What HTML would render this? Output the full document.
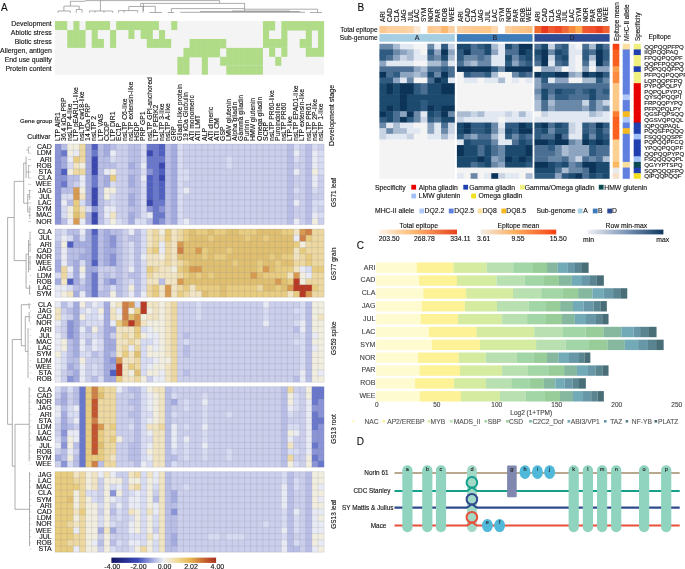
<!DOCTYPE html>
<html><head><meta charset="utf-8"><style>
html,body{margin:0;padding:0;background:#fff;}
body{width:685px;height:569px;overflow:hidden;}
svg{display:block;font-family:"Liberation Sans", sans-serif;will-change:transform;}

</style></head><body>
<svg width="685" height="569" viewBox="0 0 685 569" font-family='"Liberation Sans", sans-serif'>
<rect width="685" height="569" fill="#fff"/>
<text x="0.9" y="10.9" font-size="10" text-anchor="start" fill="#111" stroke="#111" stroke-width="0.12">A</text>
<line x1="70.4" y1="1.3" x2="85" y2="1.3" stroke="#8a8a8a" stroke-width="0.7"/>
<line x1="85" y1="0.6" x2="219.6" y2="0.6" stroke="#8a8a8a" stroke-width="0.7"/>
<line x1="219.6" y1="0.6" x2="219.6" y2="3.2" stroke="#8a8a8a" stroke-width="0.7"/>
<line x1="140.7" y1="3.4" x2="244.6" y2="3.4" stroke="#8a8a8a" stroke-width="0.7"/>
<line x1="70.4" y1="1.3" x2="70.4" y2="6.1" stroke="#8a8a8a" stroke-width="0.7"/>
<line x1="63.9" y1="6.1" x2="79.2" y2="6.1" stroke="#8a8a8a" stroke-width="0.7"/>
<line x1="63.9" y1="6.1" x2="63.9" y2="11" stroke="#8a8a8a" stroke-width="0.7"/>
<line x1="79.2" y1="6.1" x2="79.2" y2="9.5" stroke="#8a8a8a" stroke-width="0.7"/>
<line x1="76.3" y1="9.5" x2="82.1" y2="9.5" stroke="#8a8a8a" stroke-width="0.7"/>
<line x1="76.3" y1="9.5" x2="76.3" y2="12.7" stroke="#8a8a8a" stroke-width="0.7"/>
<line x1="82.1" y1="9.5" x2="82.1" y2="12.7" stroke="#8a8a8a" stroke-width="0.7"/>
<line x1="58" y1="11" x2="70.4" y2="11" stroke="#8a8a8a" stroke-width="0.7"/>
<line x1="58" y1="11" x2="58" y2="12.7" stroke="#8a8a8a" stroke-width="0.7"/>
<line x1="70.4" y1="11" x2="70.4" y2="12.7" stroke="#8a8a8a" stroke-width="0.7"/>
<line x1="100.4" y1="0.6" x2="100.4" y2="11" stroke="#8a8a8a" stroke-width="0.7"/>
<line x1="89.4" y1="11" x2="112.8" y2="11" stroke="#8a8a8a" stroke-width="0.7"/>
<line x1="89.4" y1="11" x2="89.4" y2="12.7" stroke="#8a8a8a" stroke-width="0.7"/>
<line x1="112.8" y1="11" x2="112.8" y2="12.7" stroke="#8a8a8a" stroke-width="0.7"/>
<line x1="95" y1="11" x2="95" y2="12.7" stroke="#8a8a8a" stroke-width="0.7"/>
<line x1="104" y1="11" x2="104" y2="12.7" stroke="#8a8a8a" stroke-width="0.7"/>
<line x1="143.4" y1="3.4" x2="143.4" y2="11" stroke="#8a8a8a" stroke-width="0.7"/>
<line x1="128.8" y1="6.5" x2="143.4" y2="6.5" stroke="#8a8a8a" stroke-width="0.7"/>
<line x1="128.8" y1="6.5" x2="128.8" y2="10.6" stroke="#8a8a8a" stroke-width="0.7"/>
<line x1="118.6" y1="10.6" x2="137.6" y2="10.6" stroke="#8a8a8a" stroke-width="0.7"/>
<line x1="118.6" y1="10.6" x2="118.6" y2="12.7" stroke="#8a8a8a" stroke-width="0.7"/>
<line x1="137.6" y1="10.6" x2="137.6" y2="12.7" stroke="#8a8a8a" stroke-width="0.7"/>
<line x1="124" y1="10.6" x2="124" y2="12.7" stroke="#8a8a8a" stroke-width="0.7"/>
<line x1="140.7" y1="3.4" x2="140.7" y2="6.3" stroke="#8a8a8a" stroke-width="0.7"/>
<line x1="143" y1="6.3" x2="155.3" y2="6.3" stroke="#8a8a8a" stroke-width="0.7"/>
<line x1="143" y1="6.3" x2="143" y2="12.5" stroke="#8a8a8a" stroke-width="0.7"/>
<line x1="155.3" y1="6.3" x2="155.3" y2="12.5" stroke="#8a8a8a" stroke-width="0.7"/>
<line x1="149.5" y1="12.5" x2="161.9" y2="12.5" stroke="#8a8a8a" stroke-width="0.7"/>
<line x1="171.4" y1="8.6" x2="244.6" y2="8.6" stroke="#8a8a8a" stroke-width="0.7"/>
<line x1="171.4" y1="8.6" x2="171.4" y2="12.5" stroke="#8a8a8a" stroke-width="0.7"/>
<line x1="167.7" y1="12.5" x2="174.3" y2="12.5" stroke="#8a8a8a" stroke-width="0.7"/>
<line x1="244.6" y1="3.4" x2="244.6" y2="11" stroke="#8a8a8a" stroke-width="0.7"/>
<line x1="244.6" y1="9.2" x2="317.6" y2="9.2" stroke="#8a8a8a" stroke-width="0.7"/>
<line x1="317.6" y1="9.2" x2="317.6" y2="12.5" stroke="#8a8a8a" stroke-width="0.7"/>
<line x1="310" y1="12.5" x2="322" y2="12.5" stroke="#8a8a8a" stroke-width="0.7"/>
<line x1="180.1" y1="12.3" x2="305" y2="12.3" stroke="#8a8a8a" stroke-width="0.7"/>
<line x1="200" y1="11.5" x2="300" y2="11.5" stroke="#8a8a8a" stroke-width="0.7"/>
<line x1="232" y1="11" x2="290" y2="11" stroke="#8a8a8a" stroke-width="0.7"/>
<rect x="55" y="21.1" width="269.1" height="53.58" fill="#f4f4f4"/>
<rect x="55" y="21.1" width="12.23" height="8.93" fill="#b0dc88"/>
<rect x="73.35" y="21.1" width="6.12" height="9.43" fill="#b0dc88"/>
<rect x="85.58" y="21.1" width="24.46" height="8.93" fill="#b0dc88"/>
<rect x="116.16" y="21.1" width="42.81" height="8.93" fill="#b0dc88"/>
<rect x="171.2" y="21.1" width="6.12" height="8.93" fill="#b0dc88"/>
<rect x="262.94" y="21.1" width="12.23" height="9.43" fill="#b0dc88"/>
<rect x="281.29" y="21.1" width="42.81" height="9.43" fill="#b0dc88"/>
<text x="51.8" y="26.07" font-size="6.9" text-anchor="end" fill="#111" stroke="#111" stroke-width="0.12">Development</text>
<rect x="67.23" y="30.03" width="18.35" height="9.43" fill="#b0dc88"/>
<rect x="91.7" y="30.03" width="6.12" height="9.43" fill="#b0dc88"/>
<rect x="110.04" y="30.03" width="6.12" height="9.43" fill="#b0dc88"/>
<rect x="128.39" y="30.03" width="6.12" height="8.93" fill="#b0dc88"/>
<rect x="140.62" y="30.03" width="12.23" height="8.93" fill="#b0dc88"/>
<rect x="158.97" y="30.03" width="6.12" height="9.43" fill="#b0dc88"/>
<rect x="262.94" y="30.03" width="6.12" height="9.43" fill="#b0dc88"/>
<rect x="281.29" y="30.03" width="6.12" height="9.43" fill="#b0dc88"/>
<rect x="305.76" y="30.03" width="6.12" height="9.43" fill="#b0dc88"/>
<rect x="317.99" y="30.03" width="6.12" height="9.43" fill="#b0dc88"/>
<text x="51.8" y="35" font-size="6.9" text-anchor="end" fill="#111" stroke="#111" stroke-width="0.12">Abiotic stress</text>
<rect x="67.23" y="38.96" width="18.35" height="8.93" fill="#b0dc88"/>
<rect x="91.7" y="38.96" width="12.23" height="8.93" fill="#b0dc88"/>
<rect x="110.04" y="38.96" width="6.12" height="8.93" fill="#b0dc88"/>
<rect x="146.74" y="38.96" width="24.46" height="8.93" fill="#b0dc88"/>
<rect x="189.55" y="38.96" width="36.7" height="9.43" fill="#b0dc88"/>
<rect x="262.94" y="38.96" width="24.46" height="8.93" fill="#b0dc88"/>
<rect x="299.64" y="38.96" width="12.23" height="8.93" fill="#b0dc88"/>
<rect x="317.99" y="38.96" width="6.12" height="9.43" fill="#b0dc88"/>
<text x="51.8" y="43.92" font-size="6.9" text-anchor="end" fill="#111" stroke="#111" stroke-width="0.12">Biotic stress</text>
<rect x="183.44" y="47.89" width="36.7" height="9.43" fill="#b0dc88"/>
<rect x="226.25" y="47.89" width="36.7" height="9.43" fill="#b0dc88"/>
<rect x="269.06" y="47.89" width="6.12" height="8.93" fill="#b0dc88"/>
<rect x="281.29" y="47.89" width="6.12" height="8.93" fill="#b0dc88"/>
<rect x="305.76" y="47.89" width="18.35" height="8.93" fill="#b0dc88"/>
<text x="51.8" y="52.86" font-size="6.9" text-anchor="end" fill="#111" stroke="#111" stroke-width="0.12">Allergen, antigen</text>
<rect x="177.32" y="56.82" width="12.23" height="9.43" fill="#b0dc88"/>
<rect x="201.78" y="56.82" width="6.12" height="9.43" fill="#b0dc88"/>
<rect x="220.13" y="56.82" width="42.81" height="8.93" fill="#b0dc88"/>
<rect x="275.18" y="56.82" width="6.12" height="8.93" fill="#b0dc88"/>
<text x="51.8" y="61.78" font-size="6.9" text-anchor="end" fill="#111" stroke="#111" stroke-width="0.12">End use quality</text>
<rect x="177.32" y="65.75" width="12.23" height="8.93" fill="#b0dc88"/>
<rect x="201.78" y="65.75" width="6.12" height="8.93" fill="#b0dc88"/>
<rect x="226.25" y="65.75" width="36.7" height="8.93" fill="#b0dc88"/>
<text x="51.8" y="70.72" font-size="6.9" text-anchor="end" fill="#111" stroke="#111" stroke-width="0.12">Protein content</text>
<line x1="61.12" y1="21.1" x2="61.12" y2="74.68" stroke="#ffffff" stroke-width="0.4" stroke-opacity="0.12"/>
<line x1="67.23" y1="21.1" x2="67.23" y2="74.68" stroke="#ffffff" stroke-width="0.4" stroke-opacity="0.12"/>
<line x1="73.35" y1="21.1" x2="73.35" y2="74.68" stroke="#ffffff" stroke-width="0.4" stroke-opacity="0.12"/>
<line x1="79.46" y1="21.1" x2="79.46" y2="74.68" stroke="#ffffff" stroke-width="0.4" stroke-opacity="0.12"/>
<line x1="85.58" y1="21.1" x2="85.58" y2="74.68" stroke="#ffffff" stroke-width="0.4" stroke-opacity="0.12"/>
<line x1="91.7" y1="21.1" x2="91.7" y2="74.68" stroke="#ffffff" stroke-width="0.4" stroke-opacity="0.12"/>
<line x1="97.81" y1="21.1" x2="97.81" y2="74.68" stroke="#ffffff" stroke-width="0.4" stroke-opacity="0.12"/>
<line x1="103.93" y1="21.1" x2="103.93" y2="74.68" stroke="#ffffff" stroke-width="0.4" stroke-opacity="0.12"/>
<line x1="110.04" y1="21.1" x2="110.04" y2="74.68" stroke="#ffffff" stroke-width="0.4" stroke-opacity="0.12"/>
<line x1="116.16" y1="21.1" x2="116.16" y2="74.68" stroke="#ffffff" stroke-width="0.4" stroke-opacity="0.12"/>
<line x1="122.28" y1="21.1" x2="122.28" y2="74.68" stroke="#ffffff" stroke-width="0.4" stroke-opacity="0.12"/>
<line x1="128.39" y1="21.1" x2="128.39" y2="74.68" stroke="#ffffff" stroke-width="0.4" stroke-opacity="0.12"/>
<line x1="134.51" y1="21.1" x2="134.51" y2="74.68" stroke="#ffffff" stroke-width="0.4" stroke-opacity="0.12"/>
<line x1="140.62" y1="21.1" x2="140.62" y2="74.68" stroke="#ffffff" stroke-width="0.4" stroke-opacity="0.12"/>
<line x1="146.74" y1="21.1" x2="146.74" y2="74.68" stroke="#ffffff" stroke-width="0.4" stroke-opacity="0.12"/>
<line x1="152.86" y1="21.1" x2="152.86" y2="74.68" stroke="#ffffff" stroke-width="0.4" stroke-opacity="0.12"/>
<line x1="158.97" y1="21.1" x2="158.97" y2="74.68" stroke="#ffffff" stroke-width="0.4" stroke-opacity="0.12"/>
<line x1="165.09" y1="21.1" x2="165.09" y2="74.68" stroke="#ffffff" stroke-width="0.4" stroke-opacity="0.12"/>
<line x1="171.2" y1="21.1" x2="171.2" y2="74.68" stroke="#ffffff" stroke-width="0.4" stroke-opacity="0.12"/>
<line x1="177.32" y1="21.1" x2="177.32" y2="74.68" stroke="#ffffff" stroke-width="0.4" stroke-opacity="0.12"/>
<line x1="183.44" y1="21.1" x2="183.44" y2="74.68" stroke="#ffffff" stroke-width="0.4" stroke-opacity="0.12"/>
<line x1="189.55" y1="21.1" x2="189.55" y2="74.68" stroke="#ffffff" stroke-width="0.4" stroke-opacity="0.12"/>
<line x1="195.67" y1="21.1" x2="195.67" y2="74.68" stroke="#ffffff" stroke-width="0.4" stroke-opacity="0.12"/>
<line x1="201.78" y1="21.1" x2="201.78" y2="74.68" stroke="#ffffff" stroke-width="0.4" stroke-opacity="0.12"/>
<line x1="207.9" y1="21.1" x2="207.9" y2="74.68" stroke="#ffffff" stroke-width="0.4" stroke-opacity="0.12"/>
<line x1="214.02" y1="21.1" x2="214.02" y2="74.68" stroke="#ffffff" stroke-width="0.4" stroke-opacity="0.12"/>
<line x1="220.13" y1="21.1" x2="220.13" y2="74.68" stroke="#ffffff" stroke-width="0.4" stroke-opacity="0.12"/>
<line x1="226.25" y1="21.1" x2="226.25" y2="74.68" stroke="#ffffff" stroke-width="0.4" stroke-opacity="0.12"/>
<line x1="232.36" y1="21.1" x2="232.36" y2="74.68" stroke="#ffffff" stroke-width="0.4" stroke-opacity="0.12"/>
<line x1="238.48" y1="21.1" x2="238.48" y2="74.68" stroke="#ffffff" stroke-width="0.4" stroke-opacity="0.12"/>
<line x1="244.6" y1="21.1" x2="244.6" y2="74.68" stroke="#ffffff" stroke-width="0.4" stroke-opacity="0.12"/>
<line x1="250.71" y1="21.1" x2="250.71" y2="74.68" stroke="#ffffff" stroke-width="0.4" stroke-opacity="0.12"/>
<line x1="256.83" y1="21.1" x2="256.83" y2="74.68" stroke="#ffffff" stroke-width="0.4" stroke-opacity="0.12"/>
<line x1="262.94" y1="21.1" x2="262.94" y2="74.68" stroke="#ffffff" stroke-width="0.4" stroke-opacity="0.12"/>
<line x1="269.06" y1="21.1" x2="269.06" y2="74.68" stroke="#ffffff" stroke-width="0.4" stroke-opacity="0.12"/>
<line x1="275.18" y1="21.1" x2="275.18" y2="74.68" stroke="#ffffff" stroke-width="0.4" stroke-opacity="0.12"/>
<line x1="281.29" y1="21.1" x2="281.29" y2="74.68" stroke="#ffffff" stroke-width="0.4" stroke-opacity="0.12"/>
<line x1="287.41" y1="21.1" x2="287.41" y2="74.68" stroke="#ffffff" stroke-width="0.4" stroke-opacity="0.12"/>
<line x1="293.52" y1="21.1" x2="293.52" y2="74.68" stroke="#ffffff" stroke-width="0.4" stroke-opacity="0.12"/>
<line x1="299.64" y1="21.1" x2="299.64" y2="74.68" stroke="#ffffff" stroke-width="0.4" stroke-opacity="0.12"/>
<line x1="305.76" y1="21.1" x2="305.76" y2="74.68" stroke="#ffffff" stroke-width="0.4" stroke-opacity="0.12"/>
<line x1="311.87" y1="21.1" x2="311.87" y2="74.68" stroke="#ffffff" stroke-width="0.4" stroke-opacity="0.12"/>
<line x1="317.99" y1="21.1" x2="317.99" y2="74.68" stroke="#ffffff" stroke-width="0.4" stroke-opacity="0.12"/>
<text transform="translate(59.76,140.9) rotate(-90)" font-size="6.85" text-anchor="start" fill="#111" stroke="#111" stroke-width="0.12">LTP AIR1</text>
<text transform="translate(65.87,140.9) rotate(-90)" font-size="6.85" text-anchor="start" fill="#111" stroke="#111" stroke-width="0.12">36.4 kDa PRP</text>
<text transform="translate(71.99,140.9) rotate(-90)" font-size="6.85" text-anchor="start" fill="#111" stroke="#111" stroke-width="0.12">nsLTP 4-like</text>
<text transform="translate(78.11,140.9) rotate(-90)" font-size="6.85" text-anchor="start" fill="#111" stroke="#111" stroke-width="0.12">LTP pEARLI1-like</text>
<text transform="translate(84.22,140.9) rotate(-90)" font-size="6.85" text-anchor="start" fill="#111" stroke="#111" stroke-width="0.12">nsLTP cw18-like</text>
<text transform="translate(90.34,140.9) rotate(-90)" font-size="6.85" text-anchor="start" fill="#111" stroke="#111" stroke-width="0.12">14 kDa PRP</text>
<text transform="translate(96.45,140.9) rotate(-90)" font-size="6.85" text-anchor="start" fill="#111" stroke="#111" stroke-width="0.12">nsLTP 2</text>
<text transform="translate(102.57,140.9) rotate(-90)" font-size="6.85" text-anchor="start" fill="#111" stroke="#111" stroke-width="0.12">LTP VAS</text>
<text transform="translate(108.69,140.9) rotate(-90)" font-size="6.85" text-anchor="start" fill="#111" stroke="#111" stroke-width="0.12">CCDP</text>
<text transform="translate(114.8,140.9) rotate(-90)" font-size="6.85" text-anchor="start" fill="#111" stroke="#111" stroke-width="0.12">LTP DIR1</text>
<text transform="translate(120.92,140.9) rotate(-90)" font-size="6.85" text-anchor="start" fill="#111" stroke="#111" stroke-width="0.12">EC1P</text>
<text transform="translate(127.03,140.9) rotate(-90)" font-size="6.85" text-anchor="start" fill="#111" stroke="#111" stroke-width="0.12">nsLTP C6-like</text>
<text transform="translate(133.15,140.9) rotate(-90)" font-size="6.85" text-anchor="start" fill="#111" stroke="#111" stroke-width="0.12">nsLTP extensin-like</text>
<text transform="translate(139.27,140.9) rotate(-90)" font-size="6.85" text-anchor="start" fill="#111" stroke="#111" stroke-width="0.12">HSDP</text>
<text transform="translate(145.38,140.9) rotate(-90)" font-size="6.85" text-anchor="start" fill="#111" stroke="#111" stroke-width="0.12">PRP GP1</text>
<text transform="translate(151.5,140.9) rotate(-90)" font-size="6.85" text-anchor="start" fill="#111" stroke="#111" stroke-width="0.12">nsLTP GPI-anchored</text>
<text transform="translate(157.61,140.9) rotate(-90)" font-size="6.85" text-anchor="start" fill="#111" stroke="#111" stroke-width="0.12">LTP PERK2</text>
<text transform="translate(163.73,140.9) rotate(-90)" font-size="6.85" text-anchor="start" fill="#111" stroke="#111" stroke-width="0.12">nsLTP 3-like</text>
<text transform="translate(169.85,140.9) rotate(-90)" font-size="6.85" text-anchor="start" fill="#111" stroke="#111" stroke-width="0.12">nsLTP A-like</text>
<text transform="translate(175.96,140.9) rotate(-90)" font-size="6.85" text-anchor="start" fill="#111" stroke="#111" stroke-width="0.12">GRP</text>
<text transform="translate(182.08,140.9) rotate(-90)" font-size="6.85" text-anchor="start" fill="#111" stroke="#111" stroke-width="0.12">Gliadin-like protein</text>
<text transform="translate(188.19,140.9) rotate(-90)" font-size="6.85" text-anchor="start" fill="#111" stroke="#111" stroke-width="0.12">19 kDa Globulin</text>
<text transform="translate(194.31,140.9) rotate(-90)" font-size="6.85" text-anchor="start" fill="#111" stroke="#111" stroke-width="0.12">ATI monomeric</text>
<text transform="translate(200.43,140.9) rotate(-90)" font-size="6.85" text-anchor="start" fill="#111" stroke="#111" stroke-width="0.12">ATI LMT</text>
<text transform="translate(206.54,140.9) rotate(-90)" font-size="6.85" text-anchor="start" fill="#111" stroke="#111" stroke-width="0.12">ALP</text>
<text transform="translate(212.66,140.9) rotate(-90)" font-size="6.85" text-anchor="start" fill="#111" stroke="#111" stroke-width="0.12">ATI dimeric</text>
<text transform="translate(218.77,140.9) rotate(-90)" font-size="6.85" text-anchor="start" fill="#111" stroke="#111" stroke-width="0.12">ATI CM</text>
<text transform="translate(224.89,140.9) rotate(-90)" font-size="6.85" text-anchor="start" fill="#111" stroke="#111" stroke-width="0.12">GSP</text>
<text transform="translate(231.01,140.9) rotate(-90)" font-size="6.85" text-anchor="start" fill="#111" stroke="#111" stroke-width="0.12">LMW glutenin</text>
<text transform="translate(237.12,140.9) rotate(-90)" font-size="6.85" text-anchor="start" fill="#111" stroke="#111" stroke-width="0.12">Alpha gliadin</text>
<text transform="translate(243.24,140.9) rotate(-90)" font-size="6.85" text-anchor="start" fill="#111" stroke="#111" stroke-width="0.12">Gamma gliadin</text>
<text transform="translate(249.35,140.9) rotate(-90)" font-size="6.85" text-anchor="start" fill="#111" stroke="#111" stroke-width="0.12">Purinin</text>
<text transform="translate(255.47,140.9) rotate(-90)" font-size="6.85" text-anchor="start" fill="#111" stroke="#111" stroke-width="0.12">HMW glutenin</text>
<text transform="translate(261.59,140.9) rotate(-90)" font-size="6.85" text-anchor="start" fill="#111" stroke="#111" stroke-width="0.12">Omega gliadin</text>
<text transform="translate(267.7,140.9) rotate(-90)" font-size="6.85" text-anchor="start" fill="#111" stroke="#111" stroke-width="0.12">SCRP</text>
<text transform="translate(273.82,140.9) rotate(-90)" font-size="6.85" text-anchor="start" fill="#111" stroke="#111" stroke-width="0.12">nsLTP PR60-like</text>
<text transform="translate(279.93,140.9) rotate(-90)" font-size="6.85" text-anchor="start" fill="#111" stroke="#111" stroke-width="0.12">Puroindoline</text>
<text transform="translate(286.05,140.9) rotate(-90)" font-size="6.85" text-anchor="start" fill="#111" stroke="#111" stroke-width="0.12">nsLTP PR60</text>
<text transform="translate(292.17,140.9) rotate(-90)" font-size="6.85" text-anchor="start" fill="#111" stroke="#111" stroke-width="0.12">LTP-like</text>
<text transform="translate(298.28,140.9) rotate(-90)" font-size="6.85" text-anchor="start" fill="#111" stroke="#111" stroke-width="0.12">nsLTP EPAD1-like</text>
<text transform="translate(304.4,140.9) rotate(-90)" font-size="6.85" text-anchor="start" fill="#111" stroke="#111" stroke-width="0.12">LTP extensin-like</text>
<text transform="translate(310.51,140.9) rotate(-90)" font-size="6.85" text-anchor="start" fill="#111" stroke="#111" stroke-width="0.12">nsLTP PR61</text>
<text transform="translate(316.63,140.9) rotate(-90)" font-size="6.85" text-anchor="start" fill="#111" stroke="#111" stroke-width="0.12">nsLTP 2P-like</text>
<text transform="translate(322.75,140.9) rotate(-90)" font-size="6.85" text-anchor="start" fill="#111" stroke="#111" stroke-width="0.12">nsLTP 1-like</text>
<text x="52.1" y="122.6" font-size="6.1" text-anchor="end" fill="#111" stroke="#111" stroke-width="0.12">Gene group</text>
<text x="50.6" y="139.1" font-size="6.9" text-anchor="end" fill="#111" stroke="#111" stroke-width="0.12">Cultivar</text>
<text transform="translate(334.3,115.4) rotate(-90)" font-size="7.1" text-anchor="middle" fill="#111" stroke="#111" stroke-width="0.12">Development stage</text>
<rect x="55" y="144" width="6.62" height="6.7" fill="#8a94d6"/>
<rect x="61.12" y="144" width="6.62" height="6.7" fill="#b8bee6"/>
<rect x="67.23" y="144" width="12.73" height="6.7" fill="#f1eee0"/>
<rect x="79.46" y="144" width="6.62" height="6.7" fill="#ecd8a0"/>
<rect x="85.58" y="144" width="6.62" height="6.7" fill="#a4acdf"/>
<rect x="91.7" y="144" width="6.62" height="6.7" fill="#5060c0"/>
<rect x="97.81" y="144" width="6.62" height="6.7" fill="#b8bee6"/>
<rect x="103.93" y="144" width="6.62" height="6.7" fill="#a4acdf"/>
<rect x="110.04" y="144" width="6.62" height="6.7" fill="#b8bee6"/>
<rect x="116.16" y="144" width="12.73" height="6.7" fill="#cbcfeb"/>
<rect x="128.39" y="144" width="12.73" height="6.7" fill="#b8bee6"/>
<rect x="140.62" y="144" width="6.62" height="6.7" fill="#d8dcf2"/>
<rect x="146.74" y="144" width="12.73" height="6.7" fill="#6a78cc"/>
<rect x="158.97" y="144" width="6.62" height="6.7" fill="#5060c0"/>
<rect x="165.09" y="144" width="6.62" height="6.7" fill="#b8bee6"/>
<rect x="171.2" y="144" width="6.62" height="6.7" fill="#a4acdf"/>
<rect x="177.32" y="144" width="6.62" height="6.7" fill="#d8dcf2"/>
<rect x="183.44" y="144" width="104.47" height="6.7" fill="#cbcfeb"/>
<rect x="287.41" y="144" width="6.62" height="6.7" fill="#b8bee6"/>
<rect x="293.52" y="144" width="6.62" height="6.7" fill="#d8dcf2"/>
<rect x="299.64" y="144" width="6.62" height="6.7" fill="#cbcfeb"/>
<rect x="305.76" y="144" width="6.62" height="6.7" fill="#b8bee6"/>
<rect x="311.87" y="144" width="6.62" height="6.7" fill="#d8dcf2"/>
<rect x="317.99" y="144" width="6.12" height="6.7" fill="#cbcfeb"/>
<text x="51.7" y="149.2" font-size="7" text-anchor="end" fill="#111" stroke="#111" stroke-width="0.12">CAD</text>
<rect x="55" y="150.2" width="6.62" height="6.7" fill="#8a94d6"/>
<rect x="61.12" y="150.2" width="6.62" height="6.7" fill="#6a78cc"/>
<rect x="67.23" y="150.2" width="6.62" height="6.7" fill="#f1eee0"/>
<rect x="73.35" y="150.2" width="6.62" height="6.7" fill="#e8eaf4"/>
<rect x="79.46" y="150.2" width="6.62" height="6.7" fill="#ecd8a0"/>
<rect x="85.58" y="150.2" width="6.62" height="6.7" fill="#a4acdf"/>
<rect x="91.7" y="150.2" width="6.62" height="6.7" fill="#6a78cc"/>
<rect x="97.81" y="150.2" width="6.62" height="6.7" fill="#b8bee6"/>
<rect x="103.93" y="150.2" width="6.62" height="6.7" fill="#a4acdf"/>
<rect x="110.04" y="150.2" width="6.62" height="6.7" fill="#e8eaf4"/>
<rect x="116.16" y="150.2" width="12.73" height="6.7" fill="#cbcfeb"/>
<rect x="128.39" y="150.2" width="12.73" height="6.7" fill="#b8bee6"/>
<rect x="140.62" y="150.2" width="6.62" height="6.7" fill="#d8dcf2"/>
<rect x="146.74" y="150.2" width="6.62" height="6.7" fill="#3a48b0"/>
<rect x="152.86" y="150.2" width="6.62" height="6.7" fill="#6a78cc"/>
<rect x="158.97" y="150.2" width="6.62" height="6.7" fill="#5060c0"/>
<rect x="165.09" y="150.2" width="6.62" height="6.7" fill="#b8bee6"/>
<rect x="171.2" y="150.2" width="6.62" height="6.7" fill="#a4acdf"/>
<rect x="177.32" y="150.2" width="6.62" height="6.7" fill="#d8dcf2"/>
<rect x="183.44" y="150.2" width="104.47" height="6.7" fill="#cbcfeb"/>
<rect x="287.41" y="150.2" width="6.62" height="6.7" fill="#b8bee6"/>
<rect x="293.52" y="150.2" width="6.62" height="6.7" fill="#e8eaf4"/>
<rect x="299.64" y="150.2" width="6.62" height="6.7" fill="#cbcfeb"/>
<rect x="305.76" y="150.2" width="6.62" height="6.7" fill="#b8bee6"/>
<rect x="311.87" y="150.2" width="6.62" height="6.7" fill="#e8eaf4"/>
<rect x="317.99" y="150.2" width="6.12" height="6.7" fill="#d8dcf2"/>
<text x="51.7" y="155.4" font-size="7" text-anchor="end" fill="#111" stroke="#111" stroke-width="0.12">LDM</text>
<rect x="55" y="156.4" width="6.62" height="6.7" fill="#8a94d6"/>
<rect x="61.12" y="156.4" width="6.62" height="6.7" fill="#a4acdf"/>
<rect x="67.23" y="156.4" width="6.62" height="6.7" fill="#e8eaf4"/>
<rect x="73.35" y="156.4" width="6.62" height="6.7" fill="#e8cc80"/>
<rect x="79.46" y="156.4" width="6.62" height="6.7" fill="#ecd8a0"/>
<rect x="85.58" y="156.4" width="6.62" height="6.7" fill="#a4acdf"/>
<rect x="91.7" y="156.4" width="6.62" height="6.7" fill="#3a48b0"/>
<rect x="97.81" y="156.4" width="12.73" height="6.7" fill="#b8bee6"/>
<rect x="110.04" y="156.4" width="6.62" height="6.7" fill="#d8dcf2"/>
<rect x="116.16" y="156.4" width="12.73" height="6.7" fill="#cbcfeb"/>
<rect x="128.39" y="156.4" width="12.73" height="6.7" fill="#b8bee6"/>
<rect x="140.62" y="156.4" width="6.62" height="6.7" fill="#d8dcf2"/>
<rect x="146.74" y="156.4" width="18.85" height="6.7" fill="#6a78cc"/>
<rect x="165.09" y="156.4" width="6.62" height="6.7" fill="#b8bee6"/>
<rect x="171.2" y="156.4" width="6.62" height="6.7" fill="#a4acdf"/>
<rect x="177.32" y="156.4" width="6.62" height="6.7" fill="#d8dcf2"/>
<rect x="183.44" y="156.4" width="43.31" height="6.7" fill="#cbcfeb"/>
<rect x="226.25" y="156.4" width="6.62" height="6.7" fill="#d8dcf2"/>
<rect x="232.36" y="156.4" width="55.54" height="6.7" fill="#cbcfeb"/>
<rect x="287.41" y="156.4" width="6.62" height="6.7" fill="#b8bee6"/>
<rect x="293.52" y="156.4" width="6.62" height="6.7" fill="#d8dcf2"/>
<rect x="299.64" y="156.4" width="6.62" height="6.7" fill="#cbcfeb"/>
<rect x="305.76" y="156.4" width="6.62" height="6.7" fill="#b8bee6"/>
<rect x="311.87" y="156.4" width="6.62" height="6.7" fill="#e8eaf4"/>
<rect x="317.99" y="156.4" width="6.12" height="6.7" fill="#d8dcf2"/>
<text x="51.7" y="161.6" font-size="7" text-anchor="end" fill="#111" stroke="#111" stroke-width="0.12">ARI</text>
<rect x="55" y="162.6" width="6.62" height="6.7" fill="#8a94d6"/>
<rect x="61.12" y="162.6" width="6.62" height="6.7" fill="#a4acdf"/>
<rect x="67.23" y="162.6" width="6.62" height="6.7" fill="#d8dcf2"/>
<rect x="73.35" y="162.6" width="6.62" height="6.7" fill="#f0e4c2"/>
<rect x="79.46" y="162.6" width="6.62" height="6.7" fill="#f1eee0"/>
<rect x="85.58" y="162.6" width="6.62" height="6.7" fill="#a4acdf"/>
<rect x="91.7" y="162.6" width="6.62" height="6.7" fill="#3a48b0"/>
<rect x="97.81" y="162.6" width="18.85" height="6.7" fill="#b8bee6"/>
<rect x="116.16" y="162.6" width="12.73" height="6.7" fill="#cbcfeb"/>
<rect x="128.39" y="162.6" width="6.62" height="6.7" fill="#a4acdf"/>
<rect x="134.51" y="162.6" width="6.62" height="6.7" fill="#b8bee6"/>
<rect x="140.62" y="162.6" width="6.62" height="6.7" fill="#e8eaf4"/>
<rect x="146.74" y="162.6" width="12.73" height="6.7" fill="#6a78cc"/>
<rect x="158.97" y="162.6" width="6.62" height="6.7" fill="#3a48b0"/>
<rect x="165.09" y="162.6" width="6.62" height="6.7" fill="#b8bee6"/>
<rect x="171.2" y="162.6" width="6.62" height="6.7" fill="#a4acdf"/>
<rect x="177.32" y="162.6" width="6.62" height="6.7" fill="#d8dcf2"/>
<rect x="183.44" y="162.6" width="43.31" height="6.7" fill="#cbcfeb"/>
<rect x="226.25" y="162.6" width="6.62" height="6.7" fill="#d8dcf2"/>
<rect x="232.36" y="162.6" width="55.54" height="6.7" fill="#cbcfeb"/>
<rect x="287.41" y="162.6" width="6.62" height="6.7" fill="#b8bee6"/>
<rect x="293.52" y="162.6" width="12.73" height="6.7" fill="#cbcfeb"/>
<rect x="305.76" y="162.6" width="6.62" height="6.7" fill="#b8bee6"/>
<rect x="311.87" y="162.6" width="6.62" height="6.7" fill="#e8eaf4"/>
<rect x="317.99" y="162.6" width="6.12" height="6.7" fill="#d8dcf2"/>
<text x="51.7" y="167.8" font-size="7" text-anchor="end" fill="#111" stroke="#111" stroke-width="0.12">ROB</text>
<rect x="55" y="168.8" width="6.62" height="6.7" fill="#8a94d6"/>
<rect x="61.12" y="168.8" width="6.62" height="6.7" fill="#5060c0"/>
<rect x="67.23" y="168.8" width="6.62" height="6.7" fill="#f1eee0"/>
<rect x="73.35" y="168.8" width="12.73" height="6.7" fill="#ecd8a0"/>
<rect x="85.58" y="168.8" width="6.62" height="6.7" fill="#a4acdf"/>
<rect x="91.7" y="168.8" width="6.62" height="6.7" fill="#3a48b0"/>
<rect x="97.81" y="168.8" width="6.62" height="6.7" fill="#b8bee6"/>
<rect x="103.93" y="168.8" width="6.62" height="6.7" fill="#e8eaf4"/>
<rect x="110.04" y="168.8" width="6.62" height="6.7" fill="#f1eee0"/>
<rect x="116.16" y="168.8" width="12.73" height="6.7" fill="#cbcfeb"/>
<rect x="128.39" y="168.8" width="12.73" height="6.7" fill="#b8bee6"/>
<rect x="140.62" y="168.8" width="6.62" height="6.7" fill="#d8dcf2"/>
<rect x="146.74" y="168.8" width="6.62" height="6.7" fill="#8a94d6"/>
<rect x="152.86" y="168.8" width="6.62" height="6.7" fill="#6a78cc"/>
<rect x="158.97" y="168.8" width="6.62" height="6.7" fill="#5060c0"/>
<rect x="165.09" y="168.8" width="6.62" height="6.7" fill="#b8bee6"/>
<rect x="171.2" y="168.8" width="6.62" height="6.7" fill="#a4acdf"/>
<rect x="177.32" y="168.8" width="12.73" height="6.7" fill="#d8dcf2"/>
<rect x="189.55" y="168.8" width="98.36" height="6.7" fill="#cbcfeb"/>
<rect x="287.41" y="168.8" width="6.62" height="6.7" fill="#b8bee6"/>
<rect x="293.52" y="168.8" width="6.62" height="6.7" fill="#e8eaf4"/>
<rect x="299.64" y="168.8" width="6.62" height="6.7" fill="#cbcfeb"/>
<rect x="305.76" y="168.8" width="6.62" height="6.7" fill="#b8bee6"/>
<rect x="311.87" y="168.8" width="6.62" height="6.7" fill="#f1eee0"/>
<rect x="317.99" y="168.8" width="6.12" height="6.7" fill="#d8dcf2"/>
<text x="51.7" y="174" font-size="7" text-anchor="end" fill="#111" stroke="#111" stroke-width="0.12">STA</text>
<rect x="55" y="175" width="12.73" height="6.7" fill="#8a94d6"/>
<rect x="67.23" y="175" width="12.73" height="6.7" fill="#b8bee6"/>
<rect x="79.46" y="175" width="6.62" height="6.7" fill="#e8eaf4"/>
<rect x="85.58" y="175" width="6.62" height="6.7" fill="#a4acdf"/>
<rect x="91.7" y="175" width="6.62" height="6.7" fill="#6a78cc"/>
<rect x="97.81" y="175" width="6.62" height="6.7" fill="#b8bee6"/>
<rect x="103.93" y="175" width="6.62" height="6.7" fill="#a4acdf"/>
<rect x="110.04" y="175" width="6.62" height="6.7" fill="#e8cc80"/>
<rect x="116.16" y="175" width="12.73" height="6.7" fill="#cbcfeb"/>
<rect x="128.39" y="175" width="6.62" height="6.7" fill="#a4acdf"/>
<rect x="134.51" y="175" width="6.62" height="6.7" fill="#b8bee6"/>
<rect x="140.62" y="175" width="6.62" height="6.7" fill="#e8eaf4"/>
<rect x="146.74" y="175" width="6.62" height="6.7" fill="#5060c0"/>
<rect x="152.86" y="175" width="6.62" height="6.7" fill="#6a78cc"/>
<rect x="158.97" y="175" width="6.62" height="6.7" fill="#3a48b0"/>
<rect x="165.09" y="175" width="6.62" height="6.7" fill="#b8bee6"/>
<rect x="171.2" y="175" width="6.62" height="6.7" fill="#a4acdf"/>
<rect x="177.32" y="175" width="12.73" height="6.7" fill="#d8dcf2"/>
<rect x="189.55" y="175" width="98.36" height="6.7" fill="#cbcfeb"/>
<rect x="287.41" y="175" width="6.62" height="6.7" fill="#b8bee6"/>
<rect x="293.52" y="175" width="12.73" height="6.7" fill="#cbcfeb"/>
<rect x="305.76" y="175" width="6.62" height="6.7" fill="#b8bee6"/>
<rect x="311.87" y="175" width="6.62" height="6.7" fill="#e8eaf4"/>
<rect x="317.99" y="175" width="6.12" height="6.7" fill="#cbcfeb"/>
<text x="51.7" y="180.2" font-size="7" text-anchor="end" fill="#111" stroke="#111" stroke-width="0.12">CLA</text>
<rect x="55" y="181.2" width="6.62" height="6.7" fill="#8a94d6"/>
<rect x="61.12" y="181.2" width="6.62" height="6.7" fill="#6a78cc"/>
<rect x="67.23" y="181.2" width="6.62" height="6.7" fill="#b8bee6"/>
<rect x="73.35" y="181.2" width="6.62" height="6.7" fill="#cbcfeb"/>
<rect x="79.46" y="181.2" width="6.62" height="6.7" fill="#e8eaf4"/>
<rect x="85.58" y="181.2" width="6.62" height="6.7" fill="#a4acdf"/>
<rect x="91.7" y="181.2" width="6.62" height="6.7" fill="#6a78cc"/>
<rect x="97.81" y="181.2" width="6.62" height="6.7" fill="#b8bee6"/>
<rect x="103.93" y="181.2" width="6.62" height="6.7" fill="#a4acdf"/>
<rect x="110.04" y="181.2" width="6.62" height="6.7" fill="#d8dcf2"/>
<rect x="116.16" y="181.2" width="12.73" height="6.7" fill="#cbcfeb"/>
<rect x="128.39" y="181.2" width="6.62" height="6.7" fill="#a4acdf"/>
<rect x="134.51" y="181.2" width="6.62" height="6.7" fill="#b8bee6"/>
<rect x="140.62" y="181.2" width="6.62" height="6.7" fill="#d8dcf2"/>
<rect x="146.74" y="181.2" width="6.62" height="6.7" fill="#5060c0"/>
<rect x="152.86" y="181.2" width="6.62" height="6.7" fill="#6a78cc"/>
<rect x="158.97" y="181.2" width="6.62" height="6.7" fill="#5060c0"/>
<rect x="165.09" y="181.2" width="6.62" height="6.7" fill="#b8bee6"/>
<rect x="171.2" y="181.2" width="6.62" height="6.7" fill="#a4acdf"/>
<rect x="177.32" y="181.2" width="6.62" height="6.7" fill="#d8dcf2"/>
<rect x="183.44" y="181.2" width="104.47" height="6.7" fill="#cbcfeb"/>
<rect x="287.41" y="181.2" width="6.62" height="6.7" fill="#b8bee6"/>
<rect x="293.52" y="181.2" width="12.73" height="6.7" fill="#cbcfeb"/>
<rect x="305.76" y="181.2" width="6.62" height="6.7" fill="#b8bee6"/>
<rect x="311.87" y="181.2" width="6.62" height="6.7" fill="#e8eaf4"/>
<rect x="317.99" y="181.2" width="6.12" height="6.7" fill="#cbcfeb"/>
<text x="51.7" y="186.4" font-size="7" text-anchor="end" fill="#111" stroke="#111" stroke-width="0.12">WEE</text>
<rect x="55" y="187.4" width="6.62" height="6.7" fill="#8a94d6"/>
<rect x="61.12" y="187.4" width="12.73" height="6.7" fill="#b8bee6"/>
<rect x="73.35" y="187.4" width="6.62" height="6.7" fill="#d89a50"/>
<rect x="79.46" y="187.4" width="6.62" height="6.7" fill="#f1eee0"/>
<rect x="85.58" y="187.4" width="6.62" height="6.7" fill="#a4acdf"/>
<rect x="91.7" y="187.4" width="6.62" height="6.7" fill="#3a48b0"/>
<rect x="97.81" y="187.4" width="6.62" height="6.7" fill="#b8bee6"/>
<rect x="103.93" y="187.4" width="12.73" height="6.7" fill="#f1eee0"/>
<rect x="116.16" y="187.4" width="12.73" height="6.7" fill="#cbcfeb"/>
<rect x="128.39" y="187.4" width="12.73" height="6.7" fill="#b8bee6"/>
<rect x="140.62" y="187.4" width="6.62" height="6.7" fill="#d8dcf2"/>
<rect x="146.74" y="187.4" width="6.62" height="6.7" fill="#5060c0"/>
<rect x="152.86" y="187.4" width="6.62" height="6.7" fill="#6a78cc"/>
<rect x="158.97" y="187.4" width="6.62" height="6.7" fill="#5060c0"/>
<rect x="165.09" y="187.4" width="6.62" height="6.7" fill="#b8bee6"/>
<rect x="171.2" y="187.4" width="6.62" height="6.7" fill="#a4acdf"/>
<rect x="177.32" y="187.4" width="6.62" height="6.7" fill="#d8dcf2"/>
<rect x="183.44" y="187.4" width="6.62" height="6.7" fill="#e8eaf4"/>
<rect x="189.55" y="187.4" width="98.36" height="6.7" fill="#cbcfeb"/>
<rect x="287.41" y="187.4" width="6.62" height="6.7" fill="#b8bee6"/>
<rect x="293.52" y="187.4" width="6.62" height="6.7" fill="#d8dcf2"/>
<rect x="299.64" y="187.4" width="6.62" height="6.7" fill="#cbcfeb"/>
<rect x="305.76" y="187.4" width="6.62" height="6.7" fill="#b8bee6"/>
<rect x="311.87" y="187.4" width="6.62" height="6.7" fill="#d8dcf2"/>
<rect x="317.99" y="187.4" width="6.12" height="6.7" fill="#cbcfeb"/>
<text x="51.7" y="192.6" font-size="7" text-anchor="end" fill="#111" stroke="#111" stroke-width="0.12">JAG</text>
<rect x="55" y="193.6" width="6.62" height="6.7" fill="#8a94d6"/>
<rect x="61.12" y="193.6" width="12.73" height="6.7" fill="#d8dcf2"/>
<rect x="73.35" y="193.6" width="6.62" height="6.7" fill="#d89a50"/>
<rect x="79.46" y="193.6" width="6.62" height="6.7" fill="#f0e4c2"/>
<rect x="85.58" y="193.6" width="6.62" height="6.7" fill="#a4acdf"/>
<rect x="91.7" y="193.6" width="6.62" height="6.7" fill="#3a48b0"/>
<rect x="97.81" y="193.6" width="6.62" height="6.7" fill="#b8bee6"/>
<rect x="103.93" y="193.6" width="6.62" height="6.7" fill="#f1eee0"/>
<rect x="110.04" y="193.6" width="6.62" height="6.7" fill="#d8dcf2"/>
<rect x="116.16" y="193.6" width="12.73" height="6.7" fill="#cbcfeb"/>
<rect x="128.39" y="193.6" width="6.62" height="6.7" fill="#a4acdf"/>
<rect x="134.51" y="193.6" width="6.62" height="6.7" fill="#b8bee6"/>
<rect x="140.62" y="193.6" width="6.62" height="6.7" fill="#d8dcf2"/>
<rect x="146.74" y="193.6" width="6.62" height="6.7" fill="#5060c0"/>
<rect x="152.86" y="193.6" width="6.62" height="6.7" fill="#6a78cc"/>
<rect x="158.97" y="193.6" width="6.62" height="6.7" fill="#5060c0"/>
<rect x="165.09" y="193.6" width="6.62" height="6.7" fill="#b8bee6"/>
<rect x="171.2" y="193.6" width="6.62" height="6.7" fill="#a4acdf"/>
<rect x="177.32" y="193.6" width="6.62" height="6.7" fill="#d8dcf2"/>
<rect x="183.44" y="193.6" width="104.47" height="6.7" fill="#cbcfeb"/>
<rect x="287.41" y="193.6" width="6.62" height="6.7" fill="#b8bee6"/>
<rect x="293.52" y="193.6" width="12.73" height="6.7" fill="#cbcfeb"/>
<rect x="305.76" y="193.6" width="6.62" height="6.7" fill="#b8bee6"/>
<rect x="311.87" y="193.6" width="12.23" height="6.7" fill="#cbcfeb"/>
<text x="51.7" y="198.8" font-size="7" text-anchor="end" fill="#111" stroke="#111" stroke-width="0.12">JUL</text>
<rect x="55" y="199.8" width="6.62" height="6.7" fill="#8a94d6"/>
<rect x="61.12" y="199.8" width="6.62" height="6.7" fill="#e8eaf4"/>
<rect x="67.23" y="199.8" width="6.62" height="6.7" fill="#b8bee6"/>
<rect x="73.35" y="199.8" width="6.62" height="6.7" fill="#e8cc80"/>
<rect x="79.46" y="199.8" width="6.62" height="6.7" fill="#d8dcf2"/>
<rect x="85.58" y="199.8" width="6.62" height="6.7" fill="#a4acdf"/>
<rect x="91.7" y="199.8" width="6.62" height="6.7" fill="#3a48b0"/>
<rect x="97.81" y="199.8" width="6.62" height="6.7" fill="#b8bee6"/>
<rect x="103.93" y="199.8" width="6.62" height="6.7" fill="#cbcfeb"/>
<rect x="110.04" y="199.8" width="6.62" height="6.7" fill="#d8dcf2"/>
<rect x="116.16" y="199.8" width="12.73" height="6.7" fill="#cbcfeb"/>
<rect x="128.39" y="199.8" width="6.62" height="6.7" fill="#a4acdf"/>
<rect x="134.51" y="199.8" width="6.62" height="6.7" fill="#b8bee6"/>
<rect x="140.62" y="199.8" width="6.62" height="6.7" fill="#d8dcf2"/>
<rect x="146.74" y="199.8" width="6.62" height="6.7" fill="#3a48b0"/>
<rect x="152.86" y="199.8" width="12.73" height="6.7" fill="#6a78cc"/>
<rect x="165.09" y="199.8" width="6.62" height="6.7" fill="#b8bee6"/>
<rect x="171.2" y="199.8" width="6.62" height="6.7" fill="#a4acdf"/>
<rect x="177.32" y="199.8" width="6.62" height="6.7" fill="#d8dcf2"/>
<rect x="183.44" y="199.8" width="104.47" height="6.7" fill="#cbcfeb"/>
<rect x="287.41" y="199.8" width="6.62" height="6.7" fill="#b8bee6"/>
<rect x="293.52" y="199.8" width="6.62" height="6.7" fill="#e8eaf4"/>
<rect x="299.64" y="199.8" width="6.62" height="6.7" fill="#cbcfeb"/>
<rect x="305.76" y="199.8" width="6.62" height="6.7" fill="#b8bee6"/>
<rect x="311.87" y="199.8" width="12.23" height="6.7" fill="#d8dcf2"/>
<text x="51.7" y="205" font-size="7" text-anchor="end" fill="#111" stroke="#111" stroke-width="0.12">LAC</text>
<rect x="55" y="206" width="6.62" height="6.7" fill="#8a94d6"/>
<rect x="61.12" y="206" width="6.62" height="6.7" fill="#d8dcf2"/>
<rect x="67.23" y="206" width="6.62" height="6.7" fill="#f1eee0"/>
<rect x="73.35" y="206" width="6.62" height="6.7" fill="#e8cc80"/>
<rect x="79.46" y="206" width="6.62" height="6.7" fill="#f0e4c2"/>
<rect x="85.58" y="206" width="6.62" height="6.7" fill="#d8dcf2"/>
<rect x="91.7" y="206" width="6.62" height="6.7" fill="#8a94d6"/>
<rect x="97.81" y="206" width="6.62" height="6.7" fill="#b8bee6"/>
<rect x="103.93" y="206" width="12.73" height="6.7" fill="#e8eaf4"/>
<rect x="116.16" y="206" width="12.73" height="6.7" fill="#cbcfeb"/>
<rect x="128.39" y="206" width="12.73" height="6.7" fill="#b8bee6"/>
<rect x="140.62" y="206" width="6.62" height="6.7" fill="#d8dcf2"/>
<rect x="146.74" y="206" width="6.62" height="6.7" fill="#8a94d6"/>
<rect x="152.86" y="206" width="6.62" height="6.7" fill="#6a78cc"/>
<rect x="158.97" y="206" width="6.62" height="6.7" fill="#8a94d6"/>
<rect x="165.09" y="206" width="6.62" height="6.7" fill="#b8bee6"/>
<rect x="171.2" y="206" width="6.62" height="6.7" fill="#a4acdf"/>
<rect x="177.32" y="206" width="6.62" height="6.7" fill="#d8dcf2"/>
<rect x="183.44" y="206" width="104.47" height="6.7" fill="#cbcfeb"/>
<rect x="287.41" y="206" width="6.62" height="6.7" fill="#b8bee6"/>
<rect x="293.52" y="206" width="12.73" height="6.7" fill="#cbcfeb"/>
<rect x="305.76" y="206" width="6.62" height="6.7" fill="#b8bee6"/>
<rect x="311.87" y="206" width="6.62" height="6.7" fill="#d8dcf2"/>
<rect x="317.99" y="206" width="6.12" height="6.7" fill="#cbcfeb"/>
<text x="51.7" y="211.2" font-size="7" text-anchor="end" fill="#111" stroke="#111" stroke-width="0.12">SYM</text>
<rect x="55" y="212.2" width="6.62" height="6.7" fill="#8a94d6"/>
<rect x="61.12" y="212.2" width="6.62" height="6.7" fill="#d8dcf2"/>
<rect x="67.23" y="212.2" width="6.62" height="6.7" fill="#f1eee0"/>
<rect x="73.35" y="212.2" width="6.62" height="6.7" fill="#e0c070"/>
<rect x="79.46" y="212.2" width="6.62" height="6.7" fill="#ecd8a0"/>
<rect x="85.58" y="212.2" width="6.62" height="6.7" fill="#a4acdf"/>
<rect x="91.7" y="212.2" width="6.62" height="6.7" fill="#3a48b0"/>
<rect x="97.81" y="212.2" width="6.62" height="6.7" fill="#b8bee6"/>
<rect x="103.93" y="212.2" width="6.62" height="6.7" fill="#e8eaf4"/>
<rect x="110.04" y="212.2" width="6.62" height="6.7" fill="#f0e4c2"/>
<rect x="116.16" y="212.2" width="12.73" height="6.7" fill="#cbcfeb"/>
<rect x="128.39" y="212.2" width="6.62" height="6.7" fill="#a4acdf"/>
<rect x="134.51" y="212.2" width="6.62" height="6.7" fill="#b8bee6"/>
<rect x="140.62" y="212.2" width="6.62" height="6.7" fill="#d8dcf2"/>
<rect x="146.74" y="212.2" width="6.62" height="6.7" fill="#e8eaf4"/>
<rect x="152.86" y="212.2" width="12.73" height="6.7" fill="#6a78cc"/>
<rect x="165.09" y="212.2" width="6.62" height="6.7" fill="#b8bee6"/>
<rect x="171.2" y="212.2" width="6.62" height="6.7" fill="#a4acdf"/>
<rect x="177.32" y="212.2" width="6.62" height="6.7" fill="#d8dcf2"/>
<rect x="183.44" y="212.2" width="104.47" height="6.7" fill="#cbcfeb"/>
<rect x="287.41" y="212.2" width="6.62" height="6.7" fill="#b8bee6"/>
<rect x="293.52" y="212.2" width="12.73" height="6.7" fill="#cbcfeb"/>
<rect x="305.76" y="212.2" width="6.62" height="6.7" fill="#b8bee6"/>
<rect x="311.87" y="212.2" width="6.62" height="6.7" fill="#e8eaf4"/>
<rect x="317.99" y="212.2" width="6.12" height="6.7" fill="#d8dcf2"/>
<text x="51.7" y="217.4" font-size="7" text-anchor="end" fill="#111" stroke="#111" stroke-width="0.12">MAC</text>
<rect x="55" y="218.4" width="6.62" height="6.2" fill="#8a94d6"/>
<rect x="61.12" y="218.4" width="6.62" height="6.2" fill="#b8bee6"/>
<rect x="67.23" y="218.4" width="6.62" height="6.2" fill="#e8eaf4"/>
<rect x="73.35" y="218.4" width="6.62" height="6.2" fill="#d89a50"/>
<rect x="79.46" y="218.4" width="6.62" height="6.2" fill="#e8eaf4"/>
<rect x="85.58" y="218.4" width="6.62" height="6.2" fill="#a4acdf"/>
<rect x="91.7" y="218.4" width="6.62" height="6.2" fill="#3a48b0"/>
<rect x="97.81" y="218.4" width="6.62" height="6.2" fill="#b8bee6"/>
<rect x="103.93" y="218.4" width="6.62" height="6.2" fill="#d8dcf2"/>
<rect x="110.04" y="218.4" width="6.62" height="6.2" fill="#f1eee0"/>
<rect x="116.16" y="218.4" width="6.62" height="6.2" fill="#d8dcf2"/>
<rect x="122.28" y="218.4" width="6.62" height="6.2" fill="#cbcfeb"/>
<rect x="128.39" y="218.4" width="6.62" height="6.2" fill="#a4acdf"/>
<rect x="134.51" y="218.4" width="12.73" height="6.2" fill="#d8dcf2"/>
<rect x="146.74" y="218.4" width="6.62" height="6.2" fill="#b8bee6"/>
<rect x="152.86" y="218.4" width="6.62" height="6.2" fill="#6a78cc"/>
<rect x="158.97" y="218.4" width="6.62" height="6.2" fill="#8a94d6"/>
<rect x="165.09" y="218.4" width="6.62" height="6.2" fill="#b8bee6"/>
<rect x="171.2" y="218.4" width="6.62" height="6.2" fill="#a4acdf"/>
<rect x="177.32" y="218.4" width="6.62" height="6.2" fill="#d8dcf2"/>
<rect x="183.44" y="218.4" width="6.62" height="6.2" fill="#e8eaf4"/>
<rect x="189.55" y="218.4" width="98.36" height="6.2" fill="#cbcfeb"/>
<rect x="287.41" y="218.4" width="6.62" height="6.2" fill="#b8bee6"/>
<rect x="293.52" y="218.4" width="6.62" height="6.2" fill="#e8eaf4"/>
<rect x="299.64" y="218.4" width="6.62" height="6.2" fill="#cbcfeb"/>
<rect x="305.76" y="218.4" width="6.62" height="6.2" fill="#b8bee6"/>
<rect x="311.87" y="218.4" width="6.62" height="6.2" fill="#f1eee0"/>
<rect x="317.99" y="218.4" width="6.12" height="6.2" fill="#cbcfeb"/>
<text x="51.7" y="223.6" font-size="7" text-anchor="end" fill="#111" stroke="#111" stroke-width="0.12">NOR</text>
<path d="M55 144V224.6M61.12 144V224.6M67.23 144V224.6M73.35 144V224.6M79.46 144V224.6M85.58 144V224.6M91.7 144V224.6M97.81 144V224.6M103.93 144V224.6M110.04 144V224.6M116.16 144V224.6M122.28 144V224.6M128.39 144V224.6M134.51 144V224.6M140.62 144V224.6M146.74 144V224.6M152.86 144V224.6M158.97 144V224.6M165.09 144V224.6M171.2 144V224.6M177.32 144V224.6M183.44 144V224.6M189.55 144V224.6M195.67 144V224.6M201.78 144V224.6M207.9 144V224.6M214.02 144V224.6M220.13 144V224.6M226.25 144V224.6M232.36 144V224.6M238.48 144V224.6M244.6 144V224.6M250.71 144V224.6M256.83 144V224.6M262.94 144V224.6M269.06 144V224.6M275.18 144V224.6M281.29 144V224.6M287.41 144V224.6M293.52 144V224.6M299.64 144V224.6M305.76 144V224.6M311.87 144V224.6M317.99 144V224.6M324.1 144V224.6M55 144H324.1M55 150.2H324.1M55 156.4H324.1M55 162.6H324.1M55 168.8H324.1M55 175H324.1M55 181.2H324.1M55 187.4H324.1M55 193.6H324.1M55 199.8H324.1M55 206H324.1M55 212.2H324.1M55 218.4H324.1M55 224.6H324.1" stroke="#7a7a8a" stroke-width="0.5" stroke-opacity="0.35" fill="none"/>
<text transform="translate(336.2,192.5) rotate(-90)" font-size="6.5" text-anchor="middle" fill="#111" stroke="#111" stroke-width="0.12">GS71 leaf</text>
<rect x="55" y="229" width="6.62" height="6.7" fill="#cbcfeb"/>
<rect x="61.12" y="229" width="6.62" height="6.7" fill="#d8dcf2"/>
<rect x="67.23" y="229" width="12.73" height="6.7" fill="#b8bee6"/>
<rect x="79.46" y="229" width="6.62" height="6.7" fill="#e8eaf4"/>
<rect x="85.58" y="229" width="6.62" height="6.7" fill="#a4acdf"/>
<rect x="91.7" y="229" width="6.62" height="6.7" fill="#5060c0"/>
<rect x="97.81" y="229" width="6.62" height="6.7" fill="#b8bee6"/>
<rect x="103.93" y="229" width="6.62" height="6.7" fill="#a4acdf"/>
<rect x="110.04" y="229" width="12.73" height="6.7" fill="#b8bee6"/>
<rect x="122.28" y="229" width="6.62" height="6.7" fill="#cbcfeb"/>
<rect x="128.39" y="229" width="6.62" height="6.7" fill="#e8eaf4"/>
<rect x="134.51" y="229" width="6.62" height="6.7" fill="#b8bee6"/>
<rect x="140.62" y="229" width="6.62" height="6.7" fill="#d8dcf2"/>
<rect x="146.74" y="229" width="6.62" height="6.7" fill="#f0e4c2"/>
<rect x="152.86" y="229" width="6.62" height="6.7" fill="#ecd8a0"/>
<rect x="158.97" y="229" width="6.62" height="6.7" fill="#f1eee0"/>
<rect x="165.09" y="229" width="6.62" height="6.7" fill="#e8cc80"/>
<rect x="171.2" y="229" width="6.62" height="6.7" fill="#f0e4c2"/>
<rect x="177.32" y="229" width="6.62" height="6.7" fill="#ecd8a0"/>
<rect x="183.44" y="229" width="6.62" height="6.7" fill="#e8cc80"/>
<rect x="189.55" y="229" width="6.62" height="6.7" fill="#e0c070"/>
<rect x="195.67" y="229" width="12.73" height="6.7" fill="#e8cc80"/>
<rect x="207.9" y="229" width="6.62" height="6.7" fill="#e0c070"/>
<rect x="214.02" y="229" width="12.73" height="6.7" fill="#e8cc80"/>
<rect x="226.25" y="229" width="12.73" height="6.7" fill="#e0c070"/>
<rect x="238.48" y="229" width="18.85" height="6.7" fill="#e8cc80"/>
<rect x="256.83" y="229" width="24.96" height="6.7" fill="#e0c070"/>
<rect x="281.29" y="229" width="12.73" height="6.7" fill="#e8cc80"/>
<rect x="293.52" y="229" width="6.62" height="6.7" fill="#f0e4c2"/>
<rect x="299.64" y="229" width="6.62" height="6.7" fill="#d89a50"/>
<rect x="305.76" y="229" width="6.62" height="6.7" fill="#ce8046"/>
<rect x="311.87" y="229" width="12.23" height="6.7" fill="#ecd8a0"/>
<text x="51.7" y="234.2" font-size="7" text-anchor="end" fill="#111" stroke="#111" stroke-width="0.12">CLA</text>
<rect x="55" y="235.2" width="6.62" height="6.7" fill="#cbcfeb"/>
<rect x="61.12" y="235.2" width="6.62" height="6.7" fill="#e8eaf4"/>
<rect x="67.23" y="235.2" width="6.62" height="6.7" fill="#d8dcf2"/>
<rect x="73.35" y="235.2" width="6.62" height="6.7" fill="#a4acdf"/>
<rect x="79.46" y="235.2" width="6.62" height="6.7" fill="#d8dcf2"/>
<rect x="85.58" y="235.2" width="6.62" height="6.7" fill="#a4acdf"/>
<rect x="91.7" y="235.2" width="6.62" height="6.7" fill="#6a78cc"/>
<rect x="97.81" y="235.2" width="6.62" height="6.7" fill="#b8bee6"/>
<rect x="103.93" y="235.2" width="6.62" height="6.7" fill="#a4acdf"/>
<rect x="110.04" y="235.2" width="6.62" height="6.7" fill="#8a94d6"/>
<rect x="116.16" y="235.2" width="6.62" height="6.7" fill="#b8bee6"/>
<rect x="122.28" y="235.2" width="6.62" height="6.7" fill="#cbcfeb"/>
<rect x="128.39" y="235.2" width="12.73" height="6.7" fill="#b8bee6"/>
<rect x="140.62" y="235.2" width="6.62" height="6.7" fill="#d8dcf2"/>
<rect x="146.74" y="235.2" width="6.62" height="6.7" fill="#f0e4c2"/>
<rect x="152.86" y="235.2" width="6.62" height="6.7" fill="#ecd8a0"/>
<rect x="158.97" y="235.2" width="6.62" height="6.7" fill="#f0e4c2"/>
<rect x="165.09" y="235.2" width="6.62" height="6.7" fill="#e8cc80"/>
<rect x="171.2" y="235.2" width="6.62" height="6.7" fill="#f0e4c2"/>
<rect x="177.32" y="235.2" width="6.62" height="6.7" fill="#ecd8a0"/>
<rect x="183.44" y="235.2" width="6.62" height="6.7" fill="#e8cc80"/>
<rect x="189.55" y="235.2" width="18.85" height="6.7" fill="#e0c070"/>
<rect x="207.9" y="235.2" width="6.62" height="6.7" fill="#e8cc80"/>
<rect x="214.02" y="235.2" width="31.08" height="6.7" fill="#e0c070"/>
<rect x="244.6" y="235.2" width="6.62" height="6.7" fill="#e8cc80"/>
<rect x="250.71" y="235.2" width="12.73" height="6.7" fill="#e0c070"/>
<rect x="262.94" y="235.2" width="6.62" height="6.7" fill="#e8cc80"/>
<rect x="269.06" y="235.2" width="24.96" height="6.7" fill="#e0c070"/>
<rect x="293.52" y="235.2" width="6.62" height="6.7" fill="#e8eaf4"/>
<rect x="299.64" y="235.2" width="6.62" height="6.7" fill="#ce8046"/>
<rect x="305.76" y="235.2" width="6.62" height="6.7" fill="#e8cc80"/>
<rect x="311.87" y="235.2" width="12.23" height="6.7" fill="#ecd8a0"/>
<text x="51.7" y="240.4" font-size="7" text-anchor="end" fill="#111" stroke="#111" stroke-width="0.12">JUL</text>
<rect x="55" y="241.4" width="6.62" height="6.7" fill="#b8bee6"/>
<rect x="61.12" y="241.4" width="6.62" height="6.7" fill="#f1eee0"/>
<rect x="67.23" y="241.4" width="6.62" height="6.7" fill="#5060c0"/>
<rect x="73.35" y="241.4" width="18.85" height="6.7" fill="#a4acdf"/>
<rect x="91.7" y="241.4" width="6.62" height="6.7" fill="#6a78cc"/>
<rect x="97.81" y="241.4" width="6.62" height="6.7" fill="#b8bee6"/>
<rect x="103.93" y="241.4" width="6.62" height="6.7" fill="#a4acdf"/>
<rect x="110.04" y="241.4" width="6.62" height="6.7" fill="#8a94d6"/>
<rect x="116.16" y="241.4" width="6.62" height="6.7" fill="#b8bee6"/>
<rect x="122.28" y="241.4" width="6.62" height="6.7" fill="#cbcfeb"/>
<rect x="128.39" y="241.4" width="6.62" height="6.7" fill="#d8dcf2"/>
<rect x="134.51" y="241.4" width="6.62" height="6.7" fill="#b8bee6"/>
<rect x="140.62" y="241.4" width="6.62" height="6.7" fill="#d8dcf2"/>
<rect x="146.74" y="241.4" width="6.62" height="6.7" fill="#f0e4c2"/>
<rect x="152.86" y="241.4" width="6.62" height="6.7" fill="#ecd8a0"/>
<rect x="158.97" y="241.4" width="6.62" height="6.7" fill="#e8eaf4"/>
<rect x="165.09" y="241.4" width="6.62" height="6.7" fill="#ecd8a0"/>
<rect x="171.2" y="241.4" width="6.62" height="6.7" fill="#f0e4c2"/>
<rect x="177.32" y="241.4" width="6.62" height="6.7" fill="#d89a50"/>
<rect x="183.44" y="241.4" width="110.59" height="6.7" fill="#e0c070"/>
<rect x="293.52" y="241.4" width="6.62" height="6.7" fill="#e8cc80"/>
<rect x="299.64" y="241.4" width="6.62" height="6.7" fill="#f1eee0"/>
<rect x="305.76" y="241.4" width="18.35" height="6.7" fill="#ecd8a0"/>
<text x="51.7" y="246.6" font-size="7" text-anchor="end" fill="#111" stroke="#111" stroke-width="0.12">ARI</text>
<rect x="55" y="247.6" width="6.62" height="6.7" fill="#b8bee6"/>
<rect x="61.12" y="247.6" width="6.62" height="6.7" fill="#e8eaf4"/>
<rect x="67.23" y="247.6" width="18.85" height="6.7" fill="#b8bee6"/>
<rect x="85.58" y="247.6" width="6.62" height="6.7" fill="#a4acdf"/>
<rect x="91.7" y="247.6" width="6.62" height="6.7" fill="#6a78cc"/>
<rect x="97.81" y="247.6" width="6.62" height="6.7" fill="#b8bee6"/>
<rect x="103.93" y="247.6" width="12.73" height="6.7" fill="#a4acdf"/>
<rect x="116.16" y="247.6" width="6.62" height="6.7" fill="#b8bee6"/>
<rect x="122.28" y="247.6" width="6.62" height="6.7" fill="#cbcfeb"/>
<rect x="128.39" y="247.6" width="6.62" height="6.7" fill="#d8dcf2"/>
<rect x="134.51" y="247.6" width="6.62" height="6.7" fill="#b8bee6"/>
<rect x="140.62" y="247.6" width="6.62" height="6.7" fill="#d8dcf2"/>
<rect x="146.74" y="247.6" width="6.62" height="6.7" fill="#ecd8a0"/>
<rect x="152.86" y="247.6" width="6.62" height="6.7" fill="#e8cc80"/>
<rect x="158.97" y="247.6" width="6.62" height="6.7" fill="#e8eaf4"/>
<rect x="165.09" y="247.6" width="6.62" height="6.7" fill="#ecd8a0"/>
<rect x="171.2" y="247.6" width="6.62" height="6.7" fill="#f0e4c2"/>
<rect x="177.32" y="247.6" width="6.62" height="6.7" fill="#ce8046"/>
<rect x="183.44" y="247.6" width="12.73" height="6.7" fill="#e0c070"/>
<rect x="195.67" y="247.6" width="6.62" height="6.7" fill="#d89a50"/>
<rect x="201.78" y="247.6" width="6.62" height="6.7" fill="#e8cc80"/>
<rect x="207.9" y="247.6" width="18.85" height="6.7" fill="#e0c070"/>
<rect x="226.25" y="247.6" width="6.62" height="6.7" fill="#e8cc80"/>
<rect x="232.36" y="247.6" width="61.66" height="6.7" fill="#e0c070"/>
<rect x="293.52" y="247.6" width="6.62" height="6.7" fill="#f0e4c2"/>
<rect x="299.64" y="247.6" width="6.62" height="6.7" fill="#e8cc80"/>
<rect x="305.76" y="247.6" width="18.35" height="6.7" fill="#ecd8a0"/>
<text x="51.7" y="252.8" font-size="7" text-anchor="end" fill="#111" stroke="#111" stroke-width="0.12">CAD</text>
<rect x="55" y="253.8" width="6.62" height="6.7" fill="#b8bee6"/>
<rect x="61.12" y="253.8" width="6.62" height="6.7" fill="#e8eaf4"/>
<rect x="67.23" y="253.8" width="12.73" height="6.7" fill="#b8bee6"/>
<rect x="79.46" y="253.8" width="12.73" height="6.7" fill="#a4acdf"/>
<rect x="91.7" y="253.8" width="6.62" height="6.7" fill="#6a78cc"/>
<rect x="97.81" y="253.8" width="6.62" height="6.7" fill="#b8bee6"/>
<rect x="103.93" y="253.8" width="6.62" height="6.7" fill="#a4acdf"/>
<rect x="110.04" y="253.8" width="6.62" height="6.7" fill="#8a94d6"/>
<rect x="116.16" y="253.8" width="6.62" height="6.7" fill="#b8bee6"/>
<rect x="122.28" y="253.8" width="6.62" height="6.7" fill="#cbcfeb"/>
<rect x="128.39" y="253.8" width="6.62" height="6.7" fill="#d8dcf2"/>
<rect x="134.51" y="253.8" width="6.62" height="6.7" fill="#b8bee6"/>
<rect x="140.62" y="253.8" width="6.62" height="6.7" fill="#e8eaf4"/>
<rect x="146.74" y="253.8" width="12.73" height="6.7" fill="#f0e4c2"/>
<rect x="158.97" y="253.8" width="6.62" height="6.7" fill="#f1eee0"/>
<rect x="165.09" y="253.8" width="6.62" height="6.7" fill="#ecd8a0"/>
<rect x="171.2" y="253.8" width="6.62" height="6.7" fill="#f0e4c2"/>
<rect x="177.32" y="253.8" width="24.96" height="6.7" fill="#e0c070"/>
<rect x="201.78" y="253.8" width="6.62" height="6.7" fill="#e8cc80"/>
<rect x="207.9" y="253.8" width="6.62" height="6.7" fill="#e0c070"/>
<rect x="214.02" y="253.8" width="12.73" height="6.7" fill="#e8cc80"/>
<rect x="226.25" y="253.8" width="43.31" height="6.7" fill="#e0c070"/>
<rect x="269.06" y="253.8" width="6.62" height="6.7" fill="#e8cc80"/>
<rect x="275.18" y="253.8" width="6.62" height="6.7" fill="#e0c070"/>
<rect x="281.29" y="253.8" width="12.73" height="6.7" fill="#e8cc80"/>
<rect x="293.52" y="253.8" width="6.62" height="6.7" fill="#f0e4c2"/>
<rect x="299.64" y="253.8" width="6.62" height="6.7" fill="#ecd8a0"/>
<rect x="305.76" y="253.8" width="6.62" height="6.7" fill="#e8cc80"/>
<rect x="311.87" y="253.8" width="12.23" height="6.7" fill="#ecd8a0"/>
<text x="51.7" y="259" font-size="7" text-anchor="end" fill="#111" stroke="#111" stroke-width="0.12">NOR</text>
<rect x="55" y="260" width="6.62" height="6.7" fill="#a4acdf"/>
<rect x="61.12" y="260" width="6.62" height="6.7" fill="#e8eaf4"/>
<rect x="67.23" y="260" width="6.62" height="6.7" fill="#b8bee6"/>
<rect x="73.35" y="260" width="6.62" height="6.7" fill="#a4acdf"/>
<rect x="79.46" y="260" width="6.62" height="6.7" fill="#d8dcf2"/>
<rect x="85.58" y="260" width="6.62" height="6.7" fill="#a4acdf"/>
<rect x="91.7" y="260" width="6.62" height="6.7" fill="#5060c0"/>
<rect x="97.81" y="260" width="6.62" height="6.7" fill="#b8bee6"/>
<rect x="103.93" y="260" width="6.62" height="6.7" fill="#a4acdf"/>
<rect x="110.04" y="260" width="6.62" height="6.7" fill="#8a94d6"/>
<rect x="116.16" y="260" width="6.62" height="6.7" fill="#b8bee6"/>
<rect x="122.28" y="260" width="6.62" height="6.7" fill="#cbcfeb"/>
<rect x="128.39" y="260" width="6.62" height="6.7" fill="#d8dcf2"/>
<rect x="134.51" y="260" width="6.62" height="6.7" fill="#b8bee6"/>
<rect x="140.62" y="260" width="6.62" height="6.7" fill="#d8dcf2"/>
<rect x="146.74" y="260" width="18.85" height="6.7" fill="#f0e4c2"/>
<rect x="165.09" y="260" width="6.62" height="6.7" fill="#ecd8a0"/>
<rect x="171.2" y="260" width="6.62" height="6.7" fill="#f0e4c2"/>
<rect x="177.32" y="260" width="6.62" height="6.7" fill="#ecd8a0"/>
<rect x="183.44" y="260" width="6.62" height="6.7" fill="#e8cc80"/>
<rect x="189.55" y="260" width="43.31" height="6.7" fill="#e0c070"/>
<rect x="232.36" y="260" width="6.62" height="6.7" fill="#e8cc80"/>
<rect x="238.48" y="260" width="18.85" height="6.7" fill="#e0c070"/>
<rect x="256.83" y="260" width="6.62" height="6.7" fill="#e8cc80"/>
<rect x="262.94" y="260" width="12.73" height="6.7" fill="#e0c070"/>
<rect x="275.18" y="260" width="6.62" height="6.7" fill="#e8cc80"/>
<rect x="281.29" y="260" width="12.73" height="6.7" fill="#e0c070"/>
<rect x="293.52" y="260" width="12.73" height="6.7" fill="#ecd8a0"/>
<rect x="305.76" y="260" width="6.62" height="6.7" fill="#e8cc80"/>
<rect x="311.87" y="260" width="12.23" height="6.7" fill="#ecd8a0"/>
<text x="51.7" y="265.2" font-size="7" text-anchor="end" fill="#111" stroke="#111" stroke-width="0.12">WEE</text>
<rect x="55" y="266.2" width="6.62" height="6.7" fill="#a4acdf"/>
<rect x="61.12" y="266.2" width="6.62" height="6.7" fill="#ecd8a0"/>
<rect x="67.23" y="266.2" width="6.62" height="6.7" fill="#e8eaf4"/>
<rect x="73.35" y="266.2" width="6.62" height="6.7" fill="#a4acdf"/>
<rect x="79.46" y="266.2" width="6.62" height="6.7" fill="#f1eee0"/>
<rect x="85.58" y="266.2" width="12.73" height="6.7" fill="#a4acdf"/>
<rect x="97.81" y="266.2" width="18.85" height="6.7" fill="#cbcfeb"/>
<rect x="116.16" y="266.2" width="6.62" height="6.7" fill="#b8bee6"/>
<rect x="122.28" y="266.2" width="6.62" height="6.7" fill="#cbcfeb"/>
<rect x="128.39" y="266.2" width="6.62" height="6.7" fill="#e8eaf4"/>
<rect x="134.51" y="266.2" width="6.62" height="6.7" fill="#b8bee6"/>
<rect x="140.62" y="266.2" width="6.62" height="6.7" fill="#d8dcf2"/>
<rect x="146.74" y="266.2" width="6.62" height="6.7" fill="#e8cc80"/>
<rect x="152.86" y="266.2" width="6.62" height="6.7" fill="#ecd8a0"/>
<rect x="158.97" y="266.2" width="12.73" height="6.7" fill="#f0e4c2"/>
<rect x="171.2" y="266.2" width="6.62" height="6.7" fill="#f1eee0"/>
<rect x="177.32" y="266.2" width="6.62" height="6.7" fill="#e8cc80"/>
<rect x="183.44" y="266.2" width="6.62" height="6.7" fill="#e0c070"/>
<rect x="189.55" y="266.2" width="12.73" height="6.7" fill="#d89a50"/>
<rect x="201.78" y="266.2" width="55.54" height="6.7" fill="#e0c070"/>
<rect x="256.83" y="266.2" width="6.62" height="6.7" fill="#e8cc80"/>
<rect x="262.94" y="266.2" width="6.62" height="6.7" fill="#d89a50"/>
<rect x="269.06" y="266.2" width="6.62" height="6.7" fill="#e0c070"/>
<rect x="275.18" y="266.2" width="18.85" height="6.7" fill="#e8cc80"/>
<rect x="293.52" y="266.2" width="6.62" height="6.7" fill="#f0e4c2"/>
<rect x="299.64" y="266.2" width="6.62" height="6.7" fill="#e8eaf4"/>
<rect x="305.76" y="266.2" width="6.62" height="6.7" fill="#d8dcf2"/>
<rect x="311.87" y="266.2" width="12.23" height="6.7" fill="#e8cc80"/>
<text x="51.7" y="271.4" font-size="7" text-anchor="end" fill="#111" stroke="#111" stroke-width="0.12">JAG</text>
<rect x="55" y="272.4" width="6.62" height="6.7" fill="#d8dcf2"/>
<rect x="61.12" y="272.4" width="6.62" height="6.7" fill="#ecd8a0"/>
<rect x="67.23" y="272.4" width="6.62" height="6.7" fill="#d8dcf2"/>
<rect x="73.35" y="272.4" width="6.62" height="6.7" fill="#a4acdf"/>
<rect x="79.46" y="272.4" width="6.62" height="6.7" fill="#e8eaf4"/>
<rect x="85.58" y="272.4" width="6.62" height="6.7" fill="#a4acdf"/>
<rect x="91.7" y="272.4" width="6.62" height="6.7" fill="#6a78cc"/>
<rect x="97.81" y="272.4" width="6.62" height="6.7" fill="#cbcfeb"/>
<rect x="103.93" y="272.4" width="6.62" height="6.7" fill="#b8bee6"/>
<rect x="110.04" y="272.4" width="6.62" height="6.7" fill="#cbcfeb"/>
<rect x="116.16" y="272.4" width="6.62" height="6.7" fill="#b8bee6"/>
<rect x="122.28" y="272.4" width="6.62" height="6.7" fill="#cbcfeb"/>
<rect x="128.39" y="272.4" width="12.73" height="6.7" fill="#b8bee6"/>
<rect x="140.62" y="272.4" width="6.62" height="6.7" fill="#d8dcf2"/>
<rect x="146.74" y="272.4" width="6.62" height="6.7" fill="#ecd8a0"/>
<rect x="152.86" y="272.4" width="24.96" height="6.7" fill="#f0e4c2"/>
<rect x="177.32" y="272.4" width="6.62" height="6.7" fill="#ecd8a0"/>
<rect x="183.44" y="272.4" width="6.62" height="6.7" fill="#e8cc80"/>
<rect x="189.55" y="272.4" width="6.62" height="6.7" fill="#e0c070"/>
<rect x="195.67" y="272.4" width="6.62" height="6.7" fill="#e8cc80"/>
<rect x="201.78" y="272.4" width="6.62" height="6.7" fill="#e0c070"/>
<rect x="207.9" y="272.4" width="6.62" height="6.7" fill="#e8cc80"/>
<rect x="214.02" y="272.4" width="37.2" height="6.7" fill="#e0c070"/>
<rect x="250.71" y="272.4" width="6.62" height="6.7" fill="#d89a50"/>
<rect x="256.83" y="272.4" width="6.62" height="6.7" fill="#e0c070"/>
<rect x="262.94" y="272.4" width="24.96" height="6.7" fill="#e8cc80"/>
<rect x="287.41" y="272.4" width="6.62" height="6.7" fill="#f0e4c2"/>
<rect x="293.52" y="272.4" width="6.62" height="6.7" fill="#d89a50"/>
<rect x="299.64" y="272.4" width="6.62" height="6.7" fill="#f1eee0"/>
<rect x="305.76" y="272.4" width="6.62" height="6.7" fill="#e8eaf4"/>
<rect x="311.87" y="272.4" width="12.23" height="6.7" fill="#ecd8a0"/>
<text x="51.7" y="277.6" font-size="7" text-anchor="end" fill="#111" stroke="#111" stroke-width="0.12">LDM</text>
<rect x="55" y="278.6" width="6.62" height="6.7" fill="#a4acdf"/>
<rect x="61.12" y="278.6" width="6.62" height="6.7" fill="#f0e4c2"/>
<rect x="67.23" y="278.6" width="6.62" height="6.7" fill="#5060c0"/>
<rect x="73.35" y="278.6" width="6.62" height="6.7" fill="#a4acdf"/>
<rect x="79.46" y="278.6" width="6.62" height="6.7" fill="#cbcfeb"/>
<rect x="85.58" y="278.6" width="6.62" height="6.7" fill="#a4acdf"/>
<rect x="91.7" y="278.6" width="6.62" height="6.7" fill="#6a78cc"/>
<rect x="97.81" y="278.6" width="6.62" height="6.7" fill="#cbcfeb"/>
<rect x="103.93" y="278.6" width="6.62" height="6.7" fill="#a4acdf"/>
<rect x="110.04" y="278.6" width="6.62" height="6.7" fill="#8a94d6"/>
<rect x="116.16" y="278.6" width="6.62" height="6.7" fill="#b8bee6"/>
<rect x="122.28" y="278.6" width="6.62" height="6.7" fill="#cbcfeb"/>
<rect x="128.39" y="278.6" width="6.62" height="6.7" fill="#d8dcf2"/>
<rect x="134.51" y="278.6" width="6.62" height="6.7" fill="#b8bee6"/>
<rect x="140.62" y="278.6" width="6.62" height="6.7" fill="#d8dcf2"/>
<rect x="146.74" y="278.6" width="12.73" height="6.7" fill="#f0e4c2"/>
<rect x="158.97" y="278.6" width="6.62" height="6.7" fill="#b8bee6"/>
<rect x="165.09" y="278.6" width="12.73" height="6.7" fill="#f0e4c2"/>
<rect x="177.32" y="278.6" width="6.62" height="6.7" fill="#d89a50"/>
<rect x="183.44" y="278.6" width="92.24" height="6.7" fill="#e0c070"/>
<rect x="275.18" y="278.6" width="6.62" height="6.7" fill="#d89a50"/>
<rect x="281.29" y="278.6" width="6.62" height="6.7" fill="#e0c070"/>
<rect x="287.41" y="278.6" width="6.62" height="6.7" fill="#e8cc80"/>
<rect x="293.52" y="278.6" width="6.62" height="6.7" fill="#b83a24"/>
<rect x="299.64" y="278.6" width="6.62" height="6.7" fill="#f1eee0"/>
<rect x="305.76" y="278.6" width="18.35" height="6.7" fill="#ecd8a0"/>
<text x="51.7" y="283.8" font-size="7" text-anchor="end" fill="#111" stroke="#111" stroke-width="0.12">ROB</text>
<rect x="55" y="284.8" width="12.73" height="6.7" fill="#e8eaf4"/>
<rect x="67.23" y="284.8" width="6.62" height="6.7" fill="#d8dcf2"/>
<rect x="73.35" y="284.8" width="12.73" height="6.7" fill="#b8bee6"/>
<rect x="85.58" y="284.8" width="6.62" height="6.7" fill="#a4acdf"/>
<rect x="91.7" y="284.8" width="6.62" height="6.7" fill="#6a78cc"/>
<rect x="97.81" y="284.8" width="6.62" height="6.7" fill="#cbcfeb"/>
<rect x="103.93" y="284.8" width="6.62" height="6.7" fill="#b8bee6"/>
<rect x="110.04" y="284.8" width="6.62" height="6.7" fill="#d8dcf2"/>
<rect x="116.16" y="284.8" width="6.62" height="6.7" fill="#b8bee6"/>
<rect x="122.28" y="284.8" width="6.62" height="6.7" fill="#cbcfeb"/>
<rect x="128.39" y="284.8" width="6.62" height="6.7" fill="#f1eee0"/>
<rect x="134.51" y="284.8" width="6.62" height="6.7" fill="#b8bee6"/>
<rect x="140.62" y="284.8" width="6.62" height="6.7" fill="#d8dcf2"/>
<rect x="146.74" y="284.8" width="6.62" height="6.7" fill="#ecd8a0"/>
<rect x="152.86" y="284.8" width="6.62" height="6.7" fill="#e8cc80"/>
<rect x="158.97" y="284.8" width="6.62" height="6.7" fill="#f0e4c2"/>
<rect x="165.09" y="284.8" width="6.62" height="6.7" fill="#d89a50"/>
<rect x="171.2" y="284.8" width="6.62" height="6.7" fill="#f0e4c2"/>
<rect x="177.32" y="284.8" width="6.62" height="6.7" fill="#ecd8a0"/>
<rect x="183.44" y="284.8" width="6.62" height="6.7" fill="#e8cc80"/>
<rect x="189.55" y="284.8" width="6.62" height="6.7" fill="#f0e4c2"/>
<rect x="195.67" y="284.8" width="24.96" height="6.7" fill="#e8cc80"/>
<rect x="220.13" y="284.8" width="6.62" height="6.7" fill="#e0c070"/>
<rect x="226.25" y="284.8" width="31.08" height="6.7" fill="#e8cc80"/>
<rect x="256.83" y="284.8" width="6.62" height="6.7" fill="#ecd8a0"/>
<rect x="262.94" y="284.8" width="12.73" height="6.7" fill="#e0c070"/>
<rect x="275.18" y="284.8" width="6.62" height="6.7" fill="#e8cc80"/>
<rect x="281.29" y="284.8" width="6.62" height="6.7" fill="#e0c070"/>
<rect x="287.41" y="284.8" width="6.62" height="6.7" fill="#d89a50"/>
<rect x="293.52" y="284.8" width="18.85" height="6.7" fill="#b83a24"/>
<rect x="311.87" y="284.8" width="6.62" height="6.7" fill="#e8cc80"/>
<rect x="317.99" y="284.8" width="6.12" height="6.7" fill="#ecd8a0"/>
<text x="51.7" y="290" font-size="7" text-anchor="end" fill="#111" stroke="#111" stroke-width="0.12">LAC</text>
<rect x="55" y="291" width="6.62" height="6.2" fill="#e8eaf4"/>
<rect x="61.12" y="291" width="6.62" height="6.2" fill="#f1eee0"/>
<rect x="67.23" y="291" width="6.62" height="6.2" fill="#f0e4c2"/>
<rect x="73.35" y="291" width="6.62" height="6.2" fill="#a4acdf"/>
<rect x="79.46" y="291" width="6.62" height="6.2" fill="#e8eaf4"/>
<rect x="85.58" y="291" width="6.62" height="6.2" fill="#a4acdf"/>
<rect x="91.7" y="291" width="6.62" height="6.2" fill="#6a78cc"/>
<rect x="97.81" y="291" width="12.73" height="6.2" fill="#b8bee6"/>
<rect x="110.04" y="291" width="6.62" height="6.2" fill="#f1eee0"/>
<rect x="116.16" y="291" width="6.62" height="6.2" fill="#b8bee6"/>
<rect x="122.28" y="291" width="6.62" height="6.2" fill="#cbcfeb"/>
<rect x="128.39" y="291" width="6.62" height="6.2" fill="#e8eaf4"/>
<rect x="134.51" y="291" width="6.62" height="6.2" fill="#b8bee6"/>
<rect x="140.62" y="291" width="6.62" height="6.2" fill="#e8eaf4"/>
<rect x="146.74" y="291" width="6.62" height="6.2" fill="#ecd8a0"/>
<rect x="152.86" y="291" width="6.62" height="6.2" fill="#e8cc80"/>
<rect x="158.97" y="291" width="6.62" height="6.2" fill="#f0e4c2"/>
<rect x="165.09" y="291" width="6.62" height="6.2" fill="#d89a50"/>
<rect x="171.2" y="291" width="6.62" height="6.2" fill="#f0e4c2"/>
<rect x="177.32" y="291" width="6.62" height="6.2" fill="#e8cc80"/>
<rect x="183.44" y="291" width="6.62" height="6.2" fill="#ecd8a0"/>
<rect x="189.55" y="291" width="12.73" height="6.2" fill="#f0e4c2"/>
<rect x="201.78" y="291" width="6.62" height="6.2" fill="#e0c070"/>
<rect x="207.9" y="291" width="12.73" height="6.2" fill="#e8cc80"/>
<rect x="220.13" y="291" width="6.62" height="6.2" fill="#e0c070"/>
<rect x="226.25" y="291" width="61.66" height="6.2" fill="#e8cc80"/>
<rect x="287.41" y="291" width="6.62" height="6.2" fill="#f0e4c2"/>
<rect x="293.52" y="291" width="6.62" height="6.2" fill="#e8cc80"/>
<rect x="299.64" y="291" width="6.62" height="6.2" fill="#b83a24"/>
<rect x="305.76" y="291" width="6.62" height="6.2" fill="#d89a50"/>
<rect x="311.87" y="291" width="12.23" height="6.2" fill="#ecd8a0"/>
<text x="51.7" y="296.2" font-size="7" text-anchor="end" fill="#111" stroke="#111" stroke-width="0.12">SYM</text>
<path d="M55 229V297.2M61.12 229V297.2M67.23 229V297.2M73.35 229V297.2M79.46 229V297.2M85.58 229V297.2M91.7 229V297.2M97.81 229V297.2M103.93 229V297.2M110.04 229V297.2M116.16 229V297.2M122.28 229V297.2M128.39 229V297.2M134.51 229V297.2M140.62 229V297.2M146.74 229V297.2M152.86 229V297.2M158.97 229V297.2M165.09 229V297.2M171.2 229V297.2M177.32 229V297.2M183.44 229V297.2M189.55 229V297.2M195.67 229V297.2M201.78 229V297.2M207.9 229V297.2M214.02 229V297.2M220.13 229V297.2M226.25 229V297.2M232.36 229V297.2M238.48 229V297.2M244.6 229V297.2M250.71 229V297.2M256.83 229V297.2M262.94 229V297.2M269.06 229V297.2M275.18 229V297.2M281.29 229V297.2M287.41 229V297.2M293.52 229V297.2M299.64 229V297.2M305.76 229V297.2M311.87 229V297.2M317.99 229V297.2M324.1 229V297.2M55 229H324.1M55 235.2H324.1M55 241.4H324.1M55 247.6H324.1M55 253.8H324.1M55 260H324.1M55 266.2H324.1M55 272.4H324.1M55 278.6H324.1M55 284.8H324.1M55 291H324.1M55 297.2H324.1" stroke="#7a7a8a" stroke-width="0.5" stroke-opacity="0.35" fill="none"/>
<text transform="translate(336.2,263.8) rotate(-90)" font-size="6.5" text-anchor="middle" fill="#111" stroke="#111" stroke-width="0.12">GS77 grain</text>
<rect x="55" y="301.6" width="6.62" height="6.7" fill="#e8eaf4"/>
<rect x="61.12" y="301.6" width="6.62" height="6.7" fill="#b8bee6"/>
<rect x="67.23" y="301.6" width="6.62" height="6.7" fill="#d8dcf2"/>
<rect x="73.35" y="301.6" width="6.62" height="6.7" fill="#a4acdf"/>
<rect x="79.46" y="301.6" width="6.62" height="6.7" fill="#f1eee0"/>
<rect x="85.58" y="301.6" width="6.62" height="6.7" fill="#cbcfeb"/>
<rect x="91.7" y="301.6" width="6.62" height="6.7" fill="#e8eaf4"/>
<rect x="97.81" y="301.6" width="6.62" height="6.7" fill="#d8dcf2"/>
<rect x="103.93" y="301.6" width="6.62" height="6.7" fill="#a4acdf"/>
<rect x="110.04" y="301.6" width="6.62" height="6.7" fill="#f1eee0"/>
<rect x="116.16" y="301.6" width="6.62" height="6.7" fill="#f0e4c2"/>
<rect x="122.28" y="301.6" width="6.62" height="6.7" fill="#ce8046"/>
<rect x="128.39" y="301.6" width="6.62" height="6.7" fill="#d89a50"/>
<rect x="134.51" y="301.6" width="6.62" height="6.7" fill="#d8dcf2"/>
<rect x="140.62" y="301.6" width="6.62" height="6.7" fill="#b83a24"/>
<rect x="146.74" y="301.6" width="12.73" height="6.7" fill="#f0e4c2"/>
<rect x="158.97" y="301.6" width="6.62" height="6.7" fill="#f1eee0"/>
<rect x="165.09" y="301.6" width="6.62" height="6.7" fill="#f0e4c2"/>
<rect x="171.2" y="301.6" width="6.62" height="6.7" fill="#ecd8a0"/>
<rect x="177.32" y="301.6" width="18.85" height="6.7" fill="#cbcfeb"/>
<rect x="195.67" y="301.6" width="6.62" height="6.7" fill="#d8dcf2"/>
<rect x="201.78" y="301.6" width="61.66" height="6.7" fill="#cbcfeb"/>
<rect x="262.94" y="301.6" width="6.62" height="6.7" fill="#e8eaf4"/>
<rect x="269.06" y="301.6" width="31.08" height="6.7" fill="#cbcfeb"/>
<rect x="299.64" y="301.6" width="6.62" height="6.7" fill="#d8dcf2"/>
<rect x="305.76" y="301.6" width="6.62" height="6.7" fill="#b8bee6"/>
<rect x="311.87" y="301.6" width="12.23" height="6.7" fill="#f1eee0"/>
<text x="51.7" y="306.8" font-size="7" text-anchor="end" fill="#111" stroke="#111" stroke-width="0.12">CLA</text>
<rect x="55" y="307.8" width="6.62" height="6.7" fill="#f0e4c2"/>
<rect x="61.12" y="307.8" width="6.62" height="6.7" fill="#cbcfeb"/>
<rect x="67.23" y="307.8" width="6.62" height="6.7" fill="#b8bee6"/>
<rect x="73.35" y="307.8" width="6.62" height="6.7" fill="#a4acdf"/>
<rect x="79.46" y="307.8" width="6.62" height="6.7" fill="#d8dcf2"/>
<rect x="85.58" y="307.8" width="6.62" height="6.7" fill="#e8eaf4"/>
<rect x="91.7" y="307.8" width="6.62" height="6.7" fill="#d8dcf2"/>
<rect x="97.81" y="307.8" width="6.62" height="6.7" fill="#f1eee0"/>
<rect x="103.93" y="307.8" width="6.62" height="6.7" fill="#a4acdf"/>
<rect x="110.04" y="307.8" width="6.62" height="6.7" fill="#f0e4c2"/>
<rect x="116.16" y="307.8" width="6.62" height="6.7" fill="#e8eaf4"/>
<rect x="122.28" y="307.8" width="6.62" height="6.7" fill="#ce8046"/>
<rect x="128.39" y="307.8" width="6.62" height="6.7" fill="#f1eee0"/>
<rect x="134.51" y="307.8" width="6.62" height="6.7" fill="#e8cc80"/>
<rect x="140.62" y="307.8" width="6.62" height="6.7" fill="#b83a24"/>
<rect x="146.74" y="307.8" width="6.62" height="6.7" fill="#f1eee0"/>
<rect x="152.86" y="307.8" width="6.62" height="6.7" fill="#f0e4c2"/>
<rect x="158.97" y="307.8" width="6.62" height="6.7" fill="#f1eee0"/>
<rect x="165.09" y="307.8" width="6.62" height="6.7" fill="#f0e4c2"/>
<rect x="171.2" y="307.8" width="6.62" height="6.7" fill="#ecd8a0"/>
<rect x="177.32" y="307.8" width="18.85" height="6.7" fill="#cbcfeb"/>
<rect x="195.67" y="307.8" width="6.62" height="6.7" fill="#d8dcf2"/>
<rect x="201.78" y="307.8" width="61.66" height="6.7" fill="#cbcfeb"/>
<rect x="262.94" y="307.8" width="6.62" height="6.7" fill="#d8dcf2"/>
<rect x="269.06" y="307.8" width="24.96" height="6.7" fill="#cbcfeb"/>
<rect x="293.52" y="307.8" width="12.73" height="6.7" fill="#d8dcf2"/>
<rect x="305.76" y="307.8" width="6.62" height="6.7" fill="#b8bee6"/>
<rect x="311.87" y="307.8" width="12.23" height="6.7" fill="#f1eee0"/>
<text x="51.7" y="313" font-size="7" text-anchor="end" fill="#111" stroke="#111" stroke-width="0.12">JAG</text>
<rect x="55" y="314" width="6.62" height="6.7" fill="#f0e4c2"/>
<rect x="61.12" y="314" width="6.62" height="6.7" fill="#d8dcf2"/>
<rect x="67.23" y="314" width="6.62" height="6.7" fill="#cbcfeb"/>
<rect x="73.35" y="314" width="6.62" height="6.7" fill="#a4acdf"/>
<rect x="79.46" y="314" width="6.62" height="6.7" fill="#f1eee0"/>
<rect x="85.58" y="314" width="12.73" height="6.7" fill="#d8dcf2"/>
<rect x="97.81" y="314" width="6.62" height="6.7" fill="#e8eaf4"/>
<rect x="103.93" y="314" width="6.62" height="6.7" fill="#a4acdf"/>
<rect x="110.04" y="314" width="6.62" height="6.7" fill="#f0e4c2"/>
<rect x="116.16" y="314" width="6.62" height="6.7" fill="#f1eee0"/>
<rect x="122.28" y="314" width="6.62" height="6.7" fill="#ce8046"/>
<rect x="128.39" y="314" width="6.62" height="6.7" fill="#e0c070"/>
<rect x="134.51" y="314" width="6.62" height="6.7" fill="#d89a50"/>
<rect x="140.62" y="314" width="6.62" height="6.7" fill="#f1eee0"/>
<rect x="146.74" y="314" width="12.73" height="6.7" fill="#f0e4c2"/>
<rect x="158.97" y="314" width="6.62" height="6.7" fill="#f1eee0"/>
<rect x="165.09" y="314" width="6.62" height="6.7" fill="#f0e4c2"/>
<rect x="171.2" y="314" width="6.62" height="6.7" fill="#ecd8a0"/>
<rect x="177.32" y="314" width="18.85" height="6.7" fill="#cbcfeb"/>
<rect x="195.67" y="314" width="6.62" height="6.7" fill="#d8dcf2"/>
<rect x="201.78" y="314" width="61.66" height="6.7" fill="#cbcfeb"/>
<rect x="262.94" y="314" width="6.62" height="6.7" fill="#d8dcf2"/>
<rect x="269.06" y="314" width="31.08" height="6.7" fill="#cbcfeb"/>
<rect x="299.64" y="314" width="6.62" height="6.7" fill="#d8dcf2"/>
<rect x="305.76" y="314" width="6.62" height="6.7" fill="#b8bee6"/>
<rect x="311.87" y="314" width="6.62" height="6.7" fill="#f1eee0"/>
<rect x="317.99" y="314" width="6.12" height="6.7" fill="#f0e4c2"/>
<text x="51.7" y="319.2" font-size="7" text-anchor="end" fill="#111" stroke="#111" stroke-width="0.12">CAD</text>
<rect x="55" y="320.2" width="6.62" height="6.7" fill="#e8eaf4"/>
<rect x="61.12" y="320.2" width="6.62" height="6.7" fill="#cbcfeb"/>
<rect x="67.23" y="320.2" width="6.62" height="6.7" fill="#8a94d6"/>
<rect x="73.35" y="320.2" width="6.62" height="6.7" fill="#a4acdf"/>
<rect x="79.46" y="320.2" width="6.62" height="6.7" fill="#cbcfeb"/>
<rect x="85.58" y="320.2" width="18.85" height="6.7" fill="#d8dcf2"/>
<rect x="103.93" y="320.2" width="6.62" height="6.7" fill="#a4acdf"/>
<rect x="110.04" y="320.2" width="6.62" height="6.7" fill="#e8eaf4"/>
<rect x="116.16" y="320.2" width="6.62" height="6.7" fill="#e8cc80"/>
<rect x="122.28" y="320.2" width="6.62" height="6.7" fill="#d89a50"/>
<rect x="128.39" y="320.2" width="6.62" height="6.7" fill="#b83a24"/>
<rect x="134.51" y="320.2" width="6.62" height="6.7" fill="#d89a50"/>
<rect x="140.62" y="320.2" width="6.62" height="6.7" fill="#f0e4c2"/>
<rect x="146.74" y="320.2" width="18.85" height="6.7" fill="#f1eee0"/>
<rect x="165.09" y="320.2" width="6.62" height="6.7" fill="#f0e4c2"/>
<rect x="171.2" y="320.2" width="6.62" height="6.7" fill="#ecd8a0"/>
<rect x="177.32" y="320.2" width="86.12" height="6.7" fill="#cbcfeb"/>
<rect x="262.94" y="320.2" width="6.62" height="6.7" fill="#e8eaf4"/>
<rect x="269.06" y="320.2" width="24.96" height="6.7" fill="#cbcfeb"/>
<rect x="293.52" y="320.2" width="6.62" height="6.7" fill="#d8dcf2"/>
<rect x="299.64" y="320.2" width="6.62" height="6.7" fill="#e8eaf4"/>
<rect x="305.76" y="320.2" width="6.62" height="6.7" fill="#b8bee6"/>
<rect x="311.87" y="320.2" width="12.23" height="6.7" fill="#f1eee0"/>
<text x="51.7" y="325.4" font-size="7" text-anchor="end" fill="#111" stroke="#111" stroke-width="0.12">NOR</text>
<rect x="55" y="326.4" width="6.62" height="6.7" fill="#d8dcf2"/>
<rect x="61.12" y="326.4" width="6.62" height="6.7" fill="#cbcfeb"/>
<rect x="67.23" y="326.4" width="6.62" height="6.7" fill="#8a94d6"/>
<rect x="73.35" y="326.4" width="6.62" height="6.7" fill="#a4acdf"/>
<rect x="79.46" y="326.4" width="6.62" height="6.7" fill="#e8eaf4"/>
<rect x="85.58" y="326.4" width="6.62" height="6.7" fill="#b8bee6"/>
<rect x="91.7" y="326.4" width="6.62" height="6.7" fill="#f1eee0"/>
<rect x="97.81" y="326.4" width="6.62" height="6.7" fill="#cbcfeb"/>
<rect x="103.93" y="326.4" width="12.73" height="6.7" fill="#a4acdf"/>
<rect x="116.16" y="326.4" width="18.85" height="6.7" fill="#f0e4c2"/>
<rect x="134.51" y="326.4" width="6.62" height="6.7" fill="#e8cc80"/>
<rect x="140.62" y="326.4" width="6.62" height="6.7" fill="#d8dcf2"/>
<rect x="146.74" y="326.4" width="6.62" height="6.7" fill="#e8eaf4"/>
<rect x="152.86" y="326.4" width="12.73" height="6.7" fill="#f1eee0"/>
<rect x="165.09" y="326.4" width="6.62" height="6.7" fill="#f0e4c2"/>
<rect x="171.2" y="326.4" width="6.62" height="6.7" fill="#ecd8a0"/>
<rect x="177.32" y="326.4" width="116.7" height="6.7" fill="#cbcfeb"/>
<rect x="293.52" y="326.4" width="6.62" height="6.7" fill="#b8bee6"/>
<rect x="299.64" y="326.4" width="6.62" height="6.7" fill="#e8eaf4"/>
<rect x="305.76" y="326.4" width="6.62" height="6.7" fill="#b8bee6"/>
<rect x="311.87" y="326.4" width="12.23" height="6.7" fill="#f1eee0"/>
<text x="51.7" y="331.6" font-size="7" text-anchor="end" fill="#111" stroke="#111" stroke-width="0.12">ARI</text>
<rect x="55" y="332.6" width="6.62" height="6.7" fill="#e8eaf4"/>
<rect x="61.12" y="332.6" width="6.62" height="6.7" fill="#cbcfeb"/>
<rect x="67.23" y="332.6" width="6.62" height="6.7" fill="#8a94d6"/>
<rect x="73.35" y="332.6" width="6.62" height="6.7" fill="#a4acdf"/>
<rect x="79.46" y="332.6" width="6.62" height="6.7" fill="#d8dcf2"/>
<rect x="85.58" y="332.6" width="6.62" height="6.7" fill="#cbcfeb"/>
<rect x="91.7" y="332.6" width="6.62" height="6.7" fill="#d8dcf2"/>
<rect x="97.81" y="332.6" width="6.62" height="6.7" fill="#cbcfeb"/>
<rect x="103.93" y="332.6" width="6.62" height="6.7" fill="#a4acdf"/>
<rect x="110.04" y="332.6" width="6.62" height="6.7" fill="#cbcfeb"/>
<rect x="116.16" y="332.6" width="6.62" height="6.7" fill="#f0e4c2"/>
<rect x="122.28" y="332.6" width="6.62" height="6.7" fill="#ecd8a0"/>
<rect x="128.39" y="332.6" width="6.62" height="6.7" fill="#f0e4c2"/>
<rect x="134.51" y="332.6" width="6.62" height="6.7" fill="#e8cc80"/>
<rect x="140.62" y="332.6" width="6.62" height="6.7" fill="#f1eee0"/>
<rect x="146.74" y="332.6" width="12.73" height="6.7" fill="#e8eaf4"/>
<rect x="158.97" y="332.6" width="6.62" height="6.7" fill="#f1eee0"/>
<rect x="165.09" y="332.6" width="6.62" height="6.7" fill="#f0e4c2"/>
<rect x="171.2" y="332.6" width="6.62" height="6.7" fill="#ecd8a0"/>
<rect x="177.32" y="332.6" width="6.62" height="6.7" fill="#cbcfeb"/>
<rect x="183.44" y="332.6" width="6.62" height="6.7" fill="#b8bee6"/>
<rect x="189.55" y="332.6" width="110.59" height="6.7" fill="#cbcfeb"/>
<rect x="299.64" y="332.6" width="6.62" height="6.7" fill="#d8dcf2"/>
<rect x="305.76" y="332.6" width="6.62" height="6.7" fill="#b8bee6"/>
<rect x="311.87" y="332.6" width="6.62" height="6.7" fill="#e8eaf4"/>
<rect x="317.99" y="332.6" width="6.12" height="6.7" fill="#f1eee0"/>
<text x="51.7" y="337.8" font-size="7" text-anchor="end" fill="#111" stroke="#111" stroke-width="0.12">JUL</text>
<rect x="55" y="338.8" width="6.62" height="6.7" fill="#e8eaf4"/>
<rect x="61.12" y="338.8" width="6.62" height="6.7" fill="#f1eee0"/>
<rect x="67.23" y="338.8" width="6.62" height="6.7" fill="#b8bee6"/>
<rect x="73.35" y="338.8" width="6.62" height="6.7" fill="#a4acdf"/>
<rect x="79.46" y="338.8" width="6.62" height="6.7" fill="#e8eaf4"/>
<rect x="85.58" y="338.8" width="6.62" height="6.7" fill="#b8bee6"/>
<rect x="91.7" y="338.8" width="6.62" height="6.7" fill="#e8eaf4"/>
<rect x="97.81" y="338.8" width="6.62" height="6.7" fill="#d8dcf2"/>
<rect x="103.93" y="338.8" width="12.73" height="6.7" fill="#a4acdf"/>
<rect x="116.16" y="338.8" width="12.73" height="6.7" fill="#f0e4c2"/>
<rect x="128.39" y="338.8" width="6.62" height="6.7" fill="#ecd8a0"/>
<rect x="134.51" y="338.8" width="6.62" height="6.7" fill="#f0e4c2"/>
<rect x="140.62" y="338.8" width="12.73" height="6.7" fill="#d8dcf2"/>
<rect x="152.86" y="338.8" width="6.62" height="6.7" fill="#e8eaf4"/>
<rect x="158.97" y="338.8" width="6.62" height="6.7" fill="#f1eee0"/>
<rect x="165.09" y="338.8" width="6.62" height="6.7" fill="#f0e4c2"/>
<rect x="171.2" y="338.8" width="6.62" height="6.7" fill="#ecd8a0"/>
<rect x="177.32" y="338.8" width="6.62" height="6.7" fill="#cbcfeb"/>
<rect x="183.44" y="338.8" width="6.62" height="6.7" fill="#d8dcf2"/>
<rect x="189.55" y="338.8" width="104.47" height="6.7" fill="#cbcfeb"/>
<rect x="293.52" y="338.8" width="12.73" height="6.7" fill="#d8dcf2"/>
<rect x="305.76" y="338.8" width="6.62" height="6.7" fill="#b8bee6"/>
<rect x="311.87" y="338.8" width="12.23" height="6.7" fill="#f1eee0"/>
<text x="51.7" y="344" font-size="7" text-anchor="end" fill="#111" stroke="#111" stroke-width="0.12">MAC</text>
<rect x="55" y="345" width="6.62" height="6.7" fill="#e8eaf4"/>
<rect x="61.12" y="345" width="6.62" height="6.7" fill="#f1eee0"/>
<rect x="67.23" y="345" width="6.62" height="6.7" fill="#b8bee6"/>
<rect x="73.35" y="345" width="6.62" height="6.7" fill="#a4acdf"/>
<rect x="79.46" y="345" width="6.62" height="6.7" fill="#e8eaf4"/>
<rect x="85.58" y="345" width="6.62" height="6.7" fill="#cbcfeb"/>
<rect x="91.7" y="345" width="6.62" height="6.7" fill="#e8eaf4"/>
<rect x="97.81" y="345" width="6.62" height="6.7" fill="#d8dcf2"/>
<rect x="103.93" y="345" width="12.73" height="6.7" fill="#a4acdf"/>
<rect x="116.16" y="345" width="6.62" height="6.7" fill="#f0e4c2"/>
<rect x="122.28" y="345" width="6.62" height="6.7" fill="#ecd8a0"/>
<rect x="128.39" y="345" width="6.62" height="6.7" fill="#e8eaf4"/>
<rect x="134.51" y="345" width="6.62" height="6.7" fill="#ecd8a0"/>
<rect x="140.62" y="345" width="6.62" height="6.7" fill="#d8dcf2"/>
<rect x="146.74" y="345" width="6.62" height="6.7" fill="#f1eee0"/>
<rect x="152.86" y="345" width="6.62" height="6.7" fill="#e8eaf4"/>
<rect x="158.97" y="345" width="6.62" height="6.7" fill="#f1eee0"/>
<rect x="165.09" y="345" width="6.62" height="6.7" fill="#f0e4c2"/>
<rect x="171.2" y="345" width="6.62" height="6.7" fill="#ecd8a0"/>
<rect x="177.32" y="345" width="6.62" height="6.7" fill="#cbcfeb"/>
<rect x="183.44" y="345" width="6.62" height="6.7" fill="#b8bee6"/>
<rect x="189.55" y="345" width="110.59" height="6.7" fill="#cbcfeb"/>
<rect x="299.64" y="345" width="6.62" height="6.7" fill="#d8dcf2"/>
<rect x="305.76" y="345" width="6.62" height="6.7" fill="#b8bee6"/>
<rect x="311.87" y="345" width="6.62" height="6.7" fill="#e8eaf4"/>
<rect x="317.99" y="345" width="6.12" height="6.7" fill="#f1eee0"/>
<text x="51.7" y="350.2" font-size="7" text-anchor="end" fill="#111" stroke="#111" stroke-width="0.12">LAC</text>
<rect x="55" y="351.2" width="6.62" height="6.7" fill="#f1eee0"/>
<rect x="61.12" y="351.2" width="6.62" height="6.7" fill="#d8dcf2"/>
<rect x="67.23" y="351.2" width="6.62" height="6.7" fill="#b8bee6"/>
<rect x="73.35" y="351.2" width="6.62" height="6.7" fill="#a4acdf"/>
<rect x="79.46" y="351.2" width="12.73" height="6.7" fill="#d8dcf2"/>
<rect x="91.7" y="351.2" width="6.62" height="6.7" fill="#b8bee6"/>
<rect x="97.81" y="351.2" width="6.62" height="6.7" fill="#cbcfeb"/>
<rect x="103.93" y="351.2" width="6.62" height="6.7" fill="#a4acdf"/>
<rect x="110.04" y="351.2" width="6.62" height="6.7" fill="#b8bee6"/>
<rect x="116.16" y="351.2" width="6.62" height="6.7" fill="#f0e4c2"/>
<rect x="122.28" y="351.2" width="6.62" height="6.7" fill="#e8cc80"/>
<rect x="128.39" y="351.2" width="6.62" height="6.7" fill="#f0e4c2"/>
<rect x="134.51" y="351.2" width="6.62" height="6.7" fill="#e0c070"/>
<rect x="140.62" y="351.2" width="6.62" height="6.7" fill="#d8dcf2"/>
<rect x="146.74" y="351.2" width="18.85" height="6.7" fill="#f1eee0"/>
<rect x="165.09" y="351.2" width="6.62" height="6.7" fill="#f0e4c2"/>
<rect x="171.2" y="351.2" width="6.62" height="6.7" fill="#ecd8a0"/>
<rect x="177.32" y="351.2" width="6.62" height="6.7" fill="#cbcfeb"/>
<rect x="183.44" y="351.2" width="6.62" height="6.7" fill="#b8bee6"/>
<rect x="189.55" y="351.2" width="110.59" height="6.7" fill="#cbcfeb"/>
<rect x="299.64" y="351.2" width="6.62" height="6.7" fill="#d8dcf2"/>
<rect x="305.76" y="351.2" width="6.62" height="6.7" fill="#b8bee6"/>
<rect x="311.87" y="351.2" width="12.23" height="6.7" fill="#f1eee0"/>
<text x="51.7" y="356.4" font-size="7" text-anchor="end" fill="#111" stroke="#111" stroke-width="0.12">SYM</text>
<rect x="55" y="357.4" width="6.62" height="6.7" fill="#e8eaf4"/>
<rect x="61.12" y="357.4" width="6.62" height="6.7" fill="#d8dcf2"/>
<rect x="67.23" y="357.4" width="12.73" height="6.7" fill="#b8bee6"/>
<rect x="79.46" y="357.4" width="6.62" height="6.7" fill="#f1eee0"/>
<rect x="85.58" y="357.4" width="18.85" height="6.7" fill="#cbcfeb"/>
<rect x="103.93" y="357.4" width="6.62" height="6.7" fill="#a4acdf"/>
<rect x="110.04" y="357.4" width="6.62" height="6.7" fill="#8a94d6"/>
<rect x="116.16" y="357.4" width="6.62" height="6.7" fill="#d89a50"/>
<rect x="122.28" y="357.4" width="12.73" height="6.7" fill="#f0e4c2"/>
<rect x="134.51" y="357.4" width="6.62" height="6.7" fill="#ecd8a0"/>
<rect x="140.62" y="357.4" width="12.73" height="6.7" fill="#d8dcf2"/>
<rect x="152.86" y="357.4" width="6.62" height="6.7" fill="#e8eaf4"/>
<rect x="158.97" y="357.4" width="12.73" height="6.7" fill="#f1eee0"/>
<rect x="171.2" y="357.4" width="6.62" height="6.7" fill="#ecd8a0"/>
<rect x="177.32" y="357.4" width="122.82" height="6.7" fill="#cbcfeb"/>
<rect x="299.64" y="357.4" width="6.62" height="6.7" fill="#d8dcf2"/>
<rect x="305.76" y="357.4" width="6.62" height="6.7" fill="#b8bee6"/>
<rect x="311.87" y="357.4" width="12.23" height="6.7" fill="#f1eee0"/>
<text x="51.7" y="362.6" font-size="7" text-anchor="end" fill="#111" stroke="#111" stroke-width="0.12">LDM</text>
<rect x="55" y="363.6" width="6.62" height="6.7" fill="#e8eaf4"/>
<rect x="61.12" y="363.6" width="6.62" height="6.7" fill="#d8dcf2"/>
<rect x="67.23" y="363.6" width="6.62" height="6.7" fill="#a4acdf"/>
<rect x="73.35" y="363.6" width="6.62" height="6.7" fill="#b8bee6"/>
<rect x="79.46" y="363.6" width="6.62" height="6.7" fill="#e8eaf4"/>
<rect x="85.58" y="363.6" width="6.62" height="6.7" fill="#cbcfeb"/>
<rect x="91.7" y="363.6" width="6.62" height="6.7" fill="#d8dcf2"/>
<rect x="97.81" y="363.6" width="6.62" height="6.7" fill="#cbcfeb"/>
<rect x="103.93" y="363.6" width="12.73" height="6.7" fill="#a4acdf"/>
<rect x="116.16" y="363.6" width="6.62" height="6.7" fill="#b83a24"/>
<rect x="122.28" y="363.6" width="6.62" height="6.7" fill="#f0e4c2"/>
<rect x="128.39" y="363.6" width="6.62" height="6.7" fill="#e8cc80"/>
<rect x="134.51" y="363.6" width="6.62" height="6.7" fill="#ecd8a0"/>
<rect x="140.62" y="363.6" width="6.62" height="6.7" fill="#d8dcf2"/>
<rect x="146.74" y="363.6" width="6.62" height="6.7" fill="#e8eaf4"/>
<rect x="152.86" y="363.6" width="12.73" height="6.7" fill="#f1eee0"/>
<rect x="165.09" y="363.6" width="6.62" height="6.7" fill="#f0e4c2"/>
<rect x="171.2" y="363.6" width="6.62" height="6.7" fill="#ecd8a0"/>
<rect x="177.32" y="363.6" width="122.82" height="6.7" fill="#cbcfeb"/>
<rect x="299.64" y="363.6" width="6.62" height="6.7" fill="#d8dcf2"/>
<rect x="305.76" y="363.6" width="6.62" height="6.7" fill="#b8bee6"/>
<rect x="311.87" y="363.6" width="12.23" height="6.7" fill="#f1eee0"/>
<text x="51.7" y="368.8" font-size="7" text-anchor="end" fill="#111" stroke="#111" stroke-width="0.12">WEE</text>
<rect x="55" y="369.8" width="6.62" height="6.7" fill="#e8eaf4"/>
<rect x="61.12" y="369.8" width="6.62" height="6.7" fill="#cbcfeb"/>
<rect x="67.23" y="369.8" width="6.62" height="6.7" fill="#b8bee6"/>
<rect x="73.35" y="369.8" width="6.62" height="6.7" fill="#a4acdf"/>
<rect x="79.46" y="369.8" width="6.62" height="6.7" fill="#e8eaf4"/>
<rect x="85.58" y="369.8" width="6.62" height="6.7" fill="#cbcfeb"/>
<rect x="91.7" y="369.8" width="6.62" height="6.7" fill="#d8dcf2"/>
<rect x="97.81" y="369.8" width="6.62" height="6.7" fill="#cbcfeb"/>
<rect x="103.93" y="369.8" width="6.62" height="6.7" fill="#a4acdf"/>
<rect x="110.04" y="369.8" width="6.62" height="6.7" fill="#5060c0"/>
<rect x="116.16" y="369.8" width="6.62" height="6.7" fill="#b83a24"/>
<rect x="122.28" y="369.8" width="6.62" height="6.7" fill="#f0e4c2"/>
<rect x="128.39" y="369.8" width="6.62" height="6.7" fill="#f1eee0"/>
<rect x="134.51" y="369.8" width="6.62" height="6.7" fill="#e0c070"/>
<rect x="140.62" y="369.8" width="6.62" height="6.7" fill="#d8dcf2"/>
<rect x="146.74" y="369.8" width="12.73" height="6.7" fill="#f1eee0"/>
<rect x="158.97" y="369.8" width="6.62" height="6.7" fill="#e8eaf4"/>
<rect x="165.09" y="369.8" width="6.62" height="6.7" fill="#f0e4c2"/>
<rect x="171.2" y="369.8" width="6.62" height="6.7" fill="#ecd8a0"/>
<rect x="177.32" y="369.8" width="6.62" height="6.7" fill="#cbcfeb"/>
<rect x="183.44" y="369.8" width="6.62" height="6.7" fill="#b8bee6"/>
<rect x="189.55" y="369.8" width="110.59" height="6.7" fill="#cbcfeb"/>
<rect x="299.64" y="369.8" width="6.62" height="6.7" fill="#e8eaf4"/>
<rect x="305.76" y="369.8" width="6.62" height="6.7" fill="#b8bee6"/>
<rect x="311.87" y="369.8" width="6.62" height="6.7" fill="#f1eee0"/>
<rect x="317.99" y="369.8" width="6.12" height="6.7" fill="#e8eaf4"/>
<text x="51.7" y="375" font-size="7" text-anchor="end" fill="#111" stroke="#111" stroke-width="0.12">STA</text>
<rect x="55" y="376" width="6.62" height="6.2" fill="#e8eaf4"/>
<rect x="61.12" y="376" width="6.62" height="6.2" fill="#cbcfeb"/>
<rect x="67.23" y="376" width="6.62" height="6.2" fill="#8a94d6"/>
<rect x="73.35" y="376" width="6.62" height="6.2" fill="#a4acdf"/>
<rect x="79.46" y="376" width="6.62" height="6.2" fill="#e8eaf4"/>
<rect x="85.58" y="376" width="6.62" height="6.2" fill="#cbcfeb"/>
<rect x="91.7" y="376" width="6.62" height="6.2" fill="#b8bee6"/>
<rect x="97.81" y="376" width="6.62" height="6.2" fill="#d8dcf2"/>
<rect x="103.93" y="376" width="12.73" height="6.2" fill="#a4acdf"/>
<rect x="116.16" y="376" width="6.62" height="6.2" fill="#e8cc80"/>
<rect x="122.28" y="376" width="12.73" height="6.2" fill="#f0e4c2"/>
<rect x="134.51" y="376" width="6.62" height="6.2" fill="#ecd8a0"/>
<rect x="140.62" y="376" width="6.62" height="6.2" fill="#f1eee0"/>
<rect x="146.74" y="376" width="6.62" height="6.2" fill="#cbcfeb"/>
<rect x="152.86" y="376" width="12.73" height="6.2" fill="#e8eaf4"/>
<rect x="165.09" y="376" width="6.62" height="6.2" fill="#f0e4c2"/>
<rect x="171.2" y="376" width="6.62" height="6.2" fill="#ecd8a0"/>
<rect x="177.32" y="376" width="116.7" height="6.2" fill="#cbcfeb"/>
<rect x="293.52" y="376" width="6.62" height="6.2" fill="#b8bee6"/>
<rect x="299.64" y="376" width="6.62" height="6.2" fill="#e8eaf4"/>
<rect x="305.76" y="376" width="6.62" height="6.2" fill="#b8bee6"/>
<rect x="311.87" y="376" width="12.23" height="6.2" fill="#f1eee0"/>
<text x="51.7" y="381.2" font-size="7" text-anchor="end" fill="#111" stroke="#111" stroke-width="0.12">ROB</text>
<path d="M55 301.6V382.2M61.12 301.6V382.2M67.23 301.6V382.2M73.35 301.6V382.2M79.46 301.6V382.2M85.58 301.6V382.2M91.7 301.6V382.2M97.81 301.6V382.2M103.93 301.6V382.2M110.04 301.6V382.2M116.16 301.6V382.2M122.28 301.6V382.2M128.39 301.6V382.2M134.51 301.6V382.2M140.62 301.6V382.2M146.74 301.6V382.2M152.86 301.6V382.2M158.97 301.6V382.2M165.09 301.6V382.2M171.2 301.6V382.2M177.32 301.6V382.2M183.44 301.6V382.2M189.55 301.6V382.2M195.67 301.6V382.2M201.78 301.6V382.2M207.9 301.6V382.2M214.02 301.6V382.2M220.13 301.6V382.2M226.25 301.6V382.2M232.36 301.6V382.2M238.48 301.6V382.2M244.6 301.6V382.2M250.71 301.6V382.2M256.83 301.6V382.2M262.94 301.6V382.2M269.06 301.6V382.2M275.18 301.6V382.2M281.29 301.6V382.2M287.41 301.6V382.2M293.52 301.6V382.2M299.64 301.6V382.2M305.76 301.6V382.2M311.87 301.6V382.2M317.99 301.6V382.2M324.1 301.6V382.2M55 301.6H324.1M55 307.8H324.1M55 314H324.1M55 320.2H324.1M55 326.4H324.1M55 332.6H324.1M55 338.8H324.1M55 345H324.1M55 351.2H324.1M55 357.4H324.1M55 363.6H324.1M55 369.8H324.1M55 376H324.1M55 382.2H324.1" stroke="#7a7a8a" stroke-width="0.5" stroke-opacity="0.35" fill="none"/>
<text transform="translate(336.2,338.2) rotate(-90)" font-size="6.5" text-anchor="middle" fill="#111" stroke="#111" stroke-width="0.12">GS59 spike</text>
<rect x="55" y="386.6" width="6.62" height="6.7" fill="#d8dcf2"/>
<rect x="61.12" y="386.6" width="6.62" height="6.7" fill="#b8bee6"/>
<rect x="67.23" y="386.6" width="6.62" height="6.7" fill="#d8dcf2"/>
<rect x="73.35" y="386.6" width="6.62" height="6.7" fill="#b8bee6"/>
<rect x="79.46" y="386.6" width="6.62" height="6.7" fill="#6a78cc"/>
<rect x="85.58" y="386.6" width="6.62" height="6.7" fill="#e8cc80"/>
<rect x="91.7" y="386.6" width="6.62" height="6.7" fill="#ce8046"/>
<rect x="97.81" y="386.6" width="6.62" height="6.7" fill="#e8cc80"/>
<rect x="103.93" y="386.6" width="12.73" height="6.7" fill="#ecd8a0"/>
<rect x="116.16" y="386.6" width="6.62" height="6.7" fill="#e8eaf4"/>
<rect x="122.28" y="386.6" width="6.62" height="6.7" fill="#cbcfeb"/>
<rect x="128.39" y="386.6" width="12.73" height="6.7" fill="#b8bee6"/>
<rect x="140.62" y="386.6" width="6.62" height="6.7" fill="#d8dcf2"/>
<rect x="146.74" y="386.6" width="6.62" height="6.7" fill="#f1eee0"/>
<rect x="152.86" y="386.6" width="12.73" height="6.7" fill="#f0e4c2"/>
<rect x="165.09" y="386.6" width="6.62" height="6.7" fill="#b8bee6"/>
<rect x="171.2" y="386.6" width="110.59" height="6.7" fill="#cbcfeb"/>
<rect x="281.29" y="386.6" width="6.62" height="6.7" fill="#b8bee6"/>
<rect x="287.41" y="386.6" width="6.62" height="6.7" fill="#ecd8a0"/>
<rect x="293.52" y="386.6" width="12.73" height="6.7" fill="#cbcfeb"/>
<rect x="305.76" y="386.6" width="6.62" height="6.7" fill="#f1eee0"/>
<rect x="311.87" y="386.6" width="12.23" height="6.7" fill="#6a78cc"/>
<text x="51.7" y="391.8" font-size="7" text-anchor="end" fill="#111" stroke="#111" stroke-width="0.12">CLA</text>
<rect x="55" y="392.8" width="6.62" height="6.7" fill="#cbcfeb"/>
<rect x="61.12" y="392.8" width="6.62" height="6.7" fill="#a4acdf"/>
<rect x="67.23" y="392.8" width="6.62" height="6.7" fill="#cbcfeb"/>
<rect x="73.35" y="392.8" width="6.62" height="6.7" fill="#b8bee6"/>
<rect x="79.46" y="392.8" width="6.62" height="6.7" fill="#6a78cc"/>
<rect x="85.58" y="392.8" width="6.62" height="6.7" fill="#e8cc80"/>
<rect x="91.7" y="392.8" width="6.62" height="6.7" fill="#ce8046"/>
<rect x="97.81" y="392.8" width="6.62" height="6.7" fill="#e0c070"/>
<rect x="103.93" y="392.8" width="12.73" height="6.7" fill="#ecd8a0"/>
<rect x="116.16" y="392.8" width="18.85" height="6.7" fill="#cbcfeb"/>
<rect x="134.51" y="392.8" width="6.62" height="6.7" fill="#b8bee6"/>
<rect x="140.62" y="392.8" width="6.62" height="6.7" fill="#d8dcf2"/>
<rect x="146.74" y="392.8" width="6.62" height="6.7" fill="#e8eaf4"/>
<rect x="152.86" y="392.8" width="6.62" height="6.7" fill="#f1eee0"/>
<rect x="158.97" y="392.8" width="6.62" height="6.7" fill="#f0e4c2"/>
<rect x="165.09" y="392.8" width="6.62" height="6.7" fill="#b8bee6"/>
<rect x="171.2" y="392.8" width="6.62" height="6.7" fill="#d8dcf2"/>
<rect x="177.32" y="392.8" width="24.96" height="6.7" fill="#cbcfeb"/>
<rect x="201.78" y="392.8" width="6.62" height="6.7" fill="#d8dcf2"/>
<rect x="207.9" y="392.8" width="73.89" height="6.7" fill="#cbcfeb"/>
<rect x="281.29" y="392.8" width="6.62" height="6.7" fill="#b8bee6"/>
<rect x="287.41" y="392.8" width="6.62" height="6.7" fill="#f1eee0"/>
<rect x="293.52" y="392.8" width="6.62" height="6.7" fill="#d8dcf2"/>
<rect x="299.64" y="392.8" width="6.62" height="6.7" fill="#cbcfeb"/>
<rect x="305.76" y="392.8" width="6.62" height="6.7" fill="#f1eee0"/>
<rect x="311.87" y="392.8" width="12.23" height="6.7" fill="#6a78cc"/>
<text x="51.7" y="398" font-size="7" text-anchor="end" fill="#111" stroke="#111" stroke-width="0.12">CAD</text>
<rect x="55" y="399" width="6.62" height="6.7" fill="#b8bee6"/>
<rect x="61.12" y="399" width="6.62" height="6.7" fill="#a4acdf"/>
<rect x="67.23" y="399" width="6.62" height="6.7" fill="#cbcfeb"/>
<rect x="73.35" y="399" width="6.62" height="6.7" fill="#b8bee6"/>
<rect x="79.46" y="399" width="6.62" height="6.7" fill="#6a78cc"/>
<rect x="85.58" y="399" width="6.62" height="6.7" fill="#e8cc80"/>
<rect x="91.7" y="399" width="6.62" height="6.7" fill="#c25530"/>
<rect x="97.81" y="399" width="18.85" height="6.7" fill="#ecd8a0"/>
<rect x="116.16" y="399" width="12.73" height="6.7" fill="#cbcfeb"/>
<rect x="128.39" y="399" width="12.73" height="6.7" fill="#b8bee6"/>
<rect x="140.62" y="399" width="6.62" height="6.7" fill="#d8dcf2"/>
<rect x="146.74" y="399" width="6.62" height="6.7" fill="#e8eaf4"/>
<rect x="152.86" y="399" width="6.62" height="6.7" fill="#f1eee0"/>
<rect x="158.97" y="399" width="6.62" height="6.7" fill="#f0e4c2"/>
<rect x="165.09" y="399" width="6.62" height="6.7" fill="#b8bee6"/>
<rect x="171.2" y="399" width="6.62" height="6.7" fill="#a4acdf"/>
<rect x="177.32" y="399" width="6.62" height="6.7" fill="#cbcfeb"/>
<rect x="183.44" y="399" width="6.62" height="6.7" fill="#d8dcf2"/>
<rect x="189.55" y="399" width="12.73" height="6.7" fill="#cbcfeb"/>
<rect x="201.78" y="399" width="6.62" height="6.7" fill="#e8eaf4"/>
<rect x="207.9" y="399" width="73.89" height="6.7" fill="#cbcfeb"/>
<rect x="281.29" y="399" width="6.62" height="6.7" fill="#b8bee6"/>
<rect x="287.41" y="399" width="6.62" height="6.7" fill="#f1eee0"/>
<rect x="293.52" y="399" width="6.62" height="6.7" fill="#d8dcf2"/>
<rect x="299.64" y="399" width="6.62" height="6.7" fill="#cbcfeb"/>
<rect x="305.76" y="399" width="6.62" height="6.7" fill="#e8eaf4"/>
<rect x="311.87" y="399" width="6.62" height="6.7" fill="#6a78cc"/>
<rect x="317.99" y="399" width="6.12" height="6.7" fill="#8a94d6"/>
<text x="51.7" y="404.2" font-size="7" text-anchor="end" fill="#111" stroke="#111" stroke-width="0.12">NOR</text>
<rect x="55" y="405.2" width="6.62" height="6.7" fill="#e8eaf4"/>
<rect x="61.12" y="405.2" width="6.62" height="6.7" fill="#b8bee6"/>
<rect x="67.23" y="405.2" width="6.62" height="6.7" fill="#d8dcf2"/>
<rect x="73.35" y="405.2" width="6.62" height="6.7" fill="#e8eaf4"/>
<rect x="79.46" y="405.2" width="6.62" height="6.7" fill="#6a78cc"/>
<rect x="85.58" y="405.2" width="6.62" height="6.7" fill="#e8cc80"/>
<rect x="91.7" y="405.2" width="6.62" height="6.7" fill="#c25530"/>
<rect x="97.81" y="405.2" width="18.85" height="6.7" fill="#ecd8a0"/>
<rect x="116.16" y="405.2" width="18.85" height="6.7" fill="#cbcfeb"/>
<rect x="134.51" y="405.2" width="6.62" height="6.7" fill="#b8bee6"/>
<rect x="140.62" y="405.2" width="6.62" height="6.7" fill="#d8dcf2"/>
<rect x="146.74" y="405.2" width="6.62" height="6.7" fill="#e8eaf4"/>
<rect x="152.86" y="405.2" width="6.62" height="6.7" fill="#f1eee0"/>
<rect x="158.97" y="405.2" width="6.62" height="6.7" fill="#f0e4c2"/>
<rect x="165.09" y="405.2" width="6.62" height="6.7" fill="#b8bee6"/>
<rect x="171.2" y="405.2" width="12.73" height="6.7" fill="#cbcfeb"/>
<rect x="183.44" y="405.2" width="6.62" height="6.7" fill="#d8dcf2"/>
<rect x="189.55" y="405.2" width="12.73" height="6.7" fill="#cbcfeb"/>
<rect x="201.78" y="405.2" width="6.62" height="6.7" fill="#d8dcf2"/>
<rect x="207.9" y="405.2" width="73.89" height="6.7" fill="#cbcfeb"/>
<rect x="281.29" y="405.2" width="6.62" height="6.7" fill="#b8bee6"/>
<rect x="287.41" y="405.2" width="6.62" height="6.7" fill="#e8eaf4"/>
<rect x="293.52" y="405.2" width="6.62" height="6.7" fill="#d8dcf2"/>
<rect x="299.64" y="405.2" width="6.62" height="6.7" fill="#cbcfeb"/>
<rect x="305.76" y="405.2" width="6.62" height="6.7" fill="#e8eaf4"/>
<rect x="311.87" y="405.2" width="12.23" height="6.7" fill="#8a94d6"/>
<text x="51.7" y="410.4" font-size="7" text-anchor="end" fill="#111" stroke="#111" stroke-width="0.12">JAG</text>
<rect x="55" y="411.4" width="6.62" height="6.7" fill="#e8eaf4"/>
<rect x="61.12" y="411.4" width="6.62" height="6.7" fill="#a4acdf"/>
<rect x="67.23" y="411.4" width="12.73" height="6.7" fill="#d8dcf2"/>
<rect x="79.46" y="411.4" width="6.62" height="6.7" fill="#6a78cc"/>
<rect x="85.58" y="411.4" width="6.62" height="6.7" fill="#e8cc80"/>
<rect x="91.7" y="411.4" width="6.62" height="6.7" fill="#c25530"/>
<rect x="97.81" y="411.4" width="18.85" height="6.7" fill="#ecd8a0"/>
<rect x="116.16" y="411.4" width="12.73" height="6.7" fill="#cbcfeb"/>
<rect x="128.39" y="411.4" width="12.73" height="6.7" fill="#b8bee6"/>
<rect x="140.62" y="411.4" width="12.73" height="6.7" fill="#d8dcf2"/>
<rect x="152.86" y="411.4" width="6.62" height="6.7" fill="#f1eee0"/>
<rect x="158.97" y="411.4" width="6.62" height="6.7" fill="#f0e4c2"/>
<rect x="165.09" y="411.4" width="6.62" height="6.7" fill="#b8bee6"/>
<rect x="171.2" y="411.4" width="6.62" height="6.7" fill="#d8dcf2"/>
<rect x="177.32" y="411.4" width="24.96" height="6.7" fill="#cbcfeb"/>
<rect x="201.78" y="411.4" width="6.62" height="6.7" fill="#d8dcf2"/>
<rect x="207.9" y="411.4" width="18.85" height="6.7" fill="#cbcfeb"/>
<rect x="226.25" y="411.4" width="6.62" height="6.7" fill="#d8dcf2"/>
<rect x="232.36" y="411.4" width="49.43" height="6.7" fill="#cbcfeb"/>
<rect x="281.29" y="411.4" width="6.62" height="6.7" fill="#b8bee6"/>
<rect x="287.41" y="411.4" width="6.62" height="6.7" fill="#d8dcf2"/>
<rect x="293.52" y="411.4" width="12.73" height="6.7" fill="#cbcfeb"/>
<rect x="305.76" y="411.4" width="6.62" height="6.7" fill="#e8eaf4"/>
<rect x="311.87" y="411.4" width="6.62" height="6.7" fill="#6a78cc"/>
<rect x="317.99" y="411.4" width="6.12" height="6.7" fill="#8a94d6"/>
<text x="51.7" y="416.6" font-size="7" text-anchor="end" fill="#111" stroke="#111" stroke-width="0.12">ARI</text>
<rect x="55" y="417.6" width="6.62" height="6.7" fill="#d8dcf2"/>
<rect x="61.12" y="417.6" width="6.62" height="6.7" fill="#a4acdf"/>
<rect x="67.23" y="417.6" width="6.62" height="6.7" fill="#cbcfeb"/>
<rect x="73.35" y="417.6" width="6.62" height="6.7" fill="#e8eaf4"/>
<rect x="79.46" y="417.6" width="6.62" height="6.7" fill="#6a78cc"/>
<rect x="85.58" y="417.6" width="6.62" height="6.7" fill="#e8cc80"/>
<rect x="91.7" y="417.6" width="6.62" height="6.7" fill="#ce8046"/>
<rect x="97.81" y="417.6" width="18.85" height="6.7" fill="#ecd8a0"/>
<rect x="116.16" y="417.6" width="18.85" height="6.7" fill="#cbcfeb"/>
<rect x="134.51" y="417.6" width="6.62" height="6.7" fill="#b8bee6"/>
<rect x="140.62" y="417.6" width="6.62" height="6.7" fill="#d8dcf2"/>
<rect x="146.74" y="417.6" width="6.62" height="6.7" fill="#e8eaf4"/>
<rect x="152.86" y="417.6" width="6.62" height="6.7" fill="#f1eee0"/>
<rect x="158.97" y="417.6" width="6.62" height="6.7" fill="#f0e4c2"/>
<rect x="165.09" y="417.6" width="6.62" height="6.7" fill="#b8bee6"/>
<rect x="171.2" y="417.6" width="31.08" height="6.7" fill="#cbcfeb"/>
<rect x="201.78" y="417.6" width="6.62" height="6.7" fill="#d8dcf2"/>
<rect x="207.9" y="417.6" width="73.89" height="6.7" fill="#cbcfeb"/>
<rect x="281.29" y="417.6" width="6.62" height="6.7" fill="#b8bee6"/>
<rect x="287.41" y="417.6" width="18.85" height="6.7" fill="#cbcfeb"/>
<rect x="305.76" y="417.6" width="6.62" height="6.7" fill="#e8eaf4"/>
<rect x="311.87" y="417.6" width="12.23" height="6.7" fill="#6a78cc"/>
<text x="51.7" y="422.8" font-size="7" text-anchor="end" fill="#111" stroke="#111" stroke-width="0.12">STA</text>
<rect x="55" y="423.8" width="6.62" height="6.7" fill="#cbcfeb"/>
<rect x="61.12" y="423.8" width="6.62" height="6.7" fill="#a4acdf"/>
<rect x="67.23" y="423.8" width="6.62" height="6.7" fill="#b8bee6"/>
<rect x="73.35" y="423.8" width="6.62" height="6.7" fill="#cbcfeb"/>
<rect x="79.46" y="423.8" width="6.62" height="6.7" fill="#6a78cc"/>
<rect x="85.58" y="423.8" width="6.62" height="6.7" fill="#e8cc80"/>
<rect x="91.7" y="423.8" width="6.62" height="6.7" fill="#c25530"/>
<rect x="97.81" y="423.8" width="6.62" height="6.7" fill="#d89a50"/>
<rect x="103.93" y="423.8" width="6.62" height="6.7" fill="#ecd8a0"/>
<rect x="110.04" y="423.8" width="6.62" height="6.7" fill="#e8cc80"/>
<rect x="116.16" y="423.8" width="12.73" height="6.7" fill="#cbcfeb"/>
<rect x="128.39" y="423.8" width="6.62" height="6.7" fill="#d8dcf2"/>
<rect x="134.51" y="423.8" width="6.62" height="6.7" fill="#b8bee6"/>
<rect x="140.62" y="423.8" width="6.62" height="6.7" fill="#d8dcf2"/>
<rect x="146.74" y="423.8" width="12.73" height="6.7" fill="#f0e4c2"/>
<rect x="158.97" y="423.8" width="6.62" height="6.7" fill="#ecd8a0"/>
<rect x="165.09" y="423.8" width="6.62" height="6.7" fill="#b8bee6"/>
<rect x="171.2" y="423.8" width="6.62" height="6.7" fill="#e8eaf4"/>
<rect x="177.32" y="423.8" width="6.62" height="6.7" fill="#cbcfeb"/>
<rect x="183.44" y="423.8" width="6.62" height="6.7" fill="#d8dcf2"/>
<rect x="189.55" y="423.8" width="12.73" height="6.7" fill="#cbcfeb"/>
<rect x="201.78" y="423.8" width="6.62" height="6.7" fill="#e8eaf4"/>
<rect x="207.9" y="423.8" width="73.89" height="6.7" fill="#cbcfeb"/>
<rect x="281.29" y="423.8" width="6.62" height="6.7" fill="#b8bee6"/>
<rect x="287.41" y="423.8" width="12.73" height="6.7" fill="#d8dcf2"/>
<rect x="299.64" y="423.8" width="6.62" height="6.7" fill="#cbcfeb"/>
<rect x="305.76" y="423.8" width="6.62" height="6.7" fill="#e8eaf4"/>
<rect x="311.87" y="423.8" width="6.62" height="6.7" fill="#6a78cc"/>
<rect x="317.99" y="423.8" width="6.12" height="6.7" fill="#8a94d6"/>
<text x="51.7" y="429" font-size="7" text-anchor="end" fill="#111" stroke="#111" stroke-width="0.12">LDM</text>
<rect x="55" y="430" width="6.62" height="6.7" fill="#cbcfeb"/>
<rect x="61.12" y="430" width="6.62" height="6.7" fill="#8a94d6"/>
<rect x="67.23" y="430" width="12.73" height="6.7" fill="#e8eaf4"/>
<rect x="79.46" y="430" width="6.62" height="6.7" fill="#6a78cc"/>
<rect x="85.58" y="430" width="6.62" height="6.7" fill="#e8cc80"/>
<rect x="91.7" y="430" width="6.62" height="6.7" fill="#c25530"/>
<rect x="97.81" y="430" width="6.62" height="6.7" fill="#e8cc80"/>
<rect x="103.93" y="430" width="12.73" height="6.7" fill="#ecd8a0"/>
<rect x="116.16" y="430" width="18.85" height="6.7" fill="#cbcfeb"/>
<rect x="134.51" y="430" width="6.62" height="6.7" fill="#b8bee6"/>
<rect x="140.62" y="430" width="6.62" height="6.7" fill="#d8dcf2"/>
<rect x="146.74" y="430" width="6.62" height="6.7" fill="#e8eaf4"/>
<rect x="152.86" y="430" width="12.73" height="6.7" fill="#f0e4c2"/>
<rect x="165.09" y="430" width="6.62" height="6.7" fill="#b8bee6"/>
<rect x="171.2" y="430" width="6.62" height="6.7" fill="#e8eaf4"/>
<rect x="177.32" y="430" width="24.96" height="6.7" fill="#cbcfeb"/>
<rect x="201.78" y="430" width="6.62" height="6.7" fill="#d8dcf2"/>
<rect x="207.9" y="430" width="73.89" height="6.7" fill="#cbcfeb"/>
<rect x="281.29" y="430" width="6.62" height="6.7" fill="#b8bee6"/>
<rect x="287.41" y="430" width="6.62" height="6.7" fill="#f1eee0"/>
<rect x="293.52" y="430" width="6.62" height="6.7" fill="#e8eaf4"/>
<rect x="299.64" y="430" width="6.62" height="6.7" fill="#cbcfeb"/>
<rect x="305.76" y="430" width="6.62" height="6.7" fill="#e8eaf4"/>
<rect x="311.87" y="430" width="12.23" height="6.7" fill="#8a94d6"/>
<text x="51.7" y="435.2" font-size="7" text-anchor="end" fill="#111" stroke="#111" stroke-width="0.12">LAC</text>
<rect x="55" y="436.2" width="6.62" height="6.7" fill="#d8dcf2"/>
<rect x="61.12" y="436.2" width="6.62" height="6.7" fill="#a4acdf"/>
<rect x="67.23" y="436.2" width="6.62" height="6.7" fill="#f1eee0"/>
<rect x="73.35" y="436.2" width="6.62" height="6.7" fill="#e8eaf4"/>
<rect x="79.46" y="436.2" width="6.62" height="6.7" fill="#6a78cc"/>
<rect x="85.58" y="436.2" width="6.62" height="6.7" fill="#e8cc80"/>
<rect x="91.7" y="436.2" width="6.62" height="6.7" fill="#c25530"/>
<rect x="97.81" y="436.2" width="6.62" height="6.7" fill="#e8cc80"/>
<rect x="103.93" y="436.2" width="6.62" height="6.7" fill="#ecd8a0"/>
<rect x="110.04" y="436.2" width="6.62" height="6.7" fill="#e8cc80"/>
<rect x="116.16" y="436.2" width="6.62" height="6.7" fill="#f1eee0"/>
<rect x="122.28" y="436.2" width="12.73" height="6.7" fill="#cbcfeb"/>
<rect x="134.51" y="436.2" width="6.62" height="6.7" fill="#b8bee6"/>
<rect x="140.62" y="436.2" width="12.73" height="6.7" fill="#d8dcf2"/>
<rect x="152.86" y="436.2" width="12.73" height="6.7" fill="#f0e4c2"/>
<rect x="165.09" y="436.2" width="6.62" height="6.7" fill="#b8bee6"/>
<rect x="171.2" y="436.2" width="6.62" height="6.7" fill="#e8eaf4"/>
<rect x="177.32" y="436.2" width="6.62" height="6.7" fill="#cbcfeb"/>
<rect x="183.44" y="436.2" width="6.62" height="6.7" fill="#e8eaf4"/>
<rect x="189.55" y="436.2" width="12.73" height="6.7" fill="#cbcfeb"/>
<rect x="201.78" y="436.2" width="6.62" height="6.7" fill="#d8dcf2"/>
<rect x="207.9" y="436.2" width="73.89" height="6.7" fill="#cbcfeb"/>
<rect x="281.29" y="436.2" width="6.62" height="6.7" fill="#b8bee6"/>
<rect x="287.41" y="436.2" width="6.62" height="6.7" fill="#e8eaf4"/>
<rect x="293.52" y="436.2" width="12.73" height="6.7" fill="#cbcfeb"/>
<rect x="305.76" y="436.2" width="6.62" height="6.7" fill="#e8eaf4"/>
<rect x="311.87" y="436.2" width="12.23" height="6.7" fill="#8a94d6"/>
<text x="51.7" y="441.4" font-size="7" text-anchor="end" fill="#111" stroke="#111" stroke-width="0.12">MAC</text>
<rect x="55" y="442.4" width="6.62" height="6.7" fill="#e8eaf4"/>
<rect x="61.12" y="442.4" width="6.62" height="6.7" fill="#8a94d6"/>
<rect x="67.23" y="442.4" width="6.62" height="6.7" fill="#f1eee0"/>
<rect x="73.35" y="442.4" width="6.62" height="6.7" fill="#b8bee6"/>
<rect x="79.46" y="442.4" width="6.62" height="6.7" fill="#6a78cc"/>
<rect x="85.58" y="442.4" width="6.62" height="6.7" fill="#e8cc80"/>
<rect x="91.7" y="442.4" width="6.62" height="6.7" fill="#c25530"/>
<rect x="97.81" y="442.4" width="6.62" height="6.7" fill="#e0c070"/>
<rect x="103.93" y="442.4" width="12.73" height="6.7" fill="#ecd8a0"/>
<rect x="116.16" y="442.4" width="12.73" height="6.7" fill="#cbcfeb"/>
<rect x="128.39" y="442.4" width="12.73" height="6.7" fill="#b8bee6"/>
<rect x="140.62" y="442.4" width="6.62" height="6.7" fill="#d8dcf2"/>
<rect x="146.74" y="442.4" width="6.62" height="6.7" fill="#e8eaf4"/>
<rect x="152.86" y="442.4" width="12.73" height="6.7" fill="#f0e4c2"/>
<rect x="165.09" y="442.4" width="6.62" height="6.7" fill="#b8bee6"/>
<rect x="171.2" y="442.4" width="6.62" height="6.7" fill="#e8eaf4"/>
<rect x="177.32" y="442.4" width="6.62" height="6.7" fill="#cbcfeb"/>
<rect x="183.44" y="442.4" width="6.62" height="6.7" fill="#d8dcf2"/>
<rect x="189.55" y="442.4" width="12.73" height="6.7" fill="#cbcfeb"/>
<rect x="201.78" y="442.4" width="6.62" height="6.7" fill="#e8eaf4"/>
<rect x="207.9" y="442.4" width="73.89" height="6.7" fill="#cbcfeb"/>
<rect x="281.29" y="442.4" width="6.62" height="6.7" fill="#b8bee6"/>
<rect x="287.41" y="442.4" width="6.62" height="6.7" fill="#f0e4c2"/>
<rect x="293.52" y="442.4" width="12.73" height="6.7" fill="#cbcfeb"/>
<rect x="305.76" y="442.4" width="6.62" height="6.7" fill="#e8eaf4"/>
<rect x="311.87" y="442.4" width="6.62" height="6.7" fill="#6a78cc"/>
<rect x="317.99" y="442.4" width="6.12" height="6.7" fill="#8a94d6"/>
<text x="51.7" y="447.6" font-size="7" text-anchor="end" fill="#111" stroke="#111" stroke-width="0.12">JUL</text>
<rect x="55" y="448.6" width="6.62" height="6.7" fill="#cbcfeb"/>
<rect x="61.12" y="448.6" width="6.62" height="6.7" fill="#b8bee6"/>
<rect x="67.23" y="448.6" width="6.62" height="6.7" fill="#e8eaf4"/>
<rect x="73.35" y="448.6" width="6.62" height="6.7" fill="#cbcfeb"/>
<rect x="79.46" y="448.6" width="6.62" height="6.7" fill="#6a78cc"/>
<rect x="85.58" y="448.6" width="6.62" height="6.7" fill="#e8cc80"/>
<rect x="91.7" y="448.6" width="6.62" height="6.7" fill="#c25530"/>
<rect x="97.81" y="448.6" width="6.62" height="6.7" fill="#e8cc80"/>
<rect x="103.93" y="448.6" width="12.73" height="6.7" fill="#ecd8a0"/>
<rect x="116.16" y="448.6" width="12.73" height="6.7" fill="#cbcfeb"/>
<rect x="128.39" y="448.6" width="12.73" height="6.7" fill="#b8bee6"/>
<rect x="140.62" y="448.6" width="6.62" height="6.7" fill="#d8dcf2"/>
<rect x="146.74" y="448.6" width="6.62" height="6.7" fill="#f1eee0"/>
<rect x="152.86" y="448.6" width="12.73" height="6.7" fill="#f0e4c2"/>
<rect x="165.09" y="448.6" width="6.62" height="6.7" fill="#b8bee6"/>
<rect x="171.2" y="448.6" width="6.62" height="6.7" fill="#d8dcf2"/>
<rect x="177.32" y="448.6" width="6.62" height="6.7" fill="#cbcfeb"/>
<rect x="183.44" y="448.6" width="6.62" height="6.7" fill="#d8dcf2"/>
<rect x="189.55" y="448.6" width="12.73" height="6.7" fill="#cbcfeb"/>
<rect x="201.78" y="448.6" width="6.62" height="6.7" fill="#d8dcf2"/>
<rect x="207.9" y="448.6" width="18.85" height="6.7" fill="#cbcfeb"/>
<rect x="226.25" y="448.6" width="6.62" height="6.7" fill="#d8dcf2"/>
<rect x="232.36" y="448.6" width="49.43" height="6.7" fill="#cbcfeb"/>
<rect x="281.29" y="448.6" width="6.62" height="6.7" fill="#b8bee6"/>
<rect x="287.41" y="448.6" width="12.73" height="6.7" fill="#d8dcf2"/>
<rect x="299.64" y="448.6" width="6.62" height="6.7" fill="#cbcfeb"/>
<rect x="305.76" y="448.6" width="6.62" height="6.7" fill="#e8eaf4"/>
<rect x="311.87" y="448.6" width="12.23" height="6.7" fill="#8a94d6"/>
<text x="51.7" y="453.8" font-size="7" text-anchor="end" fill="#111" stroke="#111" stroke-width="0.12">ROB</text>
<rect x="55" y="454.8" width="6.62" height="6.7" fill="#a4acdf"/>
<rect x="61.12" y="454.8" width="6.62" height="6.7" fill="#b8bee6"/>
<rect x="67.23" y="454.8" width="6.62" height="6.7" fill="#f1eee0"/>
<rect x="73.35" y="454.8" width="6.62" height="6.7" fill="#b8bee6"/>
<rect x="79.46" y="454.8" width="6.62" height="6.7" fill="#6a78cc"/>
<rect x="85.58" y="454.8" width="18.85" height="6.7" fill="#e8cc80"/>
<rect x="103.93" y="454.8" width="6.62" height="6.7" fill="#ecd8a0"/>
<rect x="110.04" y="454.8" width="6.62" height="6.7" fill="#f0e4c2"/>
<rect x="116.16" y="454.8" width="12.73" height="6.7" fill="#cbcfeb"/>
<rect x="128.39" y="454.8" width="12.73" height="6.7" fill="#b8bee6"/>
<rect x="140.62" y="454.8" width="6.62" height="6.7" fill="#d8dcf2"/>
<rect x="146.74" y="454.8" width="6.62" height="6.7" fill="#e8eaf4"/>
<rect x="152.86" y="454.8" width="12.73" height="6.7" fill="#f0e4c2"/>
<rect x="165.09" y="454.8" width="12.73" height="6.7" fill="#b8bee6"/>
<rect x="177.32" y="454.8" width="6.62" height="6.7" fill="#cbcfeb"/>
<rect x="183.44" y="454.8" width="6.62" height="6.7" fill="#d8dcf2"/>
<rect x="189.55" y="454.8" width="12.73" height="6.7" fill="#cbcfeb"/>
<rect x="201.78" y="454.8" width="6.62" height="6.7" fill="#d8dcf2"/>
<rect x="207.9" y="454.8" width="18.85" height="6.7" fill="#cbcfeb"/>
<rect x="226.25" y="454.8" width="6.62" height="6.7" fill="#d8dcf2"/>
<rect x="232.36" y="454.8" width="49.43" height="6.7" fill="#cbcfeb"/>
<rect x="281.29" y="454.8" width="6.62" height="6.7" fill="#b8bee6"/>
<rect x="287.41" y="454.8" width="6.62" height="6.7" fill="#ecd8a0"/>
<rect x="293.52" y="454.8" width="12.73" height="6.7" fill="#cbcfeb"/>
<rect x="305.76" y="454.8" width="6.62" height="6.7" fill="#f1eee0"/>
<rect x="311.87" y="454.8" width="6.62" height="6.7" fill="#6a78cc"/>
<rect x="317.99" y="454.8" width="6.12" height="6.7" fill="#8a94d6"/>
<text x="51.7" y="460" font-size="7" text-anchor="end" fill="#111" stroke="#111" stroke-width="0.12">SYM</text>
<rect x="55" y="461" width="6.62" height="6.2" fill="#cbcfeb"/>
<rect x="61.12" y="461" width="6.62" height="6.2" fill="#8a94d6"/>
<rect x="67.23" y="461" width="6.62" height="6.2" fill="#d8dcf2"/>
<rect x="73.35" y="461" width="6.62" height="6.2" fill="#b8bee6"/>
<rect x="79.46" y="461" width="6.62" height="6.2" fill="#6a78cc"/>
<rect x="85.58" y="461" width="6.62" height="6.2" fill="#e8cc80"/>
<rect x="91.7" y="461" width="6.62" height="6.2" fill="#ce8046"/>
<rect x="97.81" y="461" width="6.62" height="6.2" fill="#b8bee6"/>
<rect x="103.93" y="461" width="12.73" height="6.2" fill="#ecd8a0"/>
<rect x="116.16" y="461" width="18.85" height="6.2" fill="#cbcfeb"/>
<rect x="134.51" y="461" width="6.62" height="6.2" fill="#b8bee6"/>
<rect x="140.62" y="461" width="6.62" height="6.2" fill="#e8eaf4"/>
<rect x="146.74" y="461" width="6.62" height="6.2" fill="#d8dcf2"/>
<rect x="152.86" y="461" width="12.73" height="6.2" fill="#f0e4c2"/>
<rect x="165.09" y="461" width="6.62" height="6.2" fill="#b8bee6"/>
<rect x="171.2" y="461" width="6.62" height="6.2" fill="#d8dcf2"/>
<rect x="177.32" y="461" width="104.47" height="6.2" fill="#cbcfeb"/>
<rect x="281.29" y="461" width="6.62" height="6.2" fill="#b8bee6"/>
<rect x="287.41" y="461" width="6.62" height="6.2" fill="#f1eee0"/>
<rect x="293.52" y="461" width="6.62" height="6.2" fill="#d8dcf2"/>
<rect x="299.64" y="461" width="6.62" height="6.2" fill="#cbcfeb"/>
<rect x="305.76" y="461" width="6.62" height="6.2" fill="#f1eee0"/>
<rect x="311.87" y="461" width="6.62" height="6.2" fill="#8a94d6"/>
<rect x="317.99" y="461" width="6.12" height="6.2" fill="#6a78cc"/>
<text x="51.7" y="466.2" font-size="7" text-anchor="end" fill="#111" stroke="#111" stroke-width="0.12">WEE</text>
<path d="M55 386.6V467.2M61.12 386.6V467.2M67.23 386.6V467.2M73.35 386.6V467.2M79.46 386.6V467.2M85.58 386.6V467.2M91.7 386.6V467.2M97.81 386.6V467.2M103.93 386.6V467.2M110.04 386.6V467.2M116.16 386.6V467.2M122.28 386.6V467.2M128.39 386.6V467.2M134.51 386.6V467.2M140.62 386.6V467.2M146.74 386.6V467.2M152.86 386.6V467.2M158.97 386.6V467.2M165.09 386.6V467.2M171.2 386.6V467.2M177.32 386.6V467.2M183.44 386.6V467.2M189.55 386.6V467.2M195.67 386.6V467.2M201.78 386.6V467.2M207.9 386.6V467.2M214.02 386.6V467.2M220.13 386.6V467.2M226.25 386.6V467.2M232.36 386.6V467.2M238.48 386.6V467.2M244.6 386.6V467.2M250.71 386.6V467.2M256.83 386.6V467.2M262.94 386.6V467.2M269.06 386.6V467.2M275.18 386.6V467.2M281.29 386.6V467.2M287.41 386.6V467.2M293.52 386.6V467.2M299.64 386.6V467.2M305.76 386.6V467.2M311.87 386.6V467.2M317.99 386.6V467.2M324.1 386.6V467.2M55 386.6H324.1M55 392.8H324.1M55 399H324.1M55 405.2H324.1M55 411.4H324.1M55 417.6H324.1M55 423.8H324.1M55 430H324.1M55 436.2H324.1M55 442.4H324.1M55 448.6H324.1M55 454.8H324.1M55 461H324.1M55 467.2H324.1" stroke="#7a7a8a" stroke-width="0.5" stroke-opacity="0.35" fill="none"/>
<text transform="translate(336.2,429) rotate(-90)" font-size="6.5" text-anchor="middle" fill="#111" stroke="#111" stroke-width="0.12">GS13 root</text>
<rect x="55" y="471.6" width="18.85" height="6.7" fill="#e8cc80"/>
<rect x="73.35" y="471.6" width="6.62" height="6.7" fill="#f0e4c2"/>
<rect x="79.46" y="471.6" width="6.62" height="6.7" fill="#ecd8a0"/>
<rect x="85.58" y="471.6" width="6.62" height="6.7" fill="#f1eee0"/>
<rect x="91.7" y="471.6" width="6.62" height="6.7" fill="#f0e4c2"/>
<rect x="97.81" y="471.6" width="6.62" height="6.7" fill="#e8eaf4"/>
<rect x="103.93" y="471.6" width="6.62" height="6.7" fill="#f0e4c2"/>
<rect x="110.04" y="471.6" width="6.62" height="6.7" fill="#e8eaf4"/>
<rect x="116.16" y="471.6" width="12.73" height="6.7" fill="#cbcfeb"/>
<rect x="128.39" y="471.6" width="6.62" height="6.7" fill="#f0e4c2"/>
<rect x="134.51" y="471.6" width="6.62" height="6.7" fill="#ecd8a0"/>
<rect x="140.62" y="471.6" width="6.62" height="6.7" fill="#d8dcf2"/>
<rect x="146.74" y="471.6" width="6.62" height="6.7" fill="#f0e4c2"/>
<rect x="152.86" y="471.6" width="6.62" height="6.7" fill="#e8eaf4"/>
<rect x="158.97" y="471.6" width="6.62" height="6.7" fill="#f0e4c2"/>
<rect x="165.09" y="471.6" width="6.62" height="6.7" fill="#b8bee6"/>
<rect x="171.2" y="471.6" width="110.59" height="6.7" fill="#cbcfeb"/>
<rect x="281.29" y="471.6" width="6.62" height="6.7" fill="#d8dcf2"/>
<rect x="287.41" y="471.6" width="6.62" height="6.7" fill="#b8bee6"/>
<rect x="293.52" y="471.6" width="12.73" height="6.7" fill="#cbcfeb"/>
<rect x="305.76" y="471.6" width="6.62" height="6.7" fill="#b8bee6"/>
<rect x="311.87" y="471.6" width="12.23" height="6.7" fill="#f1eee0"/>
<text x="51.7" y="476.8" font-size="7" text-anchor="end" fill="#111" stroke="#111" stroke-width="0.12">JAG</text>
<rect x="55" y="477.8" width="18.85" height="6.7" fill="#e8cc80"/>
<rect x="73.35" y="477.8" width="12.73" height="6.7" fill="#ecd8a0"/>
<rect x="85.58" y="477.8" width="6.62" height="6.7" fill="#f1eee0"/>
<rect x="91.7" y="477.8" width="6.62" height="6.7" fill="#f0e4c2"/>
<rect x="97.81" y="477.8" width="6.62" height="6.7" fill="#cbcfeb"/>
<rect x="103.93" y="477.8" width="18.85" height="6.7" fill="#f1eee0"/>
<rect x="122.28" y="477.8" width="6.62" height="6.7" fill="#cbcfeb"/>
<rect x="128.39" y="477.8" width="12.73" height="6.7" fill="#f1eee0"/>
<rect x="140.62" y="477.8" width="6.62" height="6.7" fill="#d8dcf2"/>
<rect x="146.74" y="477.8" width="6.62" height="6.7" fill="#f1eee0"/>
<rect x="152.86" y="477.8" width="6.62" height="6.7" fill="#e8eaf4"/>
<rect x="158.97" y="477.8" width="6.62" height="6.7" fill="#f0e4c2"/>
<rect x="165.09" y="477.8" width="6.62" height="6.7" fill="#b8bee6"/>
<rect x="171.2" y="477.8" width="110.59" height="6.7" fill="#cbcfeb"/>
<rect x="281.29" y="477.8" width="6.62" height="6.7" fill="#d8dcf2"/>
<rect x="287.41" y="477.8" width="6.62" height="6.7" fill="#b8bee6"/>
<rect x="293.52" y="477.8" width="6.62" height="6.7" fill="#d8dcf2"/>
<rect x="299.64" y="477.8" width="6.62" height="6.7" fill="#cbcfeb"/>
<rect x="305.76" y="477.8" width="6.62" height="6.7" fill="#b8bee6"/>
<rect x="311.87" y="477.8" width="12.23" height="6.7" fill="#f1eee0"/>
<text x="51.7" y="483" font-size="7" text-anchor="end" fill="#111" stroke="#111" stroke-width="0.12">LAC</text>
<rect x="55" y="484" width="24.96" height="6.7" fill="#e8cc80"/>
<rect x="79.46" y="484" width="6.62" height="6.7" fill="#ecd8a0"/>
<rect x="85.58" y="484" width="6.62" height="6.7" fill="#f1eee0"/>
<rect x="91.7" y="484" width="6.62" height="6.7" fill="#f0e4c2"/>
<rect x="97.81" y="484" width="6.62" height="6.7" fill="#cbcfeb"/>
<rect x="103.93" y="484" width="6.62" height="6.7" fill="#f1eee0"/>
<rect x="110.04" y="484" width="6.62" height="6.7" fill="#d8dcf2"/>
<rect x="116.16" y="484" width="6.62" height="6.7" fill="#e8eaf4"/>
<rect x="122.28" y="484" width="6.62" height="6.7" fill="#cbcfeb"/>
<rect x="128.39" y="484" width="6.62" height="6.7" fill="#f0e4c2"/>
<rect x="134.51" y="484" width="6.62" height="6.7" fill="#ecd8a0"/>
<rect x="140.62" y="484" width="6.62" height="6.7" fill="#d8dcf2"/>
<rect x="146.74" y="484" width="6.62" height="6.7" fill="#f1eee0"/>
<rect x="152.86" y="484" width="6.62" height="6.7" fill="#d8dcf2"/>
<rect x="158.97" y="484" width="6.62" height="6.7" fill="#f0e4c2"/>
<rect x="165.09" y="484" width="6.62" height="6.7" fill="#b8bee6"/>
<rect x="171.2" y="484" width="12.73" height="6.7" fill="#cbcfeb"/>
<rect x="183.44" y="484" width="6.62" height="6.7" fill="#d8dcf2"/>
<rect x="189.55" y="484" width="92.24" height="6.7" fill="#cbcfeb"/>
<rect x="281.29" y="484" width="6.62" height="6.7" fill="#e8eaf4"/>
<rect x="287.41" y="484" width="6.62" height="6.7" fill="#b8bee6"/>
<rect x="293.52" y="484" width="6.62" height="6.7" fill="#d8dcf2"/>
<rect x="299.64" y="484" width="6.62" height="6.7" fill="#cbcfeb"/>
<rect x="305.76" y="484" width="6.62" height="6.7" fill="#b8bee6"/>
<rect x="311.87" y="484" width="6.62" height="6.7" fill="#f1eee0"/>
<rect x="317.99" y="484" width="6.12" height="6.7" fill="#e8eaf4"/>
<text x="51.7" y="489.2" font-size="7" text-anchor="end" fill="#111" stroke="#111" stroke-width="0.12">MAC</text>
<rect x="55" y="490.2" width="18.85" height="6.7" fill="#e8cc80"/>
<rect x="73.35" y="490.2" width="6.62" height="6.7" fill="#f1eee0"/>
<rect x="79.46" y="490.2" width="6.62" height="6.7" fill="#ecd8a0"/>
<rect x="85.58" y="490.2" width="12.73" height="6.7" fill="#d8dcf2"/>
<rect x="97.81" y="490.2" width="6.62" height="6.7" fill="#cbcfeb"/>
<rect x="103.93" y="490.2" width="6.62" height="6.7" fill="#f1eee0"/>
<rect x="110.04" y="490.2" width="6.62" height="6.7" fill="#8a94d6"/>
<rect x="116.16" y="490.2" width="6.62" height="6.7" fill="#f1eee0"/>
<rect x="122.28" y="490.2" width="6.62" height="6.7" fill="#cbcfeb"/>
<rect x="128.39" y="490.2" width="6.62" height="6.7" fill="#d8dcf2"/>
<rect x="134.51" y="490.2" width="6.62" height="6.7" fill="#e8eaf4"/>
<rect x="140.62" y="490.2" width="6.62" height="6.7" fill="#d8dcf2"/>
<rect x="146.74" y="490.2" width="6.62" height="6.7" fill="#f1eee0"/>
<rect x="152.86" y="490.2" width="6.62" height="6.7" fill="#cbcfeb"/>
<rect x="158.97" y="490.2" width="6.62" height="6.7" fill="#f0e4c2"/>
<rect x="165.09" y="490.2" width="6.62" height="6.7" fill="#b8bee6"/>
<rect x="171.2" y="490.2" width="6.62" height="6.7" fill="#a4acdf"/>
<rect x="177.32" y="490.2" width="104.47" height="6.7" fill="#cbcfeb"/>
<rect x="281.29" y="490.2" width="6.62" height="6.7" fill="#e8eaf4"/>
<rect x="287.41" y="490.2" width="6.62" height="6.7" fill="#b8bee6"/>
<rect x="293.52" y="490.2" width="12.73" height="6.7" fill="#cbcfeb"/>
<rect x="305.76" y="490.2" width="6.62" height="6.7" fill="#b8bee6"/>
<rect x="311.87" y="490.2" width="12.23" height="6.7" fill="#f1eee0"/>
<text x="51.7" y="495.4" font-size="7" text-anchor="end" fill="#111" stroke="#111" stroke-width="0.12">CLA</text>
<rect x="55" y="496.4" width="12.73" height="6.7" fill="#e8cc80"/>
<rect x="67.23" y="496.4" width="6.62" height="6.7" fill="#e0c070"/>
<rect x="73.35" y="496.4" width="6.62" height="6.7" fill="#f1eee0"/>
<rect x="79.46" y="496.4" width="6.62" height="6.7" fill="#ecd8a0"/>
<rect x="85.58" y="496.4" width="6.62" height="6.7" fill="#f1eee0"/>
<rect x="91.7" y="496.4" width="6.62" height="6.7" fill="#d8dcf2"/>
<rect x="97.81" y="496.4" width="6.62" height="6.7" fill="#cbcfeb"/>
<rect x="103.93" y="496.4" width="6.62" height="6.7" fill="#f1eee0"/>
<rect x="110.04" y="496.4" width="6.62" height="6.7" fill="#e8eaf4"/>
<rect x="116.16" y="496.4" width="6.62" height="6.7" fill="#d8dcf2"/>
<rect x="122.28" y="496.4" width="6.62" height="6.7" fill="#cbcfeb"/>
<rect x="128.39" y="496.4" width="12.73" height="6.7" fill="#e8eaf4"/>
<rect x="140.62" y="496.4" width="6.62" height="6.7" fill="#d8dcf2"/>
<rect x="146.74" y="496.4" width="6.62" height="6.7" fill="#f1eee0"/>
<rect x="152.86" y="496.4" width="6.62" height="6.7" fill="#b8bee6"/>
<rect x="158.97" y="496.4" width="6.62" height="6.7" fill="#f0e4c2"/>
<rect x="165.09" y="496.4" width="6.62" height="6.7" fill="#b8bee6"/>
<rect x="171.2" y="496.4" width="6.62" height="6.7" fill="#a4acdf"/>
<rect x="177.32" y="496.4" width="104.47" height="6.7" fill="#cbcfeb"/>
<rect x="281.29" y="496.4" width="6.62" height="6.7" fill="#e8eaf4"/>
<rect x="287.41" y="496.4" width="6.62" height="6.7" fill="#b8bee6"/>
<rect x="293.52" y="496.4" width="12.73" height="6.7" fill="#cbcfeb"/>
<rect x="305.76" y="496.4" width="6.62" height="6.7" fill="#b8bee6"/>
<rect x="311.87" y="496.4" width="6.62" height="6.7" fill="#f1eee0"/>
<rect x="317.99" y="496.4" width="6.12" height="6.7" fill="#e8eaf4"/>
<text x="51.7" y="501.6" font-size="7" text-anchor="end" fill="#111" stroke="#111" stroke-width="0.12">SYM</text>
<rect x="55" y="502.6" width="18.85" height="6.7" fill="#e8cc80"/>
<rect x="73.35" y="502.6" width="6.62" height="6.7" fill="#f1eee0"/>
<rect x="79.46" y="502.6" width="6.62" height="6.7" fill="#ecd8a0"/>
<rect x="85.58" y="502.6" width="12.73" height="6.7" fill="#f1eee0"/>
<rect x="97.81" y="502.6" width="6.62" height="6.7" fill="#d8dcf2"/>
<rect x="103.93" y="502.6" width="6.62" height="6.7" fill="#f1eee0"/>
<rect x="110.04" y="502.6" width="6.62" height="6.7" fill="#cbcfeb"/>
<rect x="116.16" y="502.6" width="6.62" height="6.7" fill="#e8eaf4"/>
<rect x="122.28" y="502.6" width="6.62" height="6.7" fill="#cbcfeb"/>
<rect x="128.39" y="502.6" width="12.73" height="6.7" fill="#e8eaf4"/>
<rect x="140.62" y="502.6" width="6.62" height="6.7" fill="#d8dcf2"/>
<rect x="146.74" y="502.6" width="6.62" height="6.7" fill="#f1eee0"/>
<rect x="152.86" y="502.6" width="6.62" height="6.7" fill="#e8eaf4"/>
<rect x="158.97" y="502.6" width="6.62" height="6.7" fill="#f0e4c2"/>
<rect x="165.09" y="502.6" width="12.73" height="6.7" fill="#b8bee6"/>
<rect x="177.32" y="502.6" width="104.47" height="6.7" fill="#cbcfeb"/>
<rect x="281.29" y="502.6" width="6.62" height="6.7" fill="#e8eaf4"/>
<rect x="287.41" y="502.6" width="6.62" height="6.7" fill="#b8bee6"/>
<rect x="293.52" y="502.6" width="12.73" height="6.7" fill="#cbcfeb"/>
<rect x="305.76" y="502.6" width="6.62" height="6.7" fill="#b8bee6"/>
<rect x="311.87" y="502.6" width="12.23" height="6.7" fill="#f1eee0"/>
<text x="51.7" y="507.8" font-size="7" text-anchor="end" fill="#111" stroke="#111" stroke-width="0.12">ARI</text>
<rect x="55" y="508.8" width="18.85" height="6.7" fill="#e8cc80"/>
<rect x="73.35" y="508.8" width="6.62" height="6.7" fill="#f0e4c2"/>
<rect x="79.46" y="508.8" width="6.62" height="6.7" fill="#e8cc80"/>
<rect x="85.58" y="508.8" width="12.73" height="6.7" fill="#f1eee0"/>
<rect x="97.81" y="508.8" width="6.62" height="6.7" fill="#cbcfeb"/>
<rect x="103.93" y="508.8" width="6.62" height="6.7" fill="#f1eee0"/>
<rect x="110.04" y="508.8" width="6.62" height="6.7" fill="#b8bee6"/>
<rect x="116.16" y="508.8" width="6.62" height="6.7" fill="#d8dcf2"/>
<rect x="122.28" y="508.8" width="6.62" height="6.7" fill="#cbcfeb"/>
<rect x="128.39" y="508.8" width="6.62" height="6.7" fill="#f0e4c2"/>
<rect x="134.51" y="508.8" width="6.62" height="6.7" fill="#f1eee0"/>
<rect x="140.62" y="508.8" width="6.62" height="6.7" fill="#d8dcf2"/>
<rect x="146.74" y="508.8" width="6.62" height="6.7" fill="#f0e4c2"/>
<rect x="152.86" y="508.8" width="6.62" height="6.7" fill="#e8eaf4"/>
<rect x="158.97" y="508.8" width="6.62" height="6.7" fill="#f0e4c2"/>
<rect x="165.09" y="508.8" width="6.62" height="6.7" fill="#b8bee6"/>
<rect x="171.2" y="508.8" width="6.62" height="6.7" fill="#8a94d6"/>
<rect x="177.32" y="508.8" width="104.47" height="6.7" fill="#cbcfeb"/>
<rect x="281.29" y="508.8" width="6.62" height="6.7" fill="#d8dcf2"/>
<rect x="287.41" y="508.8" width="6.62" height="6.7" fill="#b8bee6"/>
<rect x="293.52" y="508.8" width="6.62" height="6.7" fill="#e8eaf4"/>
<rect x="299.64" y="508.8" width="6.62" height="6.7" fill="#cbcfeb"/>
<rect x="305.76" y="508.8" width="6.62" height="6.7" fill="#b8bee6"/>
<rect x="311.87" y="508.8" width="12.23" height="6.7" fill="#e8eaf4"/>
<text x="51.7" y="514" font-size="7" text-anchor="end" fill="#111" stroke="#111" stroke-width="0.12">CAD</text>
<rect x="55" y="515" width="18.85" height="6.7" fill="#e8cc80"/>
<rect x="73.35" y="515" width="6.62" height="6.7" fill="#f1eee0"/>
<rect x="79.46" y="515" width="6.62" height="6.7" fill="#ecd8a0"/>
<rect x="85.58" y="515" width="12.73" height="6.7" fill="#f1eee0"/>
<rect x="97.81" y="515" width="6.62" height="6.7" fill="#d8dcf2"/>
<rect x="103.93" y="515" width="6.62" height="6.7" fill="#f1eee0"/>
<rect x="110.04" y="515" width="6.62" height="6.7" fill="#cbcfeb"/>
<rect x="116.16" y="515" width="6.62" height="6.7" fill="#d8dcf2"/>
<rect x="122.28" y="515" width="6.62" height="6.7" fill="#cbcfeb"/>
<rect x="128.39" y="515" width="6.62" height="6.7" fill="#d8dcf2"/>
<rect x="134.51" y="515" width="6.62" height="6.7" fill="#f1eee0"/>
<rect x="140.62" y="515" width="6.62" height="6.7" fill="#d8dcf2"/>
<rect x="146.74" y="515" width="6.62" height="6.7" fill="#f1eee0"/>
<rect x="152.86" y="515" width="6.62" height="6.7" fill="#d8dcf2"/>
<rect x="158.97" y="515" width="6.62" height="6.7" fill="#f0e4c2"/>
<rect x="165.09" y="515" width="12.73" height="6.7" fill="#b8bee6"/>
<rect x="177.32" y="515" width="104.47" height="6.7" fill="#cbcfeb"/>
<rect x="281.29" y="515" width="6.62" height="6.7" fill="#d8dcf2"/>
<rect x="287.41" y="515" width="6.62" height="6.7" fill="#b8bee6"/>
<rect x="293.52" y="515" width="6.62" height="6.7" fill="#d8dcf2"/>
<rect x="299.64" y="515" width="6.62" height="6.7" fill="#cbcfeb"/>
<rect x="305.76" y="515" width="6.62" height="6.7" fill="#b8bee6"/>
<rect x="311.87" y="515" width="6.62" height="6.7" fill="#e8eaf4"/>
<rect x="317.99" y="515" width="6.12" height="6.7" fill="#f1eee0"/>
<text x="51.7" y="520.2" font-size="7" text-anchor="end" fill="#111" stroke="#111" stroke-width="0.12">LDM</text>
<rect x="55" y="521.2" width="12.73" height="6.7" fill="#e8cc80"/>
<rect x="67.23" y="521.2" width="6.62" height="6.7" fill="#ecd8a0"/>
<rect x="73.35" y="521.2" width="6.62" height="6.7" fill="#f0e4c2"/>
<rect x="79.46" y="521.2" width="6.62" height="6.7" fill="#ecd8a0"/>
<rect x="85.58" y="521.2" width="12.73" height="6.7" fill="#f1eee0"/>
<rect x="97.81" y="521.2" width="6.62" height="6.7" fill="#d8dcf2"/>
<rect x="103.93" y="521.2" width="6.62" height="6.7" fill="#f1eee0"/>
<rect x="110.04" y="521.2" width="6.62" height="6.7" fill="#d8dcf2"/>
<rect x="116.16" y="521.2" width="12.73" height="6.7" fill="#cbcfeb"/>
<rect x="128.39" y="521.2" width="6.62" height="6.7" fill="#e8eaf4"/>
<rect x="134.51" y="521.2" width="6.62" height="6.7" fill="#f1eee0"/>
<rect x="140.62" y="521.2" width="6.62" height="6.7" fill="#d8dcf2"/>
<rect x="146.74" y="521.2" width="6.62" height="6.7" fill="#f1eee0"/>
<rect x="152.86" y="521.2" width="6.62" height="6.7" fill="#d8dcf2"/>
<rect x="158.97" y="521.2" width="6.62" height="6.7" fill="#f0e4c2"/>
<rect x="165.09" y="521.2" width="12.73" height="6.7" fill="#b8bee6"/>
<rect x="177.32" y="521.2" width="86.12" height="6.7" fill="#cbcfeb"/>
<rect x="262.94" y="521.2" width="6.62" height="6.7" fill="#d8dcf2"/>
<rect x="269.06" y="521.2" width="12.73" height="6.7" fill="#cbcfeb"/>
<rect x="281.29" y="521.2" width="6.62" height="6.7" fill="#d8dcf2"/>
<rect x="287.41" y="521.2" width="6.62" height="6.7" fill="#b8bee6"/>
<rect x="293.52" y="521.2" width="6.62" height="6.7" fill="#d8dcf2"/>
<rect x="299.64" y="521.2" width="6.62" height="6.7" fill="#cbcfeb"/>
<rect x="305.76" y="521.2" width="6.62" height="6.7" fill="#b8bee6"/>
<rect x="311.87" y="521.2" width="12.23" height="6.7" fill="#e8eaf4"/>
<text x="51.7" y="526.4" font-size="7" text-anchor="end" fill="#111" stroke="#111" stroke-width="0.12">NOR</text>
<rect x="55" y="527.4" width="18.85" height="6.7" fill="#e8cc80"/>
<rect x="73.35" y="527.4" width="6.62" height="6.7" fill="#e8eaf4"/>
<rect x="79.46" y="527.4" width="6.62" height="6.7" fill="#ecd8a0"/>
<rect x="85.58" y="527.4" width="12.73" height="6.7" fill="#f1eee0"/>
<rect x="97.81" y="527.4" width="6.62" height="6.7" fill="#a4acdf"/>
<rect x="103.93" y="527.4" width="6.62" height="6.7" fill="#f0e4c2"/>
<rect x="110.04" y="527.4" width="6.62" height="6.7" fill="#a4acdf"/>
<rect x="116.16" y="527.4" width="12.73" height="6.7" fill="#cbcfeb"/>
<rect x="128.39" y="527.4" width="6.62" height="6.7" fill="#e8eaf4"/>
<rect x="134.51" y="527.4" width="6.62" height="6.7" fill="#f1eee0"/>
<rect x="140.62" y="527.4" width="6.62" height="6.7" fill="#d8dcf2"/>
<rect x="146.74" y="527.4" width="6.62" height="6.7" fill="#f1eee0"/>
<rect x="152.86" y="527.4" width="6.62" height="6.7" fill="#cbcfeb"/>
<rect x="158.97" y="527.4" width="6.62" height="6.7" fill="#f0e4c2"/>
<rect x="165.09" y="527.4" width="12.73" height="6.7" fill="#b8bee6"/>
<rect x="177.32" y="527.4" width="104.47" height="6.7" fill="#cbcfeb"/>
<rect x="281.29" y="527.4" width="6.62" height="6.7" fill="#e8eaf4"/>
<rect x="287.41" y="527.4" width="6.62" height="6.7" fill="#b8bee6"/>
<rect x="293.52" y="527.4" width="6.62" height="6.7" fill="#d8dcf2"/>
<rect x="299.64" y="527.4" width="6.62" height="6.7" fill="#cbcfeb"/>
<rect x="305.76" y="527.4" width="6.62" height="6.7" fill="#b8bee6"/>
<rect x="311.87" y="527.4" width="12.23" height="6.7" fill="#e8eaf4"/>
<text x="51.7" y="532.6" font-size="7" text-anchor="end" fill="#111" stroke="#111" stroke-width="0.12">WEE</text>
<rect x="55" y="533.6" width="18.85" height="6.7" fill="#e8cc80"/>
<rect x="73.35" y="533.6" width="12.73" height="6.7" fill="#ecd8a0"/>
<rect x="85.58" y="533.6" width="12.73" height="6.7" fill="#f1eee0"/>
<rect x="97.81" y="533.6" width="6.62" height="6.7" fill="#cbcfeb"/>
<rect x="103.93" y="533.6" width="6.62" height="6.7" fill="#f1eee0"/>
<rect x="110.04" y="533.6" width="18.85" height="6.7" fill="#cbcfeb"/>
<rect x="128.39" y="533.6" width="18.85" height="6.7" fill="#d8dcf2"/>
<rect x="146.74" y="533.6" width="6.62" height="6.7" fill="#f0e4c2"/>
<rect x="152.86" y="533.6" width="6.62" height="6.7" fill="#e8eaf4"/>
<rect x="158.97" y="533.6" width="6.62" height="6.7" fill="#f0e4c2"/>
<rect x="165.09" y="533.6" width="6.62" height="6.7" fill="#b8bee6"/>
<rect x="171.2" y="533.6" width="6.62" height="6.7" fill="#a4acdf"/>
<rect x="177.32" y="533.6" width="31.08" height="6.7" fill="#cbcfeb"/>
<rect x="207.9" y="533.6" width="12.73" height="6.7" fill="#d8dcf2"/>
<rect x="220.13" y="533.6" width="6.62" height="6.7" fill="#cbcfeb"/>
<rect x="226.25" y="533.6" width="18.85" height="6.7" fill="#d8dcf2"/>
<rect x="244.6" y="533.6" width="37.2" height="6.7" fill="#cbcfeb"/>
<rect x="281.29" y="533.6" width="6.62" height="6.7" fill="#d8dcf2"/>
<rect x="287.41" y="533.6" width="6.62" height="6.7" fill="#b8bee6"/>
<rect x="293.52" y="533.6" width="12.73" height="6.7" fill="#cbcfeb"/>
<rect x="305.76" y="533.6" width="6.62" height="6.7" fill="#b8bee6"/>
<rect x="311.87" y="533.6" width="12.23" height="6.7" fill="#f1eee0"/>
<text x="51.7" y="538.8" font-size="7" text-anchor="end" fill="#111" stroke="#111" stroke-width="0.12">JUL</text>
<rect x="55" y="539.8" width="12.73" height="6.7" fill="#e8cc80"/>
<rect x="67.23" y="539.8" width="18.85" height="6.7" fill="#ecd8a0"/>
<rect x="85.58" y="539.8" width="6.62" height="6.7" fill="#f1eee0"/>
<rect x="91.7" y="539.8" width="6.62" height="6.7" fill="#e8eaf4"/>
<rect x="97.81" y="539.8" width="6.62" height="6.7" fill="#b8bee6"/>
<rect x="103.93" y="539.8" width="6.62" height="6.7" fill="#f1eee0"/>
<rect x="110.04" y="539.8" width="6.62" height="6.7" fill="#b8bee6"/>
<rect x="116.16" y="539.8" width="6.62" height="6.7" fill="#d8dcf2"/>
<rect x="122.28" y="539.8" width="6.62" height="6.7" fill="#cbcfeb"/>
<rect x="128.39" y="539.8" width="12.73" height="6.7" fill="#e8eaf4"/>
<rect x="140.62" y="539.8" width="6.62" height="6.7" fill="#d8dcf2"/>
<rect x="146.74" y="539.8" width="6.62" height="6.7" fill="#f1eee0"/>
<rect x="152.86" y="539.8" width="6.62" height="6.7" fill="#d8dcf2"/>
<rect x="158.97" y="539.8" width="6.62" height="6.7" fill="#f0e4c2"/>
<rect x="165.09" y="539.8" width="6.62" height="6.7" fill="#b8bee6"/>
<rect x="171.2" y="539.8" width="6.62" height="6.7" fill="#a4acdf"/>
<rect x="177.32" y="539.8" width="104.47" height="6.7" fill="#cbcfeb"/>
<rect x="281.29" y="539.8" width="6.62" height="6.7" fill="#e8eaf4"/>
<rect x="287.41" y="539.8" width="6.62" height="6.7" fill="#b8bee6"/>
<rect x="293.52" y="539.8" width="6.62" height="6.7" fill="#d8dcf2"/>
<rect x="299.64" y="539.8" width="6.62" height="6.7" fill="#cbcfeb"/>
<rect x="305.76" y="539.8" width="6.62" height="6.7" fill="#b8bee6"/>
<rect x="311.87" y="539.8" width="6.62" height="6.7" fill="#f1eee0"/>
<rect x="317.99" y="539.8" width="6.12" height="6.7" fill="#e8eaf4"/>
<text x="51.7" y="545" font-size="7" text-anchor="end" fill="#111" stroke="#111" stroke-width="0.12">ROB</text>
<rect x="55" y="546" width="18.85" height="6.2" fill="#e8cc80"/>
<rect x="73.35" y="546" width="6.62" height="6.2" fill="#e8eaf4"/>
<rect x="79.46" y="546" width="6.62" height="6.2" fill="#ecd8a0"/>
<rect x="85.58" y="546" width="12.73" height="6.2" fill="#f1eee0"/>
<rect x="97.81" y="546" width="6.62" height="6.2" fill="#cbcfeb"/>
<rect x="103.93" y="546" width="6.62" height="6.2" fill="#f1eee0"/>
<rect x="110.04" y="546" width="6.62" height="6.2" fill="#d8dcf2"/>
<rect x="116.16" y="546" width="12.73" height="6.2" fill="#cbcfeb"/>
<rect x="128.39" y="546" width="6.62" height="6.2" fill="#d8dcf2"/>
<rect x="134.51" y="546" width="6.62" height="6.2" fill="#f1eee0"/>
<rect x="140.62" y="546" width="6.62" height="6.2" fill="#ecd8a0"/>
<rect x="146.74" y="546" width="6.62" height="6.2" fill="#f1eee0"/>
<rect x="152.86" y="546" width="6.62" height="6.2" fill="#d8dcf2"/>
<rect x="158.97" y="546" width="6.62" height="6.2" fill="#f0e4c2"/>
<rect x="165.09" y="546" width="12.73" height="6.2" fill="#b8bee6"/>
<rect x="177.32" y="546" width="104.47" height="6.2" fill="#cbcfeb"/>
<rect x="281.29" y="546" width="6.62" height="6.2" fill="#e8eaf4"/>
<rect x="287.41" y="546" width="12.73" height="6.2" fill="#b8bee6"/>
<rect x="299.64" y="546" width="6.62" height="6.2" fill="#cbcfeb"/>
<rect x="305.76" y="546" width="6.62" height="6.2" fill="#b8bee6"/>
<rect x="311.87" y="546" width="6.62" height="6.2" fill="#e8eaf4"/>
<rect x="317.99" y="546" width="6.12" height="6.2" fill="#f1eee0"/>
<text x="51.7" y="551.2" font-size="7" text-anchor="end" fill="#111" stroke="#111" stroke-width="0.12">STA</text>
<path d="M55 471.6V552.2M61.12 471.6V552.2M67.23 471.6V552.2M73.35 471.6V552.2M79.46 471.6V552.2M85.58 471.6V552.2M91.7 471.6V552.2M97.81 471.6V552.2M103.93 471.6V552.2M110.04 471.6V552.2M116.16 471.6V552.2M122.28 471.6V552.2M128.39 471.6V552.2M134.51 471.6V552.2M140.62 471.6V552.2M146.74 471.6V552.2M152.86 471.6V552.2M158.97 471.6V552.2M165.09 471.6V552.2M171.2 471.6V552.2M177.32 471.6V552.2M183.44 471.6V552.2M189.55 471.6V552.2M195.67 471.6V552.2M201.78 471.6V552.2M207.9 471.6V552.2M214.02 471.6V552.2M220.13 471.6V552.2M226.25 471.6V552.2M232.36 471.6V552.2M238.48 471.6V552.2M244.6 471.6V552.2M250.71 471.6V552.2M256.83 471.6V552.2M262.94 471.6V552.2M269.06 471.6V552.2M275.18 471.6V552.2M281.29 471.6V552.2M287.41 471.6V552.2M293.52 471.6V552.2M299.64 471.6V552.2M305.76 471.6V552.2M311.87 471.6V552.2M317.99 471.6V552.2M324.1 471.6V552.2M55 471.6H324.1M55 477.8H324.1M55 484H324.1M55 490.2H324.1M55 496.4H324.1M55 502.6H324.1M55 508.8H324.1M55 515H324.1M55 521.2H324.1M55 527.4H324.1M55 533.6H324.1M55 539.8H324.1M55 546H324.1M55 552.2H324.1" stroke="#7a7a8a" stroke-width="0.5" stroke-opacity="0.35" fill="none"/>
<text transform="translate(336.2,514.4) rotate(-90)" font-size="6.5" text-anchor="middle" fill="#111" stroke="#111" stroke-width="0.12">GS13 leaf</text>
<line x1="7.6" y1="217.5" x2="7.6" y2="424.3" stroke="#8c8c8c" stroke-width="0.7"/>
<line x1="7.6" y1="217.5" x2="14.2" y2="217.5" stroke="#8c8c8c" stroke-width="0.7"/>
<line x1="14.2" y1="181.4" x2="14.2" y2="260.6" stroke="#8c8c8c" stroke-width="0.7"/>
<line x1="14.2" y1="181.4" x2="23.7" y2="181.4" stroke="#8c8c8c" stroke-width="0.7"/>
<line x1="14.2" y1="260.6" x2="26.1" y2="260.6" stroke="#8c8c8c" stroke-width="0.7"/>
<line x1="23.7" y1="163" x2="23.7" y2="203.2" stroke="#8c8c8c" stroke-width="0.7"/>
<line x1="23.7" y1="163" x2="26.1" y2="163" stroke="#8c8c8c" stroke-width="0.7"/>
<line x1="26.1" y1="156.6" x2="26.1" y2="178" stroke="#8c8c8c" stroke-width="0.7"/>
<line x1="23.7" y1="203.2" x2="27.7" y2="203.2" stroke="#8c8c8c" stroke-width="0.7"/>
<line x1="27.7" y1="194.5" x2="27.7" y2="212" stroke="#8c8c8c" stroke-width="0.7"/>
<line x1="26.1" y1="254.2" x2="26.1" y2="288.2" stroke="#8c8c8c" stroke-width="0.7"/>
<line x1="26.1" y1="254.2" x2="28.5" y2="254.2" stroke="#8c8c8c" stroke-width="0.7"/>
<line x1="28.5" y1="240" x2="28.5" y2="272.4" stroke="#8c8c8c" stroke-width="0.7"/>
<line x1="26.1" y1="288.2" x2="29.5" y2="288.2" stroke="#8c8c8c" stroke-width="0.7"/>
<line x1="29.5" y1="285" x2="29.5" y2="294.5" stroke="#8c8c8c" stroke-width="0.7"/>
<line x1="7.6" y1="424.3" x2="12.3" y2="424.3" stroke="#8c8c8c" stroke-width="0.7"/>
<line x1="12.3" y1="339.5" x2="12.3" y2="466.2" stroke="#8c8c8c" stroke-width="0.7"/>
<line x1="12.3" y1="339.5" x2="21.3" y2="339.5" stroke="#8c8c8c" stroke-width="0.7"/>
<line x1="12.3" y1="466.2" x2="15" y2="466.2" stroke="#8c8c8c" stroke-width="0.7"/>
<line x1="15" y1="424.3" x2="15" y2="509.3" stroke="#8c8c8c" stroke-width="0.7"/>
<line x1="15" y1="424.3" x2="29.2" y2="424.3" stroke="#8c8c8c" stroke-width="0.7"/>
<line x1="15" y1="509.3" x2="29.5" y2="509.3" stroke="#8c8c8c" stroke-width="0.7"/>
<line x1="21.3" y1="304.7" x2="21.3" y2="345.8" stroke="#8c8c8c" stroke-width="0.7"/>
<line x1="21.3" y1="304.7" x2="29.2" y2="304.7" stroke="#8c8c8c" stroke-width="0.7"/>
<line x1="29.2" y1="303" x2="29.2" y2="309" stroke="#8c8c8c" stroke-width="0.7"/>
<line x1="21.3" y1="345.8" x2="25.3" y2="345.8" stroke="#8c8c8c" stroke-width="0.7"/>
<line x1="25.3" y1="316.6" x2="25.3" y2="351.4" stroke="#8c8c8c" stroke-width="0.7"/>
<line x1="25.3" y1="316.6" x2="29.2" y2="316.6" stroke="#8c8c8c" stroke-width="0.7"/>
<line x1="29.2" y1="312" x2="29.2" y2="322" stroke="#8c8c8c" stroke-width="0.7"/>
<line x1="25.3" y1="351.4" x2="28" y2="351.4" stroke="#8c8c8c" stroke-width="0.7"/>
<line x1="28" y1="328" x2="28" y2="378" stroke="#8c8c8c" stroke-width="0.7"/>
<line x1="29.2" y1="387" x2="29.2" y2="461.4" stroke="#8c8c8c" stroke-width="0.7"/>
<line x1="29.5" y1="472" x2="29.5" y2="546.4" stroke="#8c8c8c" stroke-width="0.7"/>
<line x1="28.2" y1="147.1" x2="31.2" y2="147.1" stroke="#a0a0a0" stroke-width="0.5"/>
<line x1="28.2" y1="153.3" x2="31.2" y2="153.3" stroke="#a0a0a0" stroke-width="0.5"/>
<line x1="28.2" y1="159.5" x2="31.2" y2="159.5" stroke="#a0a0a0" stroke-width="0.5"/>
<line x1="28.2" y1="165.7" x2="31.2" y2="165.7" stroke="#a0a0a0" stroke-width="0.5"/>
<line x1="28.2" y1="171.9" x2="31.2" y2="171.9" stroke="#a0a0a0" stroke-width="0.5"/>
<line x1="28.2" y1="178.1" x2="31.2" y2="178.1" stroke="#a0a0a0" stroke-width="0.5"/>
<line x1="28.2" y1="184.3" x2="31.2" y2="184.3" stroke="#a0a0a0" stroke-width="0.5"/>
<line x1="28.2" y1="190.5" x2="31.2" y2="190.5" stroke="#a0a0a0" stroke-width="0.5"/>
<line x1="28.2" y1="196.7" x2="31.2" y2="196.7" stroke="#a0a0a0" stroke-width="0.5"/>
<line x1="28.2" y1="202.9" x2="31.2" y2="202.9" stroke="#a0a0a0" stroke-width="0.5"/>
<line x1="28.2" y1="209.1" x2="31.2" y2="209.1" stroke="#a0a0a0" stroke-width="0.5"/>
<line x1="28.2" y1="215.3" x2="31.2" y2="215.3" stroke="#a0a0a0" stroke-width="0.5"/>
<line x1="28.2" y1="221.5" x2="31.2" y2="221.5" stroke="#a0a0a0" stroke-width="0.5"/>
<line x1="29.8" y1="232.1" x2="31.2" y2="232.1" stroke="#a0a0a0" stroke-width="0.5"/>
<line x1="29.8" y1="238.3" x2="31.2" y2="238.3" stroke="#a0a0a0" stroke-width="0.5"/>
<line x1="29.8" y1="244.5" x2="31.2" y2="244.5" stroke="#a0a0a0" stroke-width="0.5"/>
<line x1="29.8" y1="250.7" x2="31.2" y2="250.7" stroke="#a0a0a0" stroke-width="0.5"/>
<line x1="29.8" y1="256.9" x2="31.2" y2="256.9" stroke="#a0a0a0" stroke-width="0.5"/>
<line x1="29.8" y1="263.1" x2="31.2" y2="263.1" stroke="#a0a0a0" stroke-width="0.5"/>
<line x1="29.8" y1="269.3" x2="31.2" y2="269.3" stroke="#a0a0a0" stroke-width="0.5"/>
<line x1="29.8" y1="275.5" x2="31.2" y2="275.5" stroke="#a0a0a0" stroke-width="0.5"/>
<line x1="29.8" y1="281.7" x2="31.2" y2="281.7" stroke="#a0a0a0" stroke-width="0.5"/>
<line x1="29.8" y1="287.9" x2="31.2" y2="287.9" stroke="#a0a0a0" stroke-width="0.5"/>
<line x1="29.8" y1="294.1" x2="31.2" y2="294.1" stroke="#a0a0a0" stroke-width="0.5"/>
<line x1="29.8" y1="304.7" x2="31.2" y2="304.7" stroke="#a0a0a0" stroke-width="0.5"/>
<line x1="29.8" y1="310.9" x2="31.2" y2="310.9" stroke="#a0a0a0" stroke-width="0.5"/>
<line x1="29.8" y1="317.1" x2="31.2" y2="317.1" stroke="#a0a0a0" stroke-width="0.5"/>
<line x1="29.8" y1="323.3" x2="31.2" y2="323.3" stroke="#a0a0a0" stroke-width="0.5"/>
<line x1="29.8" y1="329.5" x2="31.2" y2="329.5" stroke="#a0a0a0" stroke-width="0.5"/>
<line x1="29.8" y1="335.7" x2="31.2" y2="335.7" stroke="#a0a0a0" stroke-width="0.5"/>
<line x1="29.8" y1="341.9" x2="31.2" y2="341.9" stroke="#a0a0a0" stroke-width="0.5"/>
<line x1="29.8" y1="348.1" x2="31.2" y2="348.1" stroke="#a0a0a0" stroke-width="0.5"/>
<line x1="29.8" y1="354.3" x2="31.2" y2="354.3" stroke="#a0a0a0" stroke-width="0.5"/>
<line x1="29.8" y1="360.5" x2="31.2" y2="360.5" stroke="#a0a0a0" stroke-width="0.5"/>
<line x1="29.8" y1="366.7" x2="31.2" y2="366.7" stroke="#a0a0a0" stroke-width="0.5"/>
<line x1="29.8" y1="372.9" x2="31.2" y2="372.9" stroke="#a0a0a0" stroke-width="0.5"/>
<line x1="29.8" y1="379.1" x2="31.2" y2="379.1" stroke="#a0a0a0" stroke-width="0.5"/>
<line x1="29.8" y1="389.7" x2="31.2" y2="389.7" stroke="#a0a0a0" stroke-width="0.5"/>
<line x1="29.8" y1="395.9" x2="31.2" y2="395.9" stroke="#a0a0a0" stroke-width="0.5"/>
<line x1="29.8" y1="402.1" x2="31.2" y2="402.1" stroke="#a0a0a0" stroke-width="0.5"/>
<line x1="29.8" y1="408.3" x2="31.2" y2="408.3" stroke="#a0a0a0" stroke-width="0.5"/>
<line x1="29.8" y1="414.5" x2="31.2" y2="414.5" stroke="#a0a0a0" stroke-width="0.5"/>
<line x1="29.8" y1="420.7" x2="31.2" y2="420.7" stroke="#a0a0a0" stroke-width="0.5"/>
<line x1="29.8" y1="426.9" x2="31.2" y2="426.9" stroke="#a0a0a0" stroke-width="0.5"/>
<line x1="29.8" y1="433.1" x2="31.2" y2="433.1" stroke="#a0a0a0" stroke-width="0.5"/>
<line x1="29.8" y1="439.3" x2="31.2" y2="439.3" stroke="#a0a0a0" stroke-width="0.5"/>
<line x1="29.8" y1="445.5" x2="31.2" y2="445.5" stroke="#a0a0a0" stroke-width="0.5"/>
<line x1="29.8" y1="451.7" x2="31.2" y2="451.7" stroke="#a0a0a0" stroke-width="0.5"/>
<line x1="29.8" y1="457.9" x2="31.2" y2="457.9" stroke="#a0a0a0" stroke-width="0.5"/>
<line x1="29.8" y1="464.1" x2="31.2" y2="464.1" stroke="#a0a0a0" stroke-width="0.5"/>
<line x1="29.8" y1="474.7" x2="31.2" y2="474.7" stroke="#a0a0a0" stroke-width="0.5"/>
<line x1="29.8" y1="480.9" x2="31.2" y2="480.9" stroke="#a0a0a0" stroke-width="0.5"/>
<line x1="29.8" y1="487.1" x2="31.2" y2="487.1" stroke="#a0a0a0" stroke-width="0.5"/>
<line x1="29.8" y1="493.3" x2="31.2" y2="493.3" stroke="#a0a0a0" stroke-width="0.5"/>
<line x1="29.8" y1="499.5" x2="31.2" y2="499.5" stroke="#a0a0a0" stroke-width="0.5"/>
<line x1="29.8" y1="505.7" x2="31.2" y2="505.7" stroke="#a0a0a0" stroke-width="0.5"/>
<line x1="29.8" y1="511.9" x2="31.2" y2="511.9" stroke="#a0a0a0" stroke-width="0.5"/>
<line x1="29.8" y1="518.1" x2="31.2" y2="518.1" stroke="#a0a0a0" stroke-width="0.5"/>
<line x1="29.8" y1="524.3" x2="31.2" y2="524.3" stroke="#a0a0a0" stroke-width="0.5"/>
<line x1="29.8" y1="530.5" x2="31.2" y2="530.5" stroke="#a0a0a0" stroke-width="0.5"/>
<line x1="29.8" y1="536.7" x2="31.2" y2="536.7" stroke="#a0a0a0" stroke-width="0.5"/>
<line x1="29.8" y1="542.9" x2="31.2" y2="542.9" stroke="#a0a0a0" stroke-width="0.5"/>
<line x1="29.8" y1="549.1" x2="31.2" y2="549.1" stroke="#a0a0a0" stroke-width="0.5"/>
<line x1="26.1" y1="150" x2="28.4" y2="150" stroke="#8c8c8c" stroke-width="0.6"/>
<line x1="28.4" y1="147" x2="28.4" y2="153" stroke="#8c8c8c" stroke-width="0.6"/>
<line x1="26.1" y1="172" x2="28.6" y2="172" stroke="#8c8c8c" stroke-width="0.6"/>
<line x1="28.6" y1="165" x2="28.6" y2="178" stroke="#8c8c8c" stroke-width="0.6"/>
<line x1="27.7" y1="212" x2="29.8" y2="212" stroke="#8c8c8c" stroke-width="0.6"/>
<line x1="29.8" y1="206" x2="29.8" y2="219" stroke="#8c8c8c" stroke-width="0.6"/>
<line x1="27.7" y1="194.5" x2="29.6" y2="194.5" stroke="#8c8c8c" stroke-width="0.6"/>
<line x1="29.6" y1="190" x2="29.6" y2="200" stroke="#8c8c8c" stroke-width="0.6"/>
<line x1="28.5" y1="244.8" x2="30" y2="244.8" stroke="#8c8c8c" stroke-width="0.6"/>
<line x1="30" y1="232" x2="30" y2="252" stroke="#8c8c8c" stroke-width="0.6"/>
<line x1="28.5" y1="262" x2="30" y2="262" stroke="#8c8c8c" stroke-width="0.6"/>
<line x1="30" y1="256" x2="30" y2="270" stroke="#8c8c8c" stroke-width="0.6"/>
<defs><linearGradient id="cbA" x1="0" x2="1" y1="0" y2="0"><stop offset="0" stop-color="#141464"/><stop offset="0.25" stop-color="#3a4ab8"/><stop offset="0.42" stop-color="#b8bee6"/><stop offset="0.5" stop-color="#f0f0f0"/><stop offset="0.62" stop-color="#f0dca0"/><stop offset="0.75" stop-color="#e8b850"/><stop offset="0.88" stop-color="#c86830"/><stop offset="1" stop-color="#a83020"/></linearGradient><linearGradient id="gTot" x1="0" x2="1"><stop offset="0" stop-color="#fff4e8"/><stop offset="0.45" stop-color="#fdb870"/><stop offset="1" stop-color="#e8401c"/></linearGradient><linearGradient id="gMean" x1="0" x2="1"><stop offset="0" stop-color="#f2ece4"/><stop offset="0.45" stop-color="#fcb060"/><stop offset="1" stop-color="#f84010"/></linearGradient><linearGradient id="gRow" x1="0" x2="1"><stop offset="0" stop-color="#f0f2f6"/><stop offset="0.5" stop-color="#7e98b8"/><stop offset="1" stop-color="#0e3860"/></linearGradient></defs>
<rect x="111.4" y="557.6" width="104.7" height="5.3" fill="url(#cbA)"/>
<text x="112.3" y="568.6" font-size="7" text-anchor="middle" fill="#111" stroke="#111" stroke-width="0.12">-4.00</text>
<text x="138.6" y="568.6" font-size="7" text-anchor="middle" fill="#111" stroke="#111" stroke-width="0.12">-2.00</text>
<text x="164.6" y="568.6" font-size="7" text-anchor="middle" fill="#111" stroke="#111" stroke-width="0.12">0.00</text>
<text x="191" y="568.6" font-size="7" text-anchor="middle" fill="#111" stroke="#111" stroke-width="0.12">2.02</text>
<text x="217.4" y="568.6" font-size="7" text-anchor="middle" fill="#111" stroke="#111" stroke-width="0.12">4.00</text>
<text x="357.6" y="10.8" font-size="10" text-anchor="start" fill="#111" stroke="#111" stroke-width="0.12">B</text>
<text x="377.6" y="32" font-size="6.6" text-anchor="end" fill="#111" stroke="#111" stroke-width="0.12">Total epitope</text>
<text x="377.6" y="40.2" font-size="6.6" text-anchor="end" fill="#111" stroke="#111" stroke-width="0.12">Sub-genome</text>
<rect x="379.4" y="43.8" width="14.21" height="6.12" fill="#6a88a8"/>
<rect x="393.11" y="43.8" width="7.36" height="6.12" fill="#aabcd2"/>
<rect x="399.96" y="43.8" width="14.21" height="6.12" fill="#e2e8f2"/>
<rect x="413.67" y="43.8" width="14.21" height="6.12" fill="#f4f4f4"/>
<rect x="427.38" y="43.8" width="7.36" height="6.12" fill="#6a88a8"/>
<rect x="434.24" y="43.8" width="7.36" height="6.12" fill="#e2e8f2"/>
<rect x="441.09" y="43.8" width="7.36" height="6.12" fill="#2f5b80"/>
<rect x="447.95" y="43.8" width="6.86" height="6.12" fill="#c8d4e4"/>
<rect x="379.4" y="49.42" width="14.21" height="6.12" fill="#2f5b80"/>
<rect x="393.11" y="49.42" width="7.36" height="6.12" fill="#6a88a8"/>
<rect x="399.96" y="49.42" width="7.36" height="6.12" fill="#8ca4c0"/>
<rect x="406.82" y="49.42" width="7.36" height="6.12" fill="#aabcd2"/>
<rect x="413.67" y="49.42" width="7.36" height="6.12" fill="#e2e8f2"/>
<rect x="420.53" y="49.42" width="7.36" height="6.12" fill="#f4f4f4"/>
<rect x="427.38" y="49.42" width="7.36" height="6.12" fill="#2f5b80"/>
<rect x="434.24" y="49.42" width="7.36" height="6.12" fill="#8ca4c0"/>
<rect x="441.09" y="49.42" width="7.36" height="6.12" fill="#0b3458"/>
<rect x="447.95" y="49.42" width="6.86" height="6.12" fill="#8ca4c0"/>
<rect x="379.4" y="55.05" width="7.36" height="6.12" fill="#2f5b80"/>
<rect x="386.25" y="55.05" width="7.36" height="6.12" fill="#4a6f92"/>
<rect x="393.11" y="55.05" width="7.36" height="6.12" fill="#8ca4c0"/>
<rect x="399.96" y="55.05" width="7.36" height="6.12" fill="#c8d4e4"/>
<rect x="406.82" y="55.05" width="7.36" height="6.12" fill="#aabcd2"/>
<rect x="413.67" y="55.05" width="14.21" height="6.12" fill="#e2e8f2"/>
<rect x="427.38" y="55.05" width="7.36" height="6.12" fill="#4a6f92"/>
<rect x="434.24" y="55.05" width="7.36" height="6.12" fill="#6a88a8"/>
<rect x="441.09" y="55.05" width="7.36" height="6.12" fill="#1c4a6e"/>
<rect x="447.95" y="55.05" width="6.86" height="6.12" fill="#aabcd2"/>
<rect x="379.4" y="60.67" width="7.36" height="6.12" fill="#8ca4c0"/>
<rect x="386.25" y="60.67" width="27.92" height="6.12" fill="#e2e8f2"/>
<rect x="413.67" y="60.67" width="14.21" height="6.12" fill="#f4f4f4"/>
<rect x="427.38" y="60.67" width="14.21" height="6.12" fill="#aabcd2"/>
<rect x="441.09" y="60.67" width="7.36" height="6.12" fill="#6a88a8"/>
<rect x="447.95" y="60.67" width="6.86" height="6.12" fill="#e2e8f2"/>
<rect x="379.4" y="66.3" width="34.78" height="6.12" fill="#4a6f92"/>
<rect x="413.67" y="66.3" width="7.36" height="6.12" fill="#8ca4c0"/>
<rect x="420.53" y="66.3" width="7.36" height="6.12" fill="#aabcd2"/>
<rect x="427.38" y="66.3" width="14.21" height="6.12" fill="#4a6f92"/>
<rect x="441.09" y="66.3" width="7.36" height="6.12" fill="#2f5b80"/>
<rect x="447.95" y="66.3" width="6.86" height="6.12" fill="#4a6f92"/>
<rect x="379.4" y="71.92" width="7.36" height="6.12" fill="#0b3458"/>
<rect x="386.25" y="71.92" width="7.36" height="6.12" fill="#4a6f92"/>
<rect x="393.11" y="71.92" width="7.36" height="6.12" fill="#2f5b80"/>
<rect x="399.96" y="71.92" width="14.21" height="6.12" fill="#8ca4c0"/>
<rect x="413.67" y="71.92" width="7.36" height="6.12" fill="#aabcd2"/>
<rect x="420.53" y="71.92" width="7.36" height="6.12" fill="#8ca4c0"/>
<rect x="427.38" y="71.92" width="7.36" height="6.12" fill="#1c4a6e"/>
<rect x="434.24" y="71.92" width="7.36" height="6.12" fill="#6a88a8"/>
<rect x="441.09" y="71.92" width="7.36" height="6.12" fill="#0b3458"/>
<rect x="447.95" y="71.92" width="6.86" height="6.12" fill="#4a6f92"/>
<rect x="379.4" y="77.55" width="14.21" height="6.12" fill="#2f5b80"/>
<rect x="393.11" y="77.55" width="7.36" height="6.12" fill="#8ca4c0"/>
<rect x="399.96" y="77.55" width="7.36" height="6.12" fill="#e2e8f2"/>
<rect x="406.82" y="77.55" width="7.36" height="6.12" fill="#6a88a8"/>
<rect x="413.67" y="77.55" width="14.21" height="6.12" fill="#f4f4f4"/>
<rect x="427.38" y="77.55" width="7.36" height="6.12" fill="#4a6f92"/>
<rect x="434.24" y="77.55" width="7.36" height="6.12" fill="#0b3458"/>
<rect x="441.09" y="77.55" width="7.36" height="6.12" fill="#1c4a6e"/>
<rect x="447.95" y="77.55" width="6.86" height="6.12" fill="#e2e8f2"/>
<rect x="379.4" y="83.17" width="7.36" height="6.12" fill="#1c4a6e"/>
<rect x="386.25" y="83.17" width="7.36" height="6.12" fill="#0b3458"/>
<rect x="393.11" y="83.17" width="7.36" height="6.12" fill="#1c4a6e"/>
<rect x="399.96" y="83.17" width="14.21" height="6.12" fill="#0b3458"/>
<rect x="413.67" y="83.17" width="7.36" height="6.12" fill="#2f5b80"/>
<rect x="420.53" y="83.17" width="7.36" height="6.12" fill="#4a6f92"/>
<rect x="427.38" y="83.17" width="14.21" height="6.12" fill="#1c4a6e"/>
<rect x="441.09" y="83.17" width="13.71" height="6.12" fill="#0b3458"/>
<rect x="379.4" y="88.8" width="7.36" height="6.12" fill="#1c4a6e"/>
<rect x="386.25" y="88.8" width="7.36" height="6.12" fill="#0b3458"/>
<rect x="393.11" y="88.8" width="7.36" height="6.12" fill="#1c4a6e"/>
<rect x="399.96" y="88.8" width="14.21" height="6.12" fill="#0b3458"/>
<rect x="413.67" y="88.8" width="7.36" height="6.12" fill="#2f5b80"/>
<rect x="420.53" y="88.8" width="7.36" height="6.12" fill="#4a6f92"/>
<rect x="427.38" y="88.8" width="14.21" height="6.12" fill="#1c4a6e"/>
<rect x="441.09" y="88.8" width="13.71" height="6.12" fill="#0b3458"/>
<rect x="379.4" y="94.42" width="21.07" height="6.12" fill="#1c4a6e"/>
<rect x="399.96" y="94.42" width="7.36" height="6.12" fill="#0b3458"/>
<rect x="406.82" y="94.42" width="47.98" height="6.12" fill="#1c4a6e"/>
<rect x="379.4" y="100.05" width="21.07" height="6.12" fill="#1c4a6e"/>
<rect x="399.96" y="100.05" width="7.36" height="6.12" fill="#0b3458"/>
<rect x="406.82" y="100.05" width="14.21" height="6.12" fill="#1c4a6e"/>
<rect x="420.53" y="100.05" width="7.36" height="6.12" fill="#2f5b80"/>
<rect x="427.38" y="100.05" width="27.42" height="6.12" fill="#1c4a6e"/>
<rect x="379.4" y="105.67" width="7.36" height="6.12" fill="#1c4a6e"/>
<rect x="386.25" y="105.67" width="7.36" height="6.12" fill="#0b3458"/>
<rect x="393.11" y="105.67" width="7.36" height="6.12" fill="#1c4a6e"/>
<rect x="399.96" y="105.67" width="7.36" height="6.12" fill="#0b3458"/>
<rect x="406.82" y="105.67" width="14.21" height="6.12" fill="#1c4a6e"/>
<rect x="420.53" y="105.67" width="7.36" height="6.12" fill="#2f5b80"/>
<rect x="427.38" y="105.67" width="7.36" height="6.12" fill="#0b3458"/>
<rect x="434.24" y="105.67" width="7.36" height="6.12" fill="#1c4a6e"/>
<rect x="441.09" y="105.67" width="13.71" height="6.12" fill="#0b3458"/>
<rect x="379.4" y="111.3" width="7.36" height="6.12" fill="#0b3458"/>
<rect x="386.25" y="111.3" width="7.36" height="6.12" fill="#1c4a6e"/>
<rect x="393.11" y="111.3" width="7.36" height="6.12" fill="#4a6f92"/>
<rect x="399.96" y="111.3" width="7.36" height="6.12" fill="#8ca4c0"/>
<rect x="406.82" y="111.3" width="7.36" height="6.12" fill="#0b3458"/>
<rect x="413.67" y="111.3" width="7.36" height="6.12" fill="#6a88a8"/>
<rect x="420.53" y="111.3" width="7.36" height="6.12" fill="#e2e8f2"/>
<rect x="427.38" y="111.3" width="7.36" height="6.12" fill="#1c4a6e"/>
<rect x="434.24" y="111.3" width="7.36" height="6.12" fill="#2f5b80"/>
<rect x="441.09" y="111.3" width="7.36" height="6.12" fill="#0b3458"/>
<rect x="447.95" y="111.3" width="6.86" height="6.12" fill="#6a88a8"/>
<rect x="379.4" y="116.92" width="7.36" height="6.12" fill="#2f5b80"/>
<rect x="386.25" y="116.92" width="7.36" height="6.12" fill="#1c4a6e"/>
<rect x="393.11" y="116.92" width="7.36" height="6.12" fill="#4a6f92"/>
<rect x="399.96" y="116.92" width="7.36" height="6.12" fill="#0b3458"/>
<rect x="406.82" y="116.92" width="7.36" height="6.12" fill="#2f5b80"/>
<rect x="413.67" y="116.92" width="7.36" height="6.12" fill="#6a88a8"/>
<rect x="420.53" y="116.92" width="7.36" height="6.12" fill="#c8d4e4"/>
<rect x="427.38" y="116.92" width="7.36" height="6.12" fill="#2f5b80"/>
<rect x="434.24" y="116.92" width="7.36" height="6.12" fill="#4a6f92"/>
<rect x="441.09" y="116.92" width="13.71" height="6.12" fill="#1c4a6e"/>
<rect x="379.4" y="122.55" width="7.36" height="6.12" fill="#6a88a8"/>
<rect x="386.25" y="122.55" width="7.36" height="6.12" fill="#e2e8f2"/>
<rect x="393.11" y="122.55" width="7.36" height="6.12" fill="#aabcd2"/>
<rect x="399.96" y="122.55" width="14.21" height="6.12" fill="#e2e8f2"/>
<rect x="413.67" y="122.55" width="14.21" height="6.12" fill="#f4f4f4"/>
<rect x="427.38" y="122.55" width="7.36" height="6.12" fill="#8ca4c0"/>
<rect x="434.24" y="122.55" width="7.36" height="6.12" fill="#e2e8f2"/>
<rect x="441.09" y="122.55" width="7.36" height="6.12" fill="#4a6f92"/>
<rect x="447.95" y="122.55" width="6.86" height="6.12" fill="#c8d4e4"/>
<rect x="379.4" y="128.18" width="7.36" height="6.12" fill="#c8d4e4"/>
<rect x="386.25" y="128.18" width="7.36" height="6.12" fill="#6a88a8"/>
<rect x="393.11" y="128.18" width="14.21" height="6.12" fill="#aabcd2"/>
<rect x="406.82" y="128.18" width="14.21" height="6.12" fill="#e2e8f2"/>
<rect x="420.53" y="128.18" width="7.36" height="6.12" fill="#f4f4f4"/>
<rect x="427.38" y="128.18" width="7.36" height="6.12" fill="#8ca4c0"/>
<rect x="434.24" y="128.18" width="7.36" height="6.12" fill="#e2e8f2"/>
<rect x="441.09" y="128.18" width="7.36" height="6.12" fill="#6a88a8"/>
<rect x="447.95" y="128.18" width="6.86" height="6.12" fill="#c8d4e4"/>
<rect x="379.4" y="133.8" width="7.36" height="6.12" fill="#c8d4e4"/>
<rect x="386.25" y="133.8" width="21.07" height="6.12" fill="#e2e8f2"/>
<rect x="406.82" y="133.8" width="7.36" height="6.12" fill="#c8d4e4"/>
<rect x="413.67" y="133.8" width="14.21" height="6.12" fill="#f4f4f4"/>
<rect x="427.38" y="133.8" width="14.21" height="6.12" fill="#e2e8f2"/>
<rect x="441.09" y="133.8" width="7.36" height="6.12" fill="#aabcd2"/>
<rect x="447.95" y="133.8" width="6.86" height="6.12" fill="#e2e8f2"/>
<rect x="379.4" y="139.43" width="75.41" height="6.12" fill="#f4f4f4"/>
<rect x="379.4" y="145.05" width="75.41" height="6.12" fill="#f4f4f4"/>
<rect x="379.4" y="150.68" width="75.41" height="6.12" fill="#f4f4f4"/>
<rect x="379.4" y="156.3" width="75.41" height="6.12" fill="#f4f4f4"/>
<rect x="379.4" y="161.93" width="75.41" height="6.12" fill="#f4f4f4"/>
<rect x="379.4" y="167.55" width="75.41" height="6.12" fill="#f4f4f4"/>
<rect x="379.4" y="173.18" width="75.41" height="5.62" fill="#f4f4f4"/>
<rect x="379.4" y="26" width="7.46" height="7.2" fill="#fdc890"/>
<text transform="translate(385.13,22) rotate(-90)" font-size="6.5" text-anchor="start" fill="#111" stroke="#111" stroke-width="0.12">ARI</text>
<rect x="386.25" y="26" width="7.46" height="7.2" fill="#fdd0a0"/>
<text transform="translate(391.98,22) rotate(-90)" font-size="6.5" text-anchor="start" fill="#111" stroke="#111" stroke-width="0.12">CAD</text>
<rect x="393.11" y="26" width="7.46" height="7.2" fill="#fdd0a0"/>
<text transform="translate(398.84,22) rotate(-90)" font-size="6.5" text-anchor="start" fill="#111" stroke="#111" stroke-width="0.12">CLA</text>
<rect x="399.96" y="26" width="7.46" height="7.2" fill="#fdd0a0"/>
<text transform="translate(405.69,22) rotate(-90)" font-size="6.5" text-anchor="start" fill="#111" stroke="#111" stroke-width="0.12">JAG</text>
<rect x="406.82" y="26" width="7.46" height="7.2" fill="#fdd4a8"/>
<text transform="translate(412.55,22) rotate(-90)" font-size="6.5" text-anchor="start" fill="#111" stroke="#111" stroke-width="0.12">JUL</text>
<rect x="413.67" y="26" width="7.46" height="7.2" fill="#fde8d4"/>
<text transform="translate(419.4,22) rotate(-90)" font-size="6.5" text-anchor="start" fill="#111" stroke="#111" stroke-width="0.12">LAC</text>
<rect x="420.53" y="26" width="7.46" height="7.2" fill="#ffffff"/>
<text transform="translate(426.26,22) rotate(-90)" font-size="6.5" text-anchor="start" fill="#111" stroke="#111" stroke-width="0.12">SYM</text>
<rect x="427.38" y="26" width="7.46" height="7.2" fill="#fdc890"/>
<text transform="translate(433.11,22) rotate(-90)" font-size="6.5" text-anchor="start" fill="#111" stroke="#111" stroke-width="0.12">NOR</text>
<rect x="434.24" y="26" width="7.46" height="7.2" fill="#fdcc98"/>
<text transform="translate(439.97,22) rotate(-90)" font-size="6.5" text-anchor="start" fill="#111" stroke="#111" stroke-width="0.12">PAR</text>
<rect x="441.09" y="26" width="7.46" height="7.2" fill="#fdb870"/>
<text transform="translate(446.82,22) rotate(-90)" font-size="6.5" text-anchor="start" fill="#111" stroke="#111" stroke-width="0.12">ROB</text>
<rect x="447.95" y="26" width="6.86" height="7.2" fill="#fdd0a0"/>
<text transform="translate(453.68,22) rotate(-90)" font-size="6.5" text-anchor="start" fill="#111" stroke="#111" stroke-width="0.12">WEE</text>
<rect x="379.4" y="34.1" width="75.41" height="7.6" fill="#a6cee3"/>
<text x="417.1" y="40.2" font-size="7" text-anchor="middle" fill="#223" stroke="#223" stroke-width="0.12">A</text>
<rect x="456.9" y="43.8" width="14.26" height="6.12" fill="#1c4a6e"/>
<rect x="470.66" y="43.8" width="7.38" height="6.12" fill="#4a6f92"/>
<rect x="477.54" y="43.8" width="7.38" height="6.12" fill="#2f5b80"/>
<rect x="484.42" y="43.8" width="7.38" height="6.12" fill="#1c4a6e"/>
<rect x="491.3" y="43.8" width="7.38" height="6.12" fill="#aabcd2"/>
<rect x="498.18" y="43.8" width="7.38" height="6.12" fill="#e2e8f2"/>
<rect x="505.06" y="43.8" width="7.38" height="6.12" fill="#1c4a6e"/>
<rect x="511.94" y="43.8" width="7.38" height="6.12" fill="#4a6f92"/>
<rect x="518.82" y="43.8" width="13.76" height="6.12" fill="#0b3458"/>
<rect x="456.9" y="49.42" width="7.38" height="6.12" fill="#2f5b80"/>
<rect x="463.78" y="49.42" width="7.38" height="6.12" fill="#0b3458"/>
<rect x="470.66" y="49.42" width="14.26" height="6.12" fill="#4a6f92"/>
<rect x="484.42" y="49.42" width="7.38" height="6.12" fill="#1c4a6e"/>
<rect x="491.3" y="49.42" width="7.38" height="6.12" fill="#8ca4c0"/>
<rect x="498.18" y="49.42" width="7.38" height="6.12" fill="#e2e8f2"/>
<rect x="505.06" y="49.42" width="14.26" height="6.12" fill="#4a6f92"/>
<rect x="518.82" y="49.42" width="7.38" height="6.12" fill="#0b3458"/>
<rect x="525.7" y="49.42" width="6.88" height="6.12" fill="#1c4a6e"/>
<rect x="456.9" y="55.05" width="7.38" height="6.12" fill="#2f5b80"/>
<rect x="463.78" y="55.05" width="14.26" height="6.12" fill="#6a88a8"/>
<rect x="477.54" y="55.05" width="7.38" height="6.12" fill="#4a6f92"/>
<rect x="484.42" y="55.05" width="7.38" height="6.12" fill="#6a88a8"/>
<rect x="491.3" y="55.05" width="14.26" height="6.12" fill="#e2e8f2"/>
<rect x="505.06" y="55.05" width="7.38" height="6.12" fill="#1c4a6e"/>
<rect x="511.94" y="55.05" width="7.38" height="6.12" fill="#6a88a8"/>
<rect x="518.82" y="55.05" width="7.38" height="6.12" fill="#2f5b80"/>
<rect x="525.7" y="55.05" width="6.88" height="6.12" fill="#1c4a6e"/>
<rect x="456.9" y="60.67" width="7.38" height="6.12" fill="#4a6f92"/>
<rect x="463.78" y="60.67" width="7.38" height="6.12" fill="#8ca4c0"/>
<rect x="470.66" y="60.67" width="7.38" height="6.12" fill="#aabcd2"/>
<rect x="477.54" y="60.67" width="14.26" height="6.12" fill="#6a88a8"/>
<rect x="491.3" y="60.67" width="14.26" height="6.12" fill="#e2e8f2"/>
<rect x="505.06" y="60.67" width="7.38" height="6.12" fill="#2f5b80"/>
<rect x="511.94" y="60.67" width="7.38" height="6.12" fill="#8ca4c0"/>
<rect x="518.82" y="60.67" width="7.38" height="6.12" fill="#4a6f92"/>
<rect x="525.7" y="60.67" width="6.88" height="6.12" fill="#2f5b80"/>
<rect x="456.9" y="66.3" width="34.9" height="6.12" fill="#0b3458"/>
<rect x="491.3" y="66.3" width="7.38" height="6.12" fill="#2f5b80"/>
<rect x="498.18" y="66.3" width="7.38" height="6.12" fill="#6a88a8"/>
<rect x="505.06" y="66.3" width="27.52" height="6.12" fill="#0b3458"/>
<rect x="456.9" y="71.92" width="7.38" height="6.12" fill="#f4f4f4"/>
<rect x="463.78" y="71.92" width="7.38" height="6.12" fill="#2f5b80"/>
<rect x="470.66" y="71.92" width="14.26" height="6.12" fill="#4a6f92"/>
<rect x="484.42" y="71.92" width="7.38" height="6.12" fill="#2f5b80"/>
<rect x="491.3" y="71.92" width="7.38" height="6.12" fill="#aabcd2"/>
<rect x="498.18" y="71.92" width="14.26" height="6.12" fill="#f4f4f4"/>
<rect x="511.94" y="71.92" width="7.38" height="6.12" fill="#6a88a8"/>
<rect x="518.82" y="71.92" width="7.38" height="6.12" fill="#2f5b80"/>
<rect x="525.7" y="71.92" width="6.88" height="6.12" fill="#4a6f92"/>
<rect x="456.9" y="77.55" width="7.38" height="6.12" fill="#f4f4f4"/>
<rect x="463.78" y="77.55" width="14.26" height="6.12" fill="#e2e8f2"/>
<rect x="477.54" y="77.55" width="7.38" height="6.12" fill="#f4f4f4"/>
<rect x="484.42" y="77.55" width="14.26" height="6.12" fill="#e2e8f2"/>
<rect x="498.18" y="77.55" width="7.38" height="6.12" fill="#aabcd2"/>
<rect x="505.06" y="77.55" width="7.38" height="6.12" fill="#f4f4f4"/>
<rect x="511.94" y="77.55" width="7.38" height="6.12" fill="#e2e8f2"/>
<rect x="518.82" y="77.55" width="7.38" height="6.12" fill="#f4f4f4"/>
<rect x="525.7" y="77.55" width="6.88" height="6.12" fill="#e2e8f2"/>
<rect x="456.9" y="83.17" width="75.68" height="6.12" fill="#f4f4f4"/>
<rect x="456.9" y="88.8" width="75.68" height="6.12" fill="#f4f4f4"/>
<rect x="456.9" y="94.42" width="75.68" height="6.12" fill="#f4f4f4"/>
<rect x="456.9" y="100.05" width="75.68" height="6.12" fill="#f4f4f4"/>
<rect x="456.9" y="105.67" width="75.68" height="6.12" fill="#f4f4f4"/>
<rect x="456.9" y="111.3" width="14.26" height="6.12" fill="#aabcd2"/>
<rect x="470.66" y="111.3" width="7.38" height="6.12" fill="#c8d4e4"/>
<rect x="477.54" y="111.3" width="7.38" height="6.12" fill="#aabcd2"/>
<rect x="484.42" y="111.3" width="21.14" height="6.12" fill="#e2e8f2"/>
<rect x="505.06" y="111.3" width="7.38" height="6.12" fill="#c8d4e4"/>
<rect x="511.94" y="111.3" width="7.38" height="6.12" fill="#e2e8f2"/>
<rect x="518.82" y="111.3" width="7.38" height="6.12" fill="#aabcd2"/>
<rect x="525.7" y="111.3" width="6.88" height="6.12" fill="#e2e8f2"/>
<rect x="456.9" y="116.92" width="7.38" height="6.12" fill="#c8d4e4"/>
<rect x="463.78" y="116.92" width="34.9" height="6.12" fill="#e2e8f2"/>
<rect x="498.18" y="116.92" width="7.38" height="6.12" fill="#f4f4f4"/>
<rect x="505.06" y="116.92" width="27.52" height="6.12" fill="#e2e8f2"/>
<rect x="456.9" y="122.55" width="7.38" height="6.12" fill="#1c4a6e"/>
<rect x="463.78" y="122.55" width="7.38" height="6.12" fill="#0b3458"/>
<rect x="470.66" y="122.55" width="14.26" height="6.12" fill="#2f5b80"/>
<rect x="484.42" y="122.55" width="7.38" height="6.12" fill="#1c4a6e"/>
<rect x="491.3" y="122.55" width="7.38" height="6.12" fill="#6a88a8"/>
<rect x="498.18" y="122.55" width="7.38" height="6.12" fill="#e2e8f2"/>
<rect x="505.06" y="122.55" width="14.26" height="6.12" fill="#2f5b80"/>
<rect x="518.82" y="122.55" width="7.38" height="6.12" fill="#0b3458"/>
<rect x="525.7" y="122.55" width="6.88" height="6.12" fill="#1c4a6e"/>
<rect x="456.9" y="128.18" width="7.38" height="6.12" fill="#1c4a6e"/>
<rect x="463.78" y="128.18" width="7.38" height="6.12" fill="#0b3458"/>
<rect x="470.66" y="128.18" width="14.26" height="6.12" fill="#2f5b80"/>
<rect x="484.42" y="128.18" width="7.38" height="6.12" fill="#1c4a6e"/>
<rect x="491.3" y="128.18" width="7.38" height="6.12" fill="#6a88a8"/>
<rect x="498.18" y="128.18" width="7.38" height="6.12" fill="#c8d4e4"/>
<rect x="505.06" y="128.18" width="7.38" height="6.12" fill="#1c4a6e"/>
<rect x="511.94" y="128.18" width="7.38" height="6.12" fill="#2f5b80"/>
<rect x="518.82" y="128.18" width="13.76" height="6.12" fill="#0b3458"/>
<rect x="456.9" y="133.8" width="7.38" height="6.12" fill="#2f5b80"/>
<rect x="463.78" y="133.8" width="7.38" height="6.12" fill="#6a88a8"/>
<rect x="470.66" y="133.8" width="7.38" height="6.12" fill="#8ca4c0"/>
<rect x="477.54" y="133.8" width="14.26" height="6.12" fill="#4a6f92"/>
<rect x="491.3" y="133.8" width="7.38" height="6.12" fill="#aabcd2"/>
<rect x="498.18" y="133.8" width="7.38" height="6.12" fill="#e2e8f2"/>
<rect x="505.06" y="133.8" width="7.38" height="6.12" fill="#2f5b80"/>
<rect x="511.94" y="133.8" width="7.38" height="6.12" fill="#6a88a8"/>
<rect x="518.82" y="133.8" width="7.38" height="6.12" fill="#2f5b80"/>
<rect x="525.7" y="133.8" width="6.88" height="6.12" fill="#4a6f92"/>
<rect x="456.9" y="139.43" width="7.38" height="6.12" fill="#e2e8f2"/>
<rect x="463.78" y="139.43" width="7.38" height="6.12" fill="#1c4a6e"/>
<rect x="470.66" y="139.43" width="21.14" height="6.12" fill="#2f5b80"/>
<rect x="491.3" y="139.43" width="7.38" height="6.12" fill="#6a88a8"/>
<rect x="498.18" y="139.43" width="14.26" height="6.12" fill="#e2e8f2"/>
<rect x="511.94" y="139.43" width="7.38" height="6.12" fill="#4a6f92"/>
<rect x="518.82" y="139.43" width="7.38" height="6.12" fill="#1c4a6e"/>
<rect x="525.7" y="139.43" width="6.88" height="6.12" fill="#2f5b80"/>
<rect x="456.9" y="145.05" width="7.38" height="6.12" fill="#0b3458"/>
<rect x="463.78" y="145.05" width="14.26" height="6.12" fill="#1c4a6e"/>
<rect x="477.54" y="145.05" width="7.38" height="6.12" fill="#4a6f92"/>
<rect x="484.42" y="145.05" width="7.38" height="6.12" fill="#1c4a6e"/>
<rect x="491.3" y="145.05" width="7.38" height="6.12" fill="#4a6f92"/>
<rect x="498.18" y="145.05" width="7.38" height="6.12" fill="#6a88a8"/>
<rect x="505.06" y="145.05" width="21.14" height="6.12" fill="#1c4a6e"/>
<rect x="525.7" y="145.05" width="6.88" height="6.12" fill="#0b3458"/>
<rect x="456.9" y="150.68" width="7.38" height="6.12" fill="#0b3458"/>
<rect x="463.78" y="150.68" width="14.26" height="6.12" fill="#1c4a6e"/>
<rect x="477.54" y="150.68" width="7.38" height="6.12" fill="#4a6f92"/>
<rect x="484.42" y="150.68" width="7.38" height="6.12" fill="#1c4a6e"/>
<rect x="491.3" y="150.68" width="7.38" height="6.12" fill="#4a6f92"/>
<rect x="498.18" y="150.68" width="7.38" height="6.12" fill="#6a88a8"/>
<rect x="505.06" y="150.68" width="21.14" height="6.12" fill="#1c4a6e"/>
<rect x="525.7" y="150.68" width="6.88" height="6.12" fill="#0b3458"/>
<rect x="456.9" y="156.3" width="21.14" height="6.12" fill="#1c4a6e"/>
<rect x="477.54" y="156.3" width="7.38" height="6.12" fill="#0b3458"/>
<rect x="484.42" y="156.3" width="7.38" height="6.12" fill="#1c4a6e"/>
<rect x="491.3" y="156.3" width="7.38" height="6.12" fill="#8ca4c0"/>
<rect x="498.18" y="156.3" width="7.38" height="6.12" fill="#6a88a8"/>
<rect x="505.06" y="156.3" width="7.38" height="6.12" fill="#0b3458"/>
<rect x="511.94" y="156.3" width="7.38" height="6.12" fill="#1c4a6e"/>
<rect x="518.82" y="156.3" width="7.38" height="6.12" fill="#0b3458"/>
<rect x="525.7" y="156.3" width="6.88" height="6.12" fill="#1c4a6e"/>
<rect x="456.9" y="161.93" width="14.26" height="6.12" fill="#1c4a6e"/>
<rect x="470.66" y="161.93" width="7.38" height="6.12" fill="#4a6f92"/>
<rect x="477.54" y="161.93" width="7.38" height="6.12" fill="#2f5b80"/>
<rect x="484.42" y="161.93" width="7.38" height="6.12" fill="#1c4a6e"/>
<rect x="491.3" y="161.93" width="7.38" height="6.12" fill="#6a88a8"/>
<rect x="498.18" y="161.93" width="7.38" height="6.12" fill="#8ca4c0"/>
<rect x="505.06" y="161.93" width="21.14" height="6.12" fill="#1c4a6e"/>
<rect x="525.7" y="161.93" width="6.88" height="6.12" fill="#2f5b80"/>
<rect x="456.9" y="167.55" width="75.68" height="6.12" fill="#f4f4f4"/>
<rect x="456.9" y="173.18" width="7.38" height="5.62" fill="#e2e8f2"/>
<rect x="463.78" y="173.18" width="7.38" height="5.62" fill="#f4f4f4"/>
<rect x="470.66" y="173.18" width="7.38" height="5.62" fill="#6a88a8"/>
<rect x="477.54" y="173.18" width="7.38" height="5.62" fill="#f4f4f4"/>
<rect x="484.42" y="173.18" width="7.38" height="5.62" fill="#e2e8f2"/>
<rect x="491.3" y="173.18" width="7.38" height="5.62" fill="#0b3458"/>
<rect x="498.18" y="173.18" width="7.38" height="5.62" fill="#c8d4e4"/>
<rect x="505.06" y="173.18" width="14.26" height="5.62" fill="#e2e8f2"/>
<rect x="518.82" y="173.18" width="7.38" height="5.62" fill="#f4f4f4"/>
<rect x="525.7" y="173.18" width="6.88" height="5.62" fill="#aabcd2"/>
<rect x="456.9" y="26" width="7.48" height="7.2" fill="#fdd0a0"/>
<text transform="translate(462.64,22) rotate(-90)" font-size="6.5" text-anchor="start" fill="#111" stroke="#111" stroke-width="0.12">ARI</text>
<rect x="463.78" y="26" width="7.48" height="7.2" fill="#fdcc98"/>
<text transform="translate(469.52,22) rotate(-90)" font-size="6.5" text-anchor="start" fill="#111" stroke="#111" stroke-width="0.12">CAD</text>
<rect x="470.66" y="26" width="7.48" height="7.2" fill="#fdc890"/>
<text transform="translate(476.4,22) rotate(-90)" font-size="6.5" text-anchor="start" fill="#111" stroke="#111" stroke-width="0.12">CLA</text>
<rect x="477.54" y="26" width="7.48" height="7.2" fill="#fdc890"/>
<text transform="translate(483.28,22) rotate(-90)" font-size="6.5" text-anchor="start" fill="#111" stroke="#111" stroke-width="0.12">JAG</text>
<rect x="484.42" y="26" width="7.48" height="7.2" fill="#fdc888"/>
<text transform="translate(490.16,22) rotate(-90)" font-size="6.5" text-anchor="start" fill="#111" stroke="#111" stroke-width="0.12">JUL</text>
<rect x="491.3" y="26" width="7.48" height="7.2" fill="#fdd8b0"/>
<text transform="translate(497.04,22) rotate(-90)" font-size="6.5" text-anchor="start" fill="#111" stroke="#111" stroke-width="0.12">LAC</text>
<rect x="498.18" y="26" width="7.48" height="7.2" fill="#ffffff"/>
<text transform="translate(503.92,22) rotate(-90)" font-size="6.5" text-anchor="start" fill="#111" stroke="#111" stroke-width="0.12">SYM</text>
<rect x="505.06" y="26" width="7.48" height="7.2" fill="#fdd0a0"/>
<text transform="translate(510.8,22) rotate(-90)" font-size="6.5" text-anchor="start" fill="#111" stroke="#111" stroke-width="0.12">NOR</text>
<rect x="511.94" y="26" width="7.48" height="7.2" fill="#fdc890"/>
<text transform="translate(517.68,22) rotate(-90)" font-size="6.5" text-anchor="start" fill="#111" stroke="#111" stroke-width="0.12">PAR</text>
<rect x="518.82" y="26" width="7.48" height="7.2" fill="#fdc488"/>
<text transform="translate(524.56,22) rotate(-90)" font-size="6.5" text-anchor="start" fill="#111" stroke="#111" stroke-width="0.12">ROB</text>
<rect x="525.7" y="26" width="6.88" height="7.2" fill="#fdc080"/>
<text transform="translate(531.44,22) rotate(-90)" font-size="6.5" text-anchor="start" fill="#111" stroke="#111" stroke-width="0.12">WEE</text>
<rect x="456.9" y="34.1" width="75.68" height="7.6" fill="#3d7cb8"/>
<text x="494.74" y="40.2" font-size="7" text-anchor="middle" fill="#223" stroke="#223" stroke-width="0.12">B</text>
<rect x="534.4" y="43.8" width="7.34" height="6.12" fill="#4a6f92"/>
<rect x="541.24" y="43.8" width="7.34" height="6.12" fill="#1c4a6e"/>
<rect x="548.07" y="43.8" width="7.34" height="6.12" fill="#c8d4e4"/>
<rect x="554.91" y="43.8" width="7.34" height="6.12" fill="#4a6f92"/>
<rect x="561.74" y="43.8" width="7.34" height="6.12" fill="#2f5b80"/>
<rect x="568.58" y="43.8" width="7.34" height="6.12" fill="#e2e8f2"/>
<rect x="575.42" y="43.8" width="7.34" height="6.12" fill="#f4f4f4"/>
<rect x="582.25" y="43.8" width="7.34" height="6.12" fill="#4a6f92"/>
<rect x="589.09" y="43.8" width="7.34" height="6.12" fill="#aabcd2"/>
<rect x="595.92" y="43.8" width="7.34" height="6.12" fill="#1c4a6e"/>
<rect x="602.76" y="43.8" width="6.84" height="6.12" fill="#4a6f92"/>
<rect x="534.4" y="49.42" width="7.34" height="6.12" fill="#1c4a6e"/>
<rect x="541.24" y="49.42" width="7.34" height="6.12" fill="#0b3458"/>
<rect x="548.07" y="49.42" width="7.34" height="6.12" fill="#6a88a8"/>
<rect x="554.91" y="49.42" width="7.34" height="6.12" fill="#1c4a6e"/>
<rect x="561.74" y="49.42" width="7.34" height="6.12" fill="#2f5b80"/>
<rect x="568.58" y="49.42" width="14.17" height="6.12" fill="#e2e8f2"/>
<rect x="582.25" y="49.42" width="7.34" height="6.12" fill="#2f5b80"/>
<rect x="589.09" y="49.42" width="7.34" height="6.12" fill="#4a6f92"/>
<rect x="595.92" y="49.42" width="7.34" height="6.12" fill="#0b3458"/>
<rect x="602.76" y="49.42" width="6.84" height="6.12" fill="#2f5b80"/>
<rect x="534.4" y="55.05" width="7.34" height="6.12" fill="#2f5b80"/>
<rect x="541.24" y="55.05" width="7.34" height="6.12" fill="#0b3458"/>
<rect x="548.07" y="55.05" width="7.34" height="6.12" fill="#c8d4e4"/>
<rect x="554.91" y="55.05" width="7.34" height="6.12" fill="#2f5b80"/>
<rect x="561.74" y="55.05" width="7.34" height="6.12" fill="#1c4a6e"/>
<rect x="568.58" y="55.05" width="7.34" height="6.12" fill="#e2e8f2"/>
<rect x="575.42" y="55.05" width="7.34" height="6.12" fill="#f4f4f4"/>
<rect x="582.25" y="55.05" width="7.34" height="6.12" fill="#2f5b80"/>
<rect x="589.09" y="55.05" width="7.34" height="6.12" fill="#aabcd2"/>
<rect x="595.92" y="55.05" width="7.34" height="6.12" fill="#0b3458"/>
<rect x="602.76" y="55.05" width="6.84" height="6.12" fill="#2f5b80"/>
<rect x="534.4" y="60.67" width="7.34" height="6.12" fill="#4a6f92"/>
<rect x="541.24" y="60.67" width="7.34" height="6.12" fill="#0b3458"/>
<rect x="548.07" y="60.67" width="7.34" height="6.12" fill="#e2e8f2"/>
<rect x="554.91" y="60.67" width="7.34" height="6.12" fill="#4a6f92"/>
<rect x="561.74" y="60.67" width="7.34" height="6.12" fill="#2f5b80"/>
<rect x="568.58" y="60.67" width="7.34" height="6.12" fill="#e2e8f2"/>
<rect x="575.42" y="60.67" width="7.34" height="6.12" fill="#f4f4f4"/>
<rect x="582.25" y="60.67" width="7.34" height="6.12" fill="#4a6f92"/>
<rect x="589.09" y="60.67" width="7.34" height="6.12" fill="#e2e8f2"/>
<rect x="595.92" y="60.67" width="7.34" height="6.12" fill="#0b3458"/>
<rect x="602.76" y="60.67" width="6.84" height="6.12" fill="#4a6f92"/>
<rect x="534.4" y="66.3" width="7.34" height="6.12" fill="#f4f4f4"/>
<rect x="541.24" y="66.3" width="14.17" height="6.12" fill="#8ca4c0"/>
<rect x="554.91" y="66.3" width="7.34" height="6.12" fill="#aabcd2"/>
<rect x="561.74" y="66.3" width="7.34" height="6.12" fill="#f4f4f4"/>
<rect x="568.58" y="66.3" width="7.34" height="6.12" fill="#e2e8f2"/>
<rect x="575.42" y="66.3" width="7.34" height="6.12" fill="#f4f4f4"/>
<rect x="582.25" y="66.3" width="7.34" height="6.12" fill="#8ca4c0"/>
<rect x="589.09" y="66.3" width="7.34" height="6.12" fill="#f4f4f4"/>
<rect x="595.92" y="66.3" width="13.67" height="6.12" fill="#8ca4c0"/>
<rect x="534.4" y="71.92" width="7.34" height="6.12" fill="#0b3458"/>
<rect x="541.24" y="71.92" width="14.17" height="6.12" fill="#1c4a6e"/>
<rect x="554.91" y="71.92" width="14.17" height="6.12" fill="#0b3458"/>
<rect x="568.58" y="71.92" width="7.34" height="6.12" fill="#8ca4c0"/>
<rect x="575.42" y="71.92" width="7.34" height="6.12" fill="#aabcd2"/>
<rect x="582.25" y="71.92" width="7.34" height="6.12" fill="#0b3458"/>
<rect x="589.09" y="71.92" width="7.34" height="6.12" fill="#1c4a6e"/>
<rect x="595.92" y="71.92" width="7.34" height="6.12" fill="#0b3458"/>
<rect x="602.76" y="71.92" width="6.84" height="6.12" fill="#2f5b80"/>
<rect x="534.4" y="77.55" width="7.34" height="6.12" fill="#8ca4c0"/>
<rect x="541.24" y="77.55" width="7.34" height="6.12" fill="#2f5b80"/>
<rect x="548.07" y="77.55" width="7.34" height="6.12" fill="#e2e8f2"/>
<rect x="554.91" y="77.55" width="14.17" height="6.12" fill="#8ca4c0"/>
<rect x="568.58" y="77.55" width="14.17" height="6.12" fill="#f4f4f4"/>
<rect x="582.25" y="77.55" width="14.17" height="6.12" fill="#aabcd2"/>
<rect x="595.92" y="77.55" width="7.34" height="6.12" fill="#2f5b80"/>
<rect x="602.76" y="77.55" width="6.84" height="6.12" fill="#6a88a8"/>
<rect x="534.4" y="83.17" width="7.34" height="6.12" fill="#8ca4c0"/>
<rect x="541.24" y="83.17" width="68.36" height="6.12" fill="#4a6f92"/>
<rect x="534.4" y="88.8" width="7.34" height="6.12" fill="#6a88a8"/>
<rect x="541.24" y="88.8" width="7.34" height="6.12" fill="#1c4a6e"/>
<rect x="548.07" y="88.8" width="7.34" height="6.12" fill="#4a6f92"/>
<rect x="554.91" y="88.8" width="7.34" height="6.12" fill="#1c4a6e"/>
<rect x="561.74" y="88.8" width="14.17" height="6.12" fill="#2f5b80"/>
<rect x="575.42" y="88.8" width="7.34" height="6.12" fill="#4a6f92"/>
<rect x="582.25" y="88.8" width="7.34" height="6.12" fill="#2f5b80"/>
<rect x="589.09" y="88.8" width="7.34" height="6.12" fill="#1c4a6e"/>
<rect x="595.92" y="88.8" width="7.34" height="6.12" fill="#4a6f92"/>
<rect x="602.76" y="88.8" width="6.84" height="6.12" fill="#2f5b80"/>
<rect x="534.4" y="94.42" width="7.34" height="6.12" fill="#8ca4c0"/>
<rect x="541.24" y="94.42" width="7.34" height="6.12" fill="#1c4a6e"/>
<rect x="548.07" y="94.42" width="7.34" height="6.12" fill="#6a88a8"/>
<rect x="554.91" y="94.42" width="14.17" height="6.12" fill="#2f5b80"/>
<rect x="568.58" y="94.42" width="21.01" height="6.12" fill="#4a6f92"/>
<rect x="589.09" y="94.42" width="7.34" height="6.12" fill="#1c4a6e"/>
<rect x="595.92" y="94.42" width="13.67" height="6.12" fill="#4a6f92"/>
<rect x="534.4" y="100.05" width="7.34" height="6.12" fill="#aabcd2"/>
<rect x="541.24" y="100.05" width="7.34" height="6.12" fill="#4a6f92"/>
<rect x="548.07" y="100.05" width="7.34" height="6.12" fill="#aabcd2"/>
<rect x="554.91" y="100.05" width="27.84" height="6.12" fill="#6a88a8"/>
<rect x="582.25" y="100.05" width="7.34" height="6.12" fill="#c8d4e4"/>
<rect x="589.09" y="100.05" width="7.34" height="6.12" fill="#4a6f92"/>
<rect x="595.92" y="100.05" width="7.34" height="6.12" fill="#8ca4c0"/>
<rect x="602.76" y="100.05" width="6.84" height="6.12" fill="#c8d4e4"/>
<rect x="534.4" y="105.67" width="7.34" height="6.12" fill="#aabcd2"/>
<rect x="541.24" y="105.67" width="7.34" height="6.12" fill="#4a6f92"/>
<rect x="548.07" y="105.67" width="7.34" height="6.12" fill="#8ca4c0"/>
<rect x="554.91" y="105.67" width="27.84" height="6.12" fill="#6a88a8"/>
<rect x="582.25" y="105.67" width="7.34" height="6.12" fill="#8ca4c0"/>
<rect x="589.09" y="105.67" width="7.34" height="6.12" fill="#4a6f92"/>
<rect x="595.92" y="105.67" width="7.34" height="6.12" fill="#8ca4c0"/>
<rect x="602.76" y="105.67" width="6.84" height="6.12" fill="#6a88a8"/>
<rect x="534.4" y="111.3" width="7.34" height="6.12" fill="#f4f4f4"/>
<rect x="541.24" y="111.3" width="7.34" height="6.12" fill="#c8d4e4"/>
<rect x="548.07" y="111.3" width="41.52" height="6.12" fill="#e2e8f2"/>
<rect x="589.09" y="111.3" width="7.34" height="6.12" fill="#aabcd2"/>
<rect x="595.92" y="111.3" width="7.34" height="6.12" fill="#c8d4e4"/>
<rect x="602.76" y="111.3" width="6.84" height="6.12" fill="#e2e8f2"/>
<rect x="534.4" y="116.92" width="75.2" height="6.12" fill="#e2e8f2"/>
<rect x="534.4" y="122.55" width="7.34" height="6.12" fill="#1c4a6e"/>
<rect x="541.24" y="122.55" width="7.34" height="6.12" fill="#0b3458"/>
<rect x="548.07" y="122.55" width="7.34" height="6.12" fill="#4a6f92"/>
<rect x="554.91" y="122.55" width="7.34" height="6.12" fill="#1c4a6e"/>
<rect x="561.74" y="122.55" width="7.34" height="6.12" fill="#2f5b80"/>
<rect x="568.58" y="122.55" width="7.34" height="6.12" fill="#c8d4e4"/>
<rect x="575.42" y="122.55" width="7.34" height="6.12" fill="#e2e8f2"/>
<rect x="582.25" y="122.55" width="7.34" height="6.12" fill="#2f5b80"/>
<rect x="589.09" y="122.55" width="7.34" height="6.12" fill="#4a6f92"/>
<rect x="595.92" y="122.55" width="7.34" height="6.12" fill="#0b3458"/>
<rect x="602.76" y="122.55" width="6.84" height="6.12" fill="#2f5b80"/>
<rect x="534.4" y="128.18" width="7.34" height="6.12" fill="#2f5b80"/>
<rect x="541.24" y="128.18" width="7.34" height="6.12" fill="#1c4a6e"/>
<rect x="548.07" y="128.18" width="7.34" height="6.12" fill="#6a88a8"/>
<rect x="554.91" y="128.18" width="14.17" height="6.12" fill="#2f5b80"/>
<rect x="568.58" y="128.18" width="7.34" height="6.12" fill="#c8d4e4"/>
<rect x="575.42" y="128.18" width="7.34" height="6.12" fill="#e2e8f2"/>
<rect x="582.25" y="128.18" width="7.34" height="6.12" fill="#2f5b80"/>
<rect x="589.09" y="128.18" width="7.34" height="6.12" fill="#4a6f92"/>
<rect x="595.92" y="128.18" width="7.34" height="6.12" fill="#1c4a6e"/>
<rect x="602.76" y="128.18" width="6.84" height="6.12" fill="#4a6f92"/>
<rect x="534.4" y="133.8" width="7.34" height="6.12" fill="#2f5b80"/>
<rect x="541.24" y="133.8" width="14.17" height="6.12" fill="#4a6f92"/>
<rect x="554.91" y="133.8" width="7.34" height="6.12" fill="#0b3458"/>
<rect x="561.74" y="133.8" width="7.34" height="6.12" fill="#4a6f92"/>
<rect x="568.58" y="133.8" width="14.17" height="6.12" fill="#e2e8f2"/>
<rect x="582.25" y="133.8" width="7.34" height="6.12" fill="#1c4a6e"/>
<rect x="589.09" y="133.8" width="7.34" height="6.12" fill="#6a88a8"/>
<rect x="595.92" y="133.8" width="7.34" height="6.12" fill="#1c4a6e"/>
<rect x="602.76" y="133.8" width="6.84" height="6.12" fill="#2f5b80"/>
<rect x="534.4" y="139.43" width="14.17" height="6.12" fill="#0b3458"/>
<rect x="548.07" y="139.43" width="7.34" height="6.12" fill="#1c4a6e"/>
<rect x="554.91" y="139.43" width="14.17" height="6.12" fill="#0b3458"/>
<rect x="568.58" y="139.43" width="7.34" height="6.12" fill="#6a88a8"/>
<rect x="575.42" y="139.43" width="7.34" height="6.12" fill="#8ca4c0"/>
<rect x="582.25" y="139.43" width="7.34" height="6.12" fill="#0b3458"/>
<rect x="589.09" y="139.43" width="7.34" height="6.12" fill="#1c4a6e"/>
<rect x="595.92" y="139.43" width="7.34" height="6.12" fill="#0b3458"/>
<rect x="602.76" y="139.43" width="6.84" height="6.12" fill="#1c4a6e"/>
<rect x="534.4" y="145.05" width="14.17" height="6.12" fill="#4a6f92"/>
<rect x="548.07" y="145.05" width="7.34" height="6.12" fill="#2f5b80"/>
<rect x="554.91" y="145.05" width="7.34" height="6.12" fill="#6a88a8"/>
<rect x="561.74" y="145.05" width="7.34" height="6.12" fill="#aabcd2"/>
<rect x="568.58" y="145.05" width="21.01" height="6.12" fill="#8ca4c0"/>
<rect x="589.09" y="145.05" width="7.34" height="6.12" fill="#2f5b80"/>
<rect x="595.92" y="145.05" width="13.67" height="6.12" fill="#4a6f92"/>
<rect x="534.4" y="150.68" width="21.01" height="6.12" fill="#4a6f92"/>
<rect x="554.91" y="150.68" width="7.34" height="6.12" fill="#6a88a8"/>
<rect x="561.74" y="150.68" width="7.34" height="6.12" fill="#aabcd2"/>
<rect x="568.58" y="150.68" width="21.01" height="6.12" fill="#8ca4c0"/>
<rect x="589.09" y="150.68" width="7.34" height="6.12" fill="#2f5b80"/>
<rect x="595.92" y="150.68" width="13.67" height="6.12" fill="#4a6f92"/>
<rect x="534.4" y="156.3" width="14.17" height="6.12" fill="#4a6f92"/>
<rect x="548.07" y="156.3" width="14.17" height="6.12" fill="#6a88a8"/>
<rect x="561.74" y="156.3" width="7.34" height="6.12" fill="#4a6f92"/>
<rect x="568.58" y="156.3" width="7.34" height="6.12" fill="#8ca4c0"/>
<rect x="575.42" y="156.3" width="7.34" height="6.12" fill="#c8d4e4"/>
<rect x="582.25" y="156.3" width="7.34" height="6.12" fill="#4a6f92"/>
<rect x="589.09" y="156.3" width="7.34" height="6.12" fill="#6a88a8"/>
<rect x="595.92" y="156.3" width="7.34" height="6.12" fill="#4a6f92"/>
<rect x="602.76" y="156.3" width="6.84" height="6.12" fill="#aabcd2"/>
<rect x="534.4" y="161.93" width="14.17" height="6.12" fill="#0b3458"/>
<rect x="548.07" y="161.93" width="7.34" height="6.12" fill="#1c4a6e"/>
<rect x="554.91" y="161.93" width="7.34" height="6.12" fill="#2f5b80"/>
<rect x="561.74" y="161.93" width="7.34" height="6.12" fill="#1c4a6e"/>
<rect x="568.58" y="161.93" width="7.34" height="6.12" fill="#6a88a8"/>
<rect x="575.42" y="161.93" width="7.34" height="6.12" fill="#4a6f92"/>
<rect x="582.25" y="161.93" width="14.17" height="6.12" fill="#0b3458"/>
<rect x="595.92" y="161.93" width="13.67" height="6.12" fill="#1c4a6e"/>
<rect x="534.4" y="167.55" width="21.01" height="6.12" fill="#1c4a6e"/>
<rect x="554.91" y="167.55" width="7.34" height="6.12" fill="#4a6f92"/>
<rect x="561.74" y="167.55" width="7.34" height="6.12" fill="#aabcd2"/>
<rect x="568.58" y="167.55" width="14.17" height="6.12" fill="#6a88a8"/>
<rect x="582.25" y="167.55" width="7.34" height="6.12" fill="#4a6f92"/>
<rect x="589.09" y="167.55" width="7.34" height="6.12" fill="#0b3458"/>
<rect x="595.92" y="167.55" width="13.67" height="6.12" fill="#1c4a6e"/>
<rect x="534.4" y="173.18" width="21.01" height="5.62" fill="#2f5b80"/>
<rect x="554.91" y="173.18" width="7.34" height="5.62" fill="#8ca4c0"/>
<rect x="561.74" y="173.18" width="7.34" height="5.62" fill="#2f5b80"/>
<rect x="568.58" y="173.18" width="7.34" height="5.62" fill="#1c4a6e"/>
<rect x="575.42" y="173.18" width="7.34" height="5.62" fill="#0b3458"/>
<rect x="582.25" y="173.18" width="7.34" height="5.62" fill="#4a6f92"/>
<rect x="589.09" y="173.18" width="7.34" height="5.62" fill="#1c4a6e"/>
<rect x="595.92" y="173.18" width="7.34" height="5.62" fill="#2f5b80"/>
<rect x="602.76" y="173.18" width="6.84" height="5.62" fill="#1c4a6e"/>
<rect x="534.4" y="26" width="7.44" height="7.2" fill="#f06a30"/>
<text transform="translate(540.12,22) rotate(-90)" font-size="6.5" text-anchor="start" fill="#111" stroke="#111" stroke-width="0.12">ARI</text>
<rect x="541.24" y="26" width="7.44" height="7.2" fill="#e83820"/>
<text transform="translate(546.95,22) rotate(-90)" font-size="6.5" text-anchor="start" fill="#111" stroke="#111" stroke-width="0.12">CAD</text>
<rect x="548.07" y="26" width="7.44" height="7.2" fill="#f05a30"/>
<text transform="translate(553.79,22) rotate(-90)" font-size="6.5" text-anchor="start" fill="#111" stroke="#111" stroke-width="0.12">CLA</text>
<rect x="554.91" y="26" width="7.44" height="7.2" fill="#ee4a28"/>
<text transform="translate(560.63,22) rotate(-90)" font-size="6.5" text-anchor="start" fill="#111" stroke="#111" stroke-width="0.12">JAG</text>
<rect x="561.74" y="26" width="7.44" height="7.2" fill="#f06838"/>
<text transform="translate(567.46,22) rotate(-90)" font-size="6.5" text-anchor="start" fill="#111" stroke="#111" stroke-width="0.12">JUL</text>
<rect x="568.58" y="26" width="7.44" height="7.2" fill="#f88a40"/>
<text transform="translate(574.3,22) rotate(-90)" font-size="6.5" text-anchor="start" fill="#111" stroke="#111" stroke-width="0.12">LAC</text>
<rect x="575.42" y="26" width="7.44" height="7.2" fill="#fdaa50"/>
<text transform="translate(581.13,22) rotate(-90)" font-size="6.5" text-anchor="start" fill="#111" stroke="#111" stroke-width="0.12">SYM</text>
<rect x="582.25" y="26" width="7.44" height="7.2" fill="#f05830"/>
<text transform="translate(587.97,22) rotate(-90)" font-size="6.5" text-anchor="start" fill="#111" stroke="#111" stroke-width="0.12">NOR</text>
<rect x="589.09" y="26" width="7.44" height="7.2" fill="#f05030"/>
<text transform="translate(594.81,22) rotate(-90)" font-size="6.5" text-anchor="start" fill="#111" stroke="#111" stroke-width="0.12">PAR</text>
<rect x="595.92" y="26" width="7.44" height="7.2" fill="#e84020"/>
<text transform="translate(601.64,22) rotate(-90)" font-size="6.5" text-anchor="start" fill="#111" stroke="#111" stroke-width="0.12">ROB</text>
<rect x="602.76" y="26" width="6.84" height="7.2" fill="#f06030"/>
<text transform="translate(608.48,22) rotate(-90)" font-size="6.5" text-anchor="start" fill="#111" stroke="#111" stroke-width="0.12">WEE</text>
<rect x="534.4" y="34.1" width="75.2" height="7.6" fill="#2e4c94"/>
<text x="572" y="40.2" font-size="7" text-anchor="middle" fill="#223" stroke="#223" stroke-width="0.12">D</text>
<rect x="612.7" y="43.8" width="6.6" height="6.22" fill="#f84010"/>
<rect x="622.7" y="43.8" width="7.1" height="6.22" fill="#fde0a0"/>
<rect x="633.7" y="43.8" width="7.1" height="6.22" fill="#f0f080"/>
<text x="644.2" y="48.81" font-size="6.1" text-anchor="start" fill="#111" stroke="#111" stroke-width="0.12">QQPQQPFPQ</text>
<rect x="612.7" y="49.42" width="6.6" height="6.22" fill="#f86020"/>
<rect x="622.7" y="49.42" width="7.1" height="6.22" fill="#6080e0"/>
<rect x="633.7" y="49.42" width="7.1" height="6.22" fill="#2040b0"/>
<text x="644.2" y="54.44" font-size="6.1" text-anchor="start" fill="#111" stroke="#111" stroke-width="0.12">IIQPQQPAQ</text>
<rect x="612.7" y="55.05" width="6.6" height="6.22" fill="#f86020"/>
<rect x="622.7" y="55.05" width="7.1" height="6.22" fill="#6080e0"/>
<rect x="633.7" y="55.05" width="7.1" height="6.22" fill="#f0f080"/>
<text x="644.2" y="60.06" font-size="6.1" text-anchor="start" fill="#111" stroke="#111" stroke-width="0.12">FPQQPQQPF</text>
<rect x="612.7" y="60.67" width="6.6" height="6.22" fill="#f86020"/>
<rect x="622.7" y="60.67" width="7.1" height="6.22" fill="#6080e0"/>
<rect x="633.7" y="60.67" width="7.1" height="6.22" fill="#f0f080"/>
<text x="644.2" y="65.69" font-size="6.1" text-anchor="start" fill="#111" stroke="#111" stroke-width="0.12">QQPFPQQPQ</text>
<rect x="612.7" y="66.3" width="6.6" height="6.22" fill="#fca050"/>
<rect x="622.7" y="66.3" width="7.1" height="6.22" fill="#6080e0"/>
<rect x="633.7" y="66.3" width="7.1" height="6.22" fill="#2040b0"/>
<text x="644.2" y="71.31" font-size="6.1" text-anchor="start" fill="#111" stroke="#111" stroke-width="0.12">PQPQQQFPQ</text>
<rect x="612.7" y="71.92" width="6.6" height="6.22" fill="#fc8a40"/>
<rect x="622.7" y="71.92" width="7.1" height="6.22" fill="#6080e0"/>
<rect x="633.7" y="71.92" width="7.1" height="6.22" fill="#f0f080"/>
<text x="644.2" y="76.94" font-size="6.1" text-anchor="start" fill="#111" stroke="#111" stroke-width="0.12">PFPQQPQQPF</text>
<rect x="612.7" y="77.55" width="6.6" height="6.22" fill="#fc8a40"/>
<rect x="622.7" y="77.55" width="7.1" height="6.22" fill="#6080e0"/>
<rect x="633.7" y="77.55" width="7.1" height="6.22" fill="#f0f080"/>
<text x="644.2" y="82.56" font-size="6.1" text-anchor="start" fill="#111" stroke="#111" stroke-width="0.12">LQPQQPFPQ</text>
<rect x="612.7" y="83.17" width="6.6" height="6.22" fill="#fcc888"/>
<rect x="622.7" y="83.17" width="7.1" height="6.22" fill="#6080e0"/>
<rect x="633.7" y="83.17" width="7.1" height="6.22" fill="#e80000"/>
<text x="644.2" y="88.19" font-size="6.1" text-anchor="start" fill="#111" stroke="#111" stroke-width="0.12">PYPQPQLPY</text>
<rect x="612.7" y="88.8" width="6.6" height="6.22" fill="#fcc888"/>
<rect x="622.7" y="88.8" width="7.1" height="6.22" fill="#6080e0"/>
<rect x="633.7" y="88.8" width="7.1" height="6.22" fill="#e80000"/>
<text x="644.2" y="93.81" font-size="6.1" text-anchor="start" fill="#111" stroke="#111" stroke-width="0.12">PQPQLPYPQ</text>
<rect x="612.7" y="94.42" width="6.6" height="6.22" fill="#fcc888"/>
<rect x="622.7" y="94.42" width="7.1" height="6.22" fill="#b0c8f8"/>
<rect x="633.7" y="94.42" width="7.1" height="6.22" fill="#e80000"/>
<text x="644.2" y="99.44" font-size="6.1" text-anchor="start" fill="#111" stroke="#111" stroke-width="0.12">QYSQPQQPI</text>
<rect x="612.7" y="100.05" width="6.6" height="6.22" fill="#fcc888"/>
<rect x="622.7" y="100.05" width="7.1" height="6.22" fill="#6080e0"/>
<rect x="633.7" y="100.05" width="7.1" height="6.22" fill="#e80000"/>
<text x="644.2" y="105.06" font-size="6.1" text-anchor="start" fill="#111" stroke="#111" stroke-width="0.12">FRPQQPYPQ</text>
<rect x="612.7" y="105.67" width="6.6" height="6.22" fill="#fcc888"/>
<rect x="622.7" y="105.67" width="7.1" height="6.22" fill="#6080e0"/>
<rect x="633.7" y="105.67" width="7.1" height="6.22" fill="#e80000"/>
<text x="644.2" y="110.69" font-size="6.1" text-anchor="start" fill="#111" stroke="#111" stroke-width="0.12">PFPQPQLPY</text>
<rect x="612.7" y="111.3" width="6.6" height="6.22" fill="#fa7a30"/>
<rect x="622.7" y="111.3" width="7.1" height="6.22" fill="#f8b820"/>
<rect x="633.7" y="111.3" width="7.1" height="6.22" fill="#e80000"/>
<text x="644.2" y="116.31" font-size="6.1" text-anchor="start" fill="#111" stroke="#111" stroke-width="0.12">QGSFQPSQQ</text>
<rect x="612.7" y="116.92" width="6.6" height="6.22" fill="#fa6020"/>
<rect x="622.7" y="116.92" width="7.1" height="6.22" fill="#b0c8f8"/>
<rect x="633.7" y="116.92" width="7.1" height="6.22" fill="#e80000"/>
<text x="644.2" y="121.94" font-size="6.1" text-anchor="start" fill="#111" stroke="#111" stroke-width="0.12">QGSVQPQQL</text>
<rect x="612.7" y="122.55" width="6.6" height="6.22" fill="#fa6020"/>
<rect x="622.7" y="122.55" width="7.1" height="6.22" fill="#6080e0"/>
<rect x="633.7" y="122.55" width="7.1" height="6.22" fill="#2040b0"/>
<text x="644.2" y="127.56" font-size="6.1" text-anchor="start" fill="#111" stroke="#111" stroke-width="0.12">IQPQQPAQL</text>
<rect x="612.7" y="128.18" width="6.6" height="6.22" fill="#fa6020"/>
<rect x="622.7" y="128.18" width="7.1" height="6.22" fill="#f8b820"/>
<rect x="633.7" y="128.18" width="7.1" height="6.22" fill="#2040b0"/>
<text x="644.2" y="133.19" font-size="6.1" text-anchor="start" fill="#111" stroke="#111" stroke-width="0.12">PQQSFPQQQ</text>
<rect x="612.7" y="133.8" width="6.6" height="6.22" fill="#fa6020"/>
<rect x="622.7" y="133.8" width="7.1" height="6.22" fill="#6080e0"/>
<rect x="633.7" y="133.8" width="7.1" height="6.22" fill="#a0c0f8"/>
<text x="644.2" y="138.81" font-size="6.1" text-anchor="start" fill="#111" stroke="#111" stroke-width="0.12">FSQQQQSPF</text>
<rect x="612.7" y="139.43" width="6.6" height="6.22" fill="#fcd090"/>
<rect x="622.7" y="139.43" width="7.1" height="6.22" fill="#6080e0"/>
<rect x="633.7" y="139.43" width="7.1" height="6.22" fill="#2040b0"/>
<text x="644.2" y="144.44" font-size="6.1" text-anchor="start" fill="#111" stroke="#111" stroke-width="0.12">PQPQQPFCQ</text>
<rect x="612.7" y="145.05" width="6.6" height="6.22" fill="#fcd090"/>
<rect x="622.7" y="145.05" width="7.1" height="6.22" fill="#6080e0"/>
<rect x="633.7" y="145.05" width="7.1" height="6.22" fill="#2040b0"/>
<text x="644.2" y="150.06" font-size="6.1" text-anchor="start" fill="#111" stroke="#111" stroke-width="0.12">YPQQPQQPF</text>
<rect x="612.7" y="150.68" width="6.6" height="6.22" fill="#fcd090"/>
<rect x="622.7" y="150.68" width="7.1" height="6.22" fill="#6080e0"/>
<rect x="633.7" y="150.68" width="7.1" height="6.22" fill="#2040b0"/>
<text x="644.2" y="155.69" font-size="6.1" text-anchor="start" fill="#111" stroke="#111" stroke-width="0.12">QQPQQPYPQ</text>
<rect x="612.7" y="156.3" width="6.6" height="6.22" fill="#fcd090"/>
<rect x="622.7" y="156.3" width="7.1" height="6.22" fill="#6080e0"/>
<rect x="633.7" y="156.3" width="7.1" height="6.22" fill="#a0c0f8"/>
<text x="644.2" y="161.31" font-size="6.1" text-anchor="start" fill="#111" stroke="#111" stroke-width="0.12">FSQQQQQPL</text>
<rect x="612.7" y="161.93" width="6.6" height="6.22" fill="#fcb860"/>
<rect x="622.7" y="161.93" width="7.1" height="6.22" fill="#fde0a0"/>
<rect x="633.7" y="161.93" width="7.1" height="6.22" fill="#0a4a50"/>
<text x="644.2" y="166.94" font-size="6.1" text-anchor="start" fill="#111" stroke="#111" stroke-width="0.12">QGYYPTSPQ</text>
<rect x="612.7" y="167.55" width="6.6" height="6.22" fill="#eaeaea"/>
<rect x="622.7" y="167.55" width="7.1" height="6.22" fill="#6080e0"/>
<rect x="633.7" y="167.55" width="7.1" height="6.22" fill="#2040b0"/>
<text x="644.2" y="172.56" font-size="6.1" text-anchor="start" fill="#111" stroke="#111" stroke-width="0.12">SQPQQQFPQ</text>
<rect x="612.7" y="173.18" width="6.6" height="5.62" fill="#f5e0c8"/>
<rect x="622.7" y="173.18" width="7.1" height="5.62" fill="#6080e0"/>
<rect x="633.7" y="173.18" width="7.1" height="5.62" fill="#f0e020"/>
<text x="644.2" y="178.19" font-size="6.1" text-anchor="start" fill="#111" stroke="#111" stroke-width="0.12">QIPQQPQQF</text>
<text transform="translate(618.6,41) rotate(-90)" font-size="6.3" text-anchor="start" fill="#111" stroke="#111" stroke-width="0.12">Epitope mean</text>
<text transform="translate(628.6,41) rotate(-90)" font-size="6.3" text-anchor="start" fill="#111" stroke="#111" stroke-width="0.12">MHC-II allele</text>
<text transform="translate(639.7,41) rotate(-90)" font-size="6.3" text-anchor="start" fill="#111" stroke="#111" stroke-width="0.12">Specificity</text>
<text x="648.4" y="38.8" font-size="6.7" text-anchor="start" fill="#111" stroke="#111" stroke-width="0.12">Epitope</text>
<text x="375" y="189.5" font-size="6.8" text-anchor="start" fill="#111" stroke="#111" stroke-width="0.12">Specificity</text>
<rect x="411.3" y="184.8" width="4.8" height="4.8" fill="#e80000"/>
<text x="418.8" y="189.5" font-size="6.8" text-anchor="start" fill="#111" stroke="#111" stroke-width="0.12">Alpha gliadin</text>
<rect x="463.3" y="184.8" width="4.8" height="4.8" fill="#2040b0"/>
<text x="469.3" y="189.5" font-size="6.8" text-anchor="start" fill="#111" stroke="#111" stroke-width="0.12">Gamma gliadin</text>
<rect x="520" y="184.8" width="4.8" height="4.8" fill="#f0f080"/>
<text x="524.7" y="189.5" font-size="6.8" text-anchor="start" fill="#111" stroke="#111" stroke-width="0.12">Gamma/Omega gliadin</text>
<rect x="598.8" y="184.8" width="4.8" height="4.8" fill="#0a4a50"/>
<text x="604.3" y="189.5" font-size="6.8" text-anchor="start" fill="#111" stroke="#111" stroke-width="0.12">HMW glutenin</text>
<rect x="411.3" y="193.6" width="4.8" height="4.8" fill="#a0c0f8"/>
<text x="418.8" y="198.3" font-size="6.8" text-anchor="start" fill="#111" stroke="#111" stroke-width="0.12">LMW glutenin</text>
<rect x="471.2" y="193.6" width="4.8" height="4.8" fill="#f0e020"/>
<text x="478.5" y="198.3" font-size="6.8" text-anchor="start" fill="#111" stroke="#111" stroke-width="0.12">Omega gliadin</text>
<text x="375" y="213.3" font-size="6.8" text-anchor="start" fill="#111" stroke="#111" stroke-width="0.12">MHC-II allele</text>
<rect x="419.4" y="208.6" width="4.8" height="4.8" fill="#b0c8f8"/>
<text x="424.6" y="213.3" font-size="6.8" text-anchor="start" fill="#111" stroke="#111" stroke-width="0.12">DQ2.2</text>
<rect x="448.8" y="208.6" width="4.8" height="4.8" fill="#6080e0"/>
<text x="454.3" y="213.3" font-size="6.8" text-anchor="start" fill="#111" stroke="#111" stroke-width="0.12">DQ2.5</text>
<rect x="477.8" y="208.6" width="4.8" height="4.8" fill="#fde0a0"/>
<text x="482.7" y="213.3" font-size="6.8" text-anchor="start" fill="#111" stroke="#111" stroke-width="0.12">DQ8</text>
<rect x="501.4" y="208.6" width="4.8" height="4.8" fill="#f8b820"/>
<text x="506.3" y="213.3" font-size="6.8" text-anchor="start" fill="#111" stroke="#111" stroke-width="0.12">DQ8.5</text>
<text x="536.5" y="213.3" font-size="6.8" text-anchor="start" fill="#111" stroke="#111" stroke-width="0.12">Sub-genome</text>
<rect x="577.8" y="208.6" width="4.8" height="4.8" fill="#a6cee3"/>
<text x="583.3" y="213.3" font-size="6.8" text-anchor="start" fill="#111" stroke="#111" stroke-width="0.12">A</text>
<rect x="592.8" y="208.6" width="4.8" height="4.8" fill="#3d7cb8"/>
<text x="598" y="213.3" font-size="6.8" text-anchor="start" fill="#111" stroke="#111" stroke-width="0.12">B</text>
<rect x="607.3" y="208.6" width="4.8" height="4.8" fill="#2e4c94"/>
<text x="612" y="213.3" font-size="6.8" text-anchor="start" fill="#111" stroke="#111" stroke-width="0.12">D</text>
<text x="418.8" y="227.5" font-size="6.8" text-anchor="middle" fill="#111" stroke="#111" stroke-width="0.12">Total epitope</text>
<rect x="379.4" y="229.6" width="77.6" height="4.8" fill="url(#gTot)"/>
<text x="378.8" y="240.6" font-size="6.8" text-anchor="start" fill="#111" stroke="#111" stroke-width="0.12">203.50</text>
<text x="424.5" y="240.6" font-size="6.8" text-anchor="middle" fill="#111" stroke="#111" stroke-width="0.12">268.78</text>
<text x="470.6" y="240.6" font-size="6.8" text-anchor="end" fill="#111" stroke="#111" stroke-width="0.12">334.11</text>
<text x="518.4" y="227.5" font-size="6.8" text-anchor="middle" fill="#111" stroke="#111" stroke-width="0.12">Epitope mean</text>
<rect x="480.6" y="229.6" width="75.6" height="4.8" fill="url(#gMean)"/>
<text x="477" y="240.6" font-size="6.8" text-anchor="start" fill="#111" stroke="#111" stroke-width="0.12">3.61</text>
<text x="518" y="240.6" font-size="6.8" text-anchor="middle" fill="#111" stroke="#111" stroke-width="0.12">9.55</text>
<text x="566.7" y="240.6" font-size="6.8" text-anchor="end" fill="#111" stroke="#111" stroke-width="0.12">15.50</text>
<text x="626.3" y="227.5" font-size="6.8" text-anchor="middle" fill="#111" stroke="#111" stroke-width="0.12">Row min-max</text>
<rect x="587.2" y="229.6" width="76.2" height="4.8" fill="url(#gRow)"/>
<text x="583" y="242.3" font-size="6.8" text-anchor="start" fill="#111" stroke="#111" stroke-width="0.12">min</text>
<text x="669.2" y="242.3" font-size="6.8" text-anchor="end" fill="#111" stroke="#111" stroke-width="0.12">max</text>
<text x="356.8" y="249.3" font-size="10" text-anchor="start" fill="#111" stroke="#111" stroke-width="0.12">C</text>
<rect x="376.1" y="262.5" width="40.65" height="10.4" fill="#fffbd0"/>
<rect x="416.7" y="262.5" width="36.95" height="10.4" fill="#fdf296"/>
<rect x="453.6" y="262.5" width="33.05" height="10.4" fill="#d4eba0"/>
<rect x="486.6" y="262.5" width="26.65" height="10.4" fill="#b9e0b0"/>
<rect x="513.2" y="262.5" width="19.85" height="10.4" fill="#a2d6a6"/>
<rect x="533" y="262.5" width="14.05" height="10.4" fill="#98cc98"/>
<rect x="547" y="262.5" width="10.85" height="10.4" fill="#86b8a0"/>
<rect x="557.8" y="262.5" width="10.05" height="10.4" fill="#72aab8"/>
<rect x="567.8" y="262.5" width="7.25" height="10.4" fill="#6898a8"/>
<rect x="575" y="262.5" width="7.05" height="10.4" fill="#5a8590"/>
<rect x="582" y="262.5" width="6.65" height="10.4" fill="#4a6e78"/>
<text x="375.4" y="269.6" font-size="7" text-anchor="end" fill="#444" stroke="#444" stroke-width="0.12">ARI</text>
<rect x="376.1" y="275.36" width="43.05" height="10.4" fill="#fffbd0"/>
<rect x="419.1" y="275.36" width="37.85" height="10.4" fill="#fdf296"/>
<rect x="456.9" y="275.36" width="39.65" height="10.4" fill="#d4eba0"/>
<rect x="496.5" y="275.36" width="28.05" height="10.4" fill="#b9e0b0"/>
<rect x="524.5" y="275.36" width="19.55" height="10.4" fill="#a2d6a6"/>
<rect x="544" y="275.36" width="15.05" height="10.4" fill="#98cc98"/>
<rect x="559" y="275.36" width="12.85" height="10.4" fill="#86b8a0"/>
<rect x="571.8" y="275.36" width="10.25" height="10.4" fill="#72aab8"/>
<rect x="582" y="275.36" width="8.05" height="10.4" fill="#6898a8"/>
<rect x="590" y="275.36" width="6.85" height="10.4" fill="#5a8590"/>
<rect x="596.8" y="275.36" width="7.05" height="10.4" fill="#4a6e78"/>
<text x="375.4" y="282.46" font-size="7" text-anchor="end" fill="#444" stroke="#444" stroke-width="0.12">CAD</text>
<rect x="376.1" y="288.22" width="47.25" height="10.4" fill="#fffbd0"/>
<rect x="423.3" y="288.22" width="42.95" height="10.4" fill="#fdf296"/>
<rect x="466.2" y="288.22" width="46.85" height="10.4" fill="#d4eba0"/>
<rect x="513" y="288.22" width="28.25" height="10.4" fill="#b9e0b0"/>
<rect x="541.2" y="288.22" width="21.05" height="10.4" fill="#a2d6a6"/>
<rect x="562.2" y="288.22" width="15.95" height="10.4" fill="#98cc98"/>
<rect x="578.1" y="288.22" width="14.35" height="10.4" fill="#86b8a0"/>
<rect x="592.4" y="288.22" width="11.45" height="10.4" fill="#72aab8"/>
<rect x="603.8" y="288.22" width="9.35" height="10.4" fill="#6898a8"/>
<rect x="613.1" y="288.22" width="7.15" height="10.4" fill="#5a8590"/>
<rect x="620.2" y="288.22" width="7.05" height="10.4" fill="#4a6e78"/>
<text x="375.4" y="295.32" font-size="7" text-anchor="end" fill="#444" stroke="#444" stroke-width="0.12">CLA</text>
<rect x="376.1" y="301.08" width="45.55" height="10.4" fill="#fffbd0"/>
<rect x="421.6" y="301.08" width="43.25" height="10.4" fill="#fdf296"/>
<rect x="464.8" y="301.08" width="32.25" height="10.4" fill="#d4eba0"/>
<rect x="497" y="301.08" width="31.75" height="10.4" fill="#b9e0b0"/>
<rect x="528.7" y="301.08" width="17.25" height="10.4" fill="#a2d6a6"/>
<rect x="545.9" y="301.08" width="14.25" height="10.4" fill="#98cc98"/>
<rect x="560.1" y="301.08" width="12.95" height="10.4" fill="#86b8a0"/>
<rect x="573" y="301.08" width="10.55" height="10.4" fill="#72aab8"/>
<rect x="583.5" y="301.08" width="10.05" height="10.4" fill="#6898a8"/>
<rect x="593.5" y="301.08" width="6.85" height="10.4" fill="#5a8590"/>
<rect x="600.3" y="301.08" width="6.55" height="10.4" fill="#4a6e78"/>
<text x="375.4" y="308.18" font-size="7" text-anchor="end" fill="#444" stroke="#444" stroke-width="0.12">JAG</text>
<rect x="376.1" y="313.94" width="44.65" height="10.4" fill="#fffbd0"/>
<rect x="420.7" y="313.94" width="37.45" height="10.4" fill="#fdf296"/>
<rect x="458.1" y="313.94" width="44.15" height="10.4" fill="#d4eba0"/>
<rect x="502.2" y="313.94" width="24.95" height="10.4" fill="#b9e0b0"/>
<rect x="527.1" y="313.94" width="18.85" height="10.4" fill="#a2d6a6"/>
<rect x="545.9" y="313.94" width="16.15" height="10.4" fill="#98cc98"/>
<rect x="562" y="313.94" width="12.85" height="10.4" fill="#86b8a0"/>
<rect x="574.8" y="313.94" width="11.25" height="10.4" fill="#72aab8"/>
<rect x="586" y="313.94" width="9.95" height="10.4" fill="#6898a8"/>
<rect x="595.9" y="313.94" width="6.35" height="10.4" fill="#5a8590"/>
<rect x="602.2" y="313.94" width="6.35" height="10.4" fill="#4a6e78"/>
<text x="375.4" y="321.04" font-size="7" text-anchor="end" fill="#444" stroke="#444" stroke-width="0.12">JUL</text>
<rect x="376.1" y="326.8" width="52.85" height="10.4" fill="#fffbd0"/>
<rect x="428.9" y="326.8" width="47.85" height="10.4" fill="#fdf296"/>
<rect x="476.7" y="326.8" width="57.55" height="10.4" fill="#d4eba0"/>
<rect x="534.2" y="326.8" width="28.75" height="10.4" fill="#b9e0b0"/>
<rect x="562.9" y="326.8" width="22.75" height="10.4" fill="#a2d6a6"/>
<rect x="585.6" y="326.8" width="17.85" height="10.4" fill="#98cc98"/>
<rect x="603.4" y="326.8" width="17.95" height="10.4" fill="#86b8a0"/>
<rect x="621.3" y="326.8" width="12.35" height="10.4" fill="#72aab8"/>
<rect x="633.6" y="326.8" width="6.55" height="10.4" fill="#6898a8"/>
<rect x="640.1" y="326.8" width="8.85" height="10.4" fill="#5a8590"/>
<rect x="648.9" y="326.8" width="7.65" height="10.4" fill="#4a6e78"/>
<text x="375.4" y="333.9" font-size="7" text-anchor="end" fill="#444" stroke="#444" stroke-width="0.12">LAC</text>
<rect x="376.1" y="339.66" width="55.85" height="10.4" fill="#fffbd0"/>
<rect x="431.9" y="339.66" width="48.15" height="10.4" fill="#fdf296"/>
<rect x="480" y="339.66" width="56.15" height="10.4" fill="#d4eba0"/>
<rect x="536.1" y="339.66" width="29.45" height="10.4" fill="#b9e0b0"/>
<rect x="565.5" y="339.66" width="23.55" height="10.4" fill="#a2d6a6"/>
<rect x="589" y="339.66" width="18.45" height="10.4" fill="#98cc98"/>
<rect x="607.4" y="339.66" width="17.45" height="10.4" fill="#86b8a0"/>
<rect x="624.8" y="339.66" width="13.35" height="10.4" fill="#72aab8"/>
<rect x="638.1" y="339.66" width="9.85" height="10.4" fill="#6898a8"/>
<rect x="647.9" y="339.66" width="8.25" height="10.4" fill="#5a8590"/>
<rect x="656.1" y="339.66" width="7.55" height="10.4" fill="#4a6e78"/>
<text x="375.4" y="346.76" font-size="7" text-anchor="end" fill="#444" stroke="#444" stroke-width="0.12">SYM</text>
<rect x="376.1" y="352.52" width="42.05" height="10.4" fill="#fffbd0"/>
<rect x="418.1" y="352.52" width="40.75" height="10.4" fill="#fdf296"/>
<rect x="458.8" y="352.52" width="26.95" height="10.4" fill="#d4eba0"/>
<rect x="485.7" y="352.52" width="31.15" height="10.4" fill="#b9e0b0"/>
<rect x="516.8" y="352.52" width="16.55" height="10.4" fill="#a2d6a6"/>
<rect x="533.3" y="352.52" width="13.75" height="10.4" fill="#98cc98"/>
<rect x="547" y="352.52" width="11.75" height="10.4" fill="#86b8a0"/>
<rect x="558.7" y="352.52" width="10.35" height="10.4" fill="#72aab8"/>
<rect x="569" y="352.52" width="10.05" height="10.4" fill="#6898a8"/>
<rect x="579" y="352.52" width="5.65" height="10.4" fill="#5a8590"/>
<rect x="584.6" y="352.52" width="5.75" height="10.4" fill="#4a6e78"/>
<text x="375.4" y="359.62" font-size="7" text-anchor="end" fill="#444" stroke="#444" stroke-width="0.12">NOR</text>
<rect x="376.1" y="365.38" width="43.45" height="10.4" fill="#fffbd0"/>
<rect x="419.5" y="365.38" width="40.45" height="10.4" fill="#fdf296"/>
<rect x="459.9" y="365.38" width="42.25" height="10.4" fill="#d4eba0"/>
<rect x="502.1" y="365.38" width="25.85" height="10.4" fill="#b9e0b0"/>
<rect x="527.9" y="365.38" width="21.05" height="10.4" fill="#a2d6a6"/>
<rect x="548.9" y="365.38" width="15.25" height="10.4" fill="#98cc98"/>
<rect x="564.1" y="365.38" width="12.85" height="10.4" fill="#86b8a0"/>
<rect x="576.9" y="365.38" width="11.05" height="10.4" fill="#72aab8"/>
<rect x="587.9" y="365.38" width="7.75" height="10.4" fill="#6898a8"/>
<rect x="595.6" y="365.38" width="6.85" height="10.4" fill="#5a8590"/>
<rect x="602.4" y="365.38" width="6.15" height="10.4" fill="#4a6e78"/>
<text x="375.4" y="372.48" font-size="7" text-anchor="end" fill="#444" stroke="#444" stroke-width="0.12">PAR</text>
<rect x="376.1" y="378.24" width="39.05" height="10.4" fill="#fffbd0"/>
<rect x="415.1" y="378.24" width="39.05" height="10.4" fill="#fdf296"/>
<rect x="454.1" y="378.24" width="31.95" height="10.4" fill="#d4eba0"/>
<rect x="486" y="378.24" width="25.25" height="10.4" fill="#b9e0b0"/>
<rect x="511.2" y="378.24" width="18.65" height="10.4" fill="#a2d6a6"/>
<rect x="529.8" y="378.24" width="14.05" height="10.4" fill="#98cc98"/>
<rect x="543.8" y="378.24" width="11.65" height="10.4" fill="#86b8a0"/>
<rect x="555.4" y="378.24" width="9.25" height="10.4" fill="#72aab8"/>
<rect x="564.6" y="378.24" width="8.15" height="10.4" fill="#6898a8"/>
<rect x="572.7" y="378.24" width="6.35" height="10.4" fill="#5a8590"/>
<rect x="579" y="378.24" width="6.85" height="10.4" fill="#4a6e78"/>
<text x="375.4" y="385.34" font-size="7" text-anchor="end" fill="#444" stroke="#444" stroke-width="0.12">ROB</text>
<rect x="376.1" y="391.1" width="43.75" height="10.4" fill="#fffbd0"/>
<rect x="419.8" y="391.1" width="41.15" height="10.4" fill="#fdf296"/>
<rect x="460.9" y="391.1" width="39.05" height="10.4" fill="#d4eba0"/>
<rect x="499.9" y="391.1" width="25.75" height="10.4" fill="#b9e0b0"/>
<rect x="525.6" y="391.1" width="19.35" height="10.4" fill="#a2d6a6"/>
<rect x="544.9" y="391.1" width="15.05" height="10.4" fill="#98cc98"/>
<rect x="559.9" y="391.1" width="13.15" height="10.4" fill="#86b8a0"/>
<rect x="573" y="391.1" width="10.05" height="10.4" fill="#72aab8"/>
<rect x="583" y="391.1" width="8.25" height="10.4" fill="#6898a8"/>
<rect x="591.2" y="391.1" width="6.35" height="10.4" fill="#5a8590"/>
<rect x="597.5" y="391.1" width="6.35" height="10.4" fill="#4a6e78"/>
<text x="375.4" y="398.2" font-size="7" text-anchor="end" fill="#444" stroke="#444" stroke-width="0.12">WEE</text>
<text x="376.8" y="406.7" font-size="6.5" text-anchor="middle" fill="#444" stroke="#444" stroke-width="0.12">0</text>
<text x="436.8" y="406.7" font-size="6.5" text-anchor="middle" fill="#444" stroke="#444" stroke-width="0.12">50</text>
<text x="496.8" y="406.7" font-size="6.5" text-anchor="middle" fill="#444" stroke="#444" stroke-width="0.12">100</text>
<text x="556.8" y="406.7" font-size="6.5" text-anchor="middle" fill="#444" stroke="#444" stroke-width="0.12">150</text>
<text x="616.8" y="406.7" font-size="6.5" text-anchor="middle" fill="#444" stroke="#444" stroke-width="0.12">200</text>
<text x="676.8" y="406.7" font-size="6.5" text-anchor="middle" fill="#444" stroke="#444" stroke-width="0.12">250</text>
<text x="531.2" y="414.8" font-size="6.5" text-anchor="middle" fill="#444" stroke="#444" stroke-width="0.12">Log2 (1+TPM)</text>
<rect x="352" y="420" width="2.6" height="2.6" fill="#fffbd0"/>
<text x="364.4" y="423.6" font-size="6.7" text-anchor="start" fill="#555" stroke="#555" stroke-width="0.12">NAC</text>
<rect x="382.3" y="420" width="2.6" height="2.6" fill="#fdf296"/>
<text x="387.2" y="423.6" font-size="6.7" text-anchor="start" fill="#555" stroke="#555" stroke-width="0.12">AP2/EREBP</text>
<rect x="427.7" y="420" width="2.6" height="2.6" fill="#d4eba0"/>
<text x="430.6" y="423.6" font-size="6.7" text-anchor="start" fill="#555" stroke="#555" stroke-width="0.12">MYB</text>
<rect x="450" y="420" width="2.6" height="2.6" fill="#b9e0b0"/>
<text x="453.7" y="423.6" font-size="6.7" text-anchor="start" fill="#555" stroke="#555" stroke-width="0.12">MADS_II</text>
<rect x="484.5" y="420" width="2.6" height="2.6" fill="#a2d6a6"/>
<text x="487.7" y="423.6" font-size="6.7" text-anchor="start" fill="#555" stroke="#555" stroke-width="0.12">SBP</text>
<rect x="506.1" y="420" width="2.6" height="2.6" fill="#98cc98"/>
<text x="508.9" y="423.6" font-size="6.7" text-anchor="start" fill="#555" stroke="#555" stroke-width="0.12">CSD</text>
<rect x="529.2" y="420" width="2.6" height="2.6" fill="#86b8a0"/>
<text x="532.4" y="423.6" font-size="6.7" text-anchor="start" fill="#555" stroke="#555" stroke-width="0.12">C2C2_Dof</text>
<rect x="567.5" y="420" width="2.6" height="2.6" fill="#72aab8"/>
<text x="570.8" y="423.6" font-size="6.7" text-anchor="start" fill="#555" stroke="#555" stroke-width="0.12">ABI3/VP1</text>
<rect x="604" y="420" width="2.6" height="2.6" fill="#6898a8"/>
<text x="610.2" y="423.6" font-size="6.7" text-anchor="start" fill="#555" stroke="#555" stroke-width="0.12">TAZ</text>
<rect x="625.6" y="420" width="2.6" height="2.6" fill="#5a8590"/>
<text x="631.8" y="423.6" font-size="6.7" text-anchor="start" fill="#555" stroke="#555" stroke-width="0.12">NF-YB</text>
<rect x="654.5" y="420" width="2.6" height="2.6" fill="#4a6e78"/>
<text x="658" y="423.6" font-size="6.7" text-anchor="start" fill="#555" stroke="#555" stroke-width="0.12">PLATZ</text>
<text x="356.8" y="444.5" font-size="10" text-anchor="start" fill="#111" stroke="#111" stroke-width="0.12">D</text>
<text x="388.5" y="475.3" font-size="6.4" text-anchor="end" fill="#111" stroke="#111" stroke-width="0.12">Norin 61</text>
<line x1="394.5" y1="473" x2="679.7" y2="473" stroke="#b8a890" stroke-width="2.2"/>
<text x="390.4" y="493.3" font-size="6.4" text-anchor="end" fill="#111" stroke="#111" stroke-width="0.12">CDC Stanley</text>
<line x1="394.5" y1="491" x2="679.7" y2="491" stroke="#14a08a" stroke-width="2.2"/>
<text x="393.4" y="509.9" font-size="6.4" text-anchor="end" fill="#111" stroke="#111" stroke-width="0.12">SY Mattis &amp; Julius</text>
<line x1="394.5" y1="507.6" x2="679.7" y2="507.6" stroke="#2e4a8e" stroke-width="2.2"/>
<text x="386.4" y="527.8" font-size="6.4" text-anchor="end" fill="#111" stroke="#111" stroke-width="0.12">Mace</text>
<line x1="394.5" y1="525.5" x2="679.7" y2="525.5" stroke="#e8503a" stroke-width="2.2"/>
<rect x="402.3" y="465.3" width="10.2" height="66.9" rx="5" ry="5" fill="#90d4c0"/>
<text x="407.4" y="471.2" font-size="5.6" text-anchor="middle" fill="#222" stroke="#222" stroke-width="0.12">a</text>
<rect x="422.2" y="465.3" width="10.2" height="66.9" rx="5" ry="5" fill="#90d4c0"/>
<text x="427.3" y="471.2" font-size="5.6" text-anchor="middle" fill="#222" stroke="#222" stroke-width="0.12">b</text>
<rect x="435.9" y="465.3" width="10.2" height="66.9" rx="5" ry="5" fill="#90d4c0"/>
<text x="441" y="471.2" font-size="5.6" text-anchor="middle" fill="#222" stroke="#222" stroke-width="0.12">c</text>
<rect x="568.6" y="465.3" width="10.2" height="66.9" rx="5" ry="5" fill="#90d4c0"/>
<text x="573.7" y="471.2" font-size="5.6" text-anchor="middle" fill="#222" stroke="#222" stroke-width="0.12">k</text>
<rect x="582.8" y="465.3" width="10.2" height="66.9" rx="5" ry="5" fill="#90d4c0"/>
<text x="587.9" y="471.2" font-size="5.6" text-anchor="middle" fill="#222" stroke="#222" stroke-width="0.12">l</text>
<rect x="597" y="465.3" width="10.2" height="66.9" rx="5" ry="5" fill="#90d4c0"/>
<text x="602.1" y="471.2" font-size="5.6" text-anchor="middle" fill="#222" stroke="#222" stroke-width="0.12">m</text>
<rect x="611.1" y="465.3" width="10.2" height="66.9" rx="5" ry="5" fill="#90d4c0"/>
<text x="616.2" y="471.2" font-size="5.6" text-anchor="middle" fill="#222" stroke="#222" stroke-width="0.12">n</text>
<rect x="639" y="465.3" width="10.2" height="66.9" rx="5" ry="5" fill="#90d4c0"/>
<text x="644.1" y="471.2" font-size="5.6" text-anchor="middle" fill="#222" stroke="#222" stroke-width="0.12">o</text>
<rect x="661.1" y="465.3" width="10.2" height="66.9" rx="5" ry="5" fill="#90d4c0"/>
<text x="666.2" y="471.2" font-size="5.6" text-anchor="middle" fill="#222" stroke="#222" stroke-width="0.12">p</text>
<rect x="467.1" y="465.3" width="9.7" height="66.9" rx="4.8" ry="4.8" fill="#a2d8c6"/>
<text x="471.95" y="471.2" font-size="5.6" text-anchor="middle" fill="#222" stroke="#222" stroke-width="0.12">d</text>
<circle cx="471.9" cy="482.4" r="5.3" fill="none" stroke="#14a08a" stroke-width="2"/>
<path d="M466.5 491 C469 491 470 487.4 471.9 487.6 C474 487.4 475 491 477.5 491" fill="none" stroke="#14a08a" stroke-width="2"/>
<circle cx="471.9" cy="499.3" r="5.3" fill="none" stroke="#2e4a8e" stroke-width="2"/>
<path d="M466.5 507.6 C469 507.6 470 504.3 471.9 504.5 C474 504.3 475 507.6 477.5 507.6" fill="none" stroke="#2e4a8e" stroke-width="2"/>
<circle cx="471.9" cy="517.3" r="5.3" fill="none" stroke="#e8503a" stroke-width="2"/>
<path d="M466.5 525.5 C469 525.5 470 522.3 471.9 522.5 C474 522.3 475 525.5 477.5 525.5" fill="none" stroke="#e8503a" stroke-width="2"/>
<rect x="507.1" y="465.5" width="9.6" height="31.8" rx="1" fill="#8088b0"/>
<text x="511.9" y="471.2" font-size="5.8" text-anchor="middle" fill="#222" stroke="#222" stroke-width="0.12">g</text>
<ellipse cx="525" cy="472.1" rx="5.5" ry="6.8" fill="#50b8d8"/>
<text x="525" y="471.2" font-size="5.6" text-anchor="middle" fill="#222" stroke="#222" stroke-width="0.12">h</text>
<ellipse cx="537.45" cy="472.1" rx="5.5" ry="6.8" fill="#50b8d8"/>
<text x="537.45" y="471.2" font-size="5.6" text-anchor="middle" fill="#222" stroke="#222" stroke-width="0.12">i</text>
<ellipse cx="549.65" cy="472.1" rx="5.5" ry="6.8" fill="#50b8d8"/>
<text x="549.65" y="471.2" font-size="5.6" text-anchor="middle" fill="#222" stroke="#222" stroke-width="0.12">j</text>
<ellipse cx="487.4" cy="525.5" rx="5.4" ry="6.6" fill="#50b8d8"/>
<text x="487.4" y="524.2" font-size="5.6" text-anchor="middle" fill="#222" stroke="#222" stroke-width="0.12">e</text>
<ellipse cx="499.6" cy="525.5" rx="5.4" ry="6.6" fill="#50b8d8"/>
<text x="499.6" y="524.2" font-size="5.6" text-anchor="middle" fill="#222" stroke="#222" stroke-width="0.12">f</text>
</svg>
</body></html>
